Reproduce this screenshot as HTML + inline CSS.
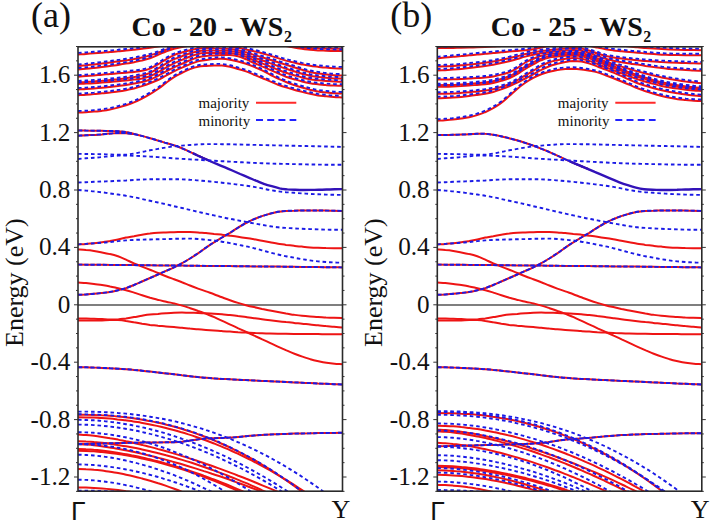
<!DOCTYPE html>
<html><head><meta charset="utf-8"><style>
html,body{margin:0;padding:0;background:#fff;}
svg{display:block;}
text{font-family:"Liberation Serif",serif;fill:#111;}
.tl{font-size:25.2px;text-anchor:end;}
.sym{font-size:26px;}
.gam{font-size:26.5px;font-family:"Liberation Sans",sans-serif;}
.yl{font-size:26px;}
.pl{font-size:36px;}
.tt{font-size:28px;font-weight:bold;}
.lg{font-size:15px;}
.r{fill:none;stroke:#ee1414;stroke-width:2.0;}
.b{fill:none;stroke:#1a1ae6;stroke-width:1.9;stroke-dasharray:3.6 2.9;}
.p{fill:none;stroke:#1a1ae6;stroke-width:1.9;stroke-dasharray:4.3 1.9;}
.v{fill:none;stroke:#3212b8;stroke-width:2.4;}
</style></head><body>
<svg width="712" height="526" viewBox="0 0 712 526">
<clipPath id="ca"><rect x="78.0" y="46.8" width="264.5" height="444.4"/></clipPath>
<g clip-path="url(#ca)">
<line x1="78.0" y1="305.00" x2="342.5" y2="305.00" stroke="#555" stroke-width="1.6"/>
<path d="M78.0,112.5 C79.3,112.5 83.3,112.4 86.0,112.2 C88.7,112.1 91.3,111.8 94.0,111.6 C96.7,111.4 99.3,111.1 102.0,110.8 C104.7,110.4 107.3,110.0 110.0,109.4 C112.7,108.9 115.3,108.3 118.0,107.6 C120.7,106.9 123.3,106.2 126.0,105.3 C128.7,104.4 131.3,103.5 134.0,102.4 C136.7,101.3 139.3,99.9 142.0,98.5 C144.7,97.2 147.3,95.7 150.0,94.1 C152.7,92.6 155.3,90.9 158.0,89.0 C160.7,87.2 163.3,84.9 166.0,82.9 C168.7,80.9 171.3,78.8 174.0,77.2 C176.7,75.5 179.3,74.3 182.0,72.9 C184.7,71.6 187.3,70.2 190.0,69.1 C192.7,68.1 195.3,67.2 198.0,66.7 C200.7,66.1 203.3,66.1 206.0,65.9 C208.7,65.7 211.3,65.6 214.0,65.5 C216.7,65.4 219.3,65.3 222.0,65.5 C224.7,65.7 227.3,66.2 230.0,66.8 C232.7,67.4 235.3,68.2 238.0,69.0 C240.7,69.7 243.3,70.5 246.0,71.4 C248.7,72.4 251.3,73.6 254.0,74.7 C256.7,75.8 259.3,76.9 262.0,78.0 C264.7,79.1 267.3,80.3 270.0,81.4 C272.7,82.5 275.3,83.7 278.0,84.7 C280.7,85.7 283.3,86.6 286.0,87.4 C288.7,88.3 291.3,89.1 294.0,89.8 C296.7,90.6 299.3,91.2 302.0,91.9 C304.7,92.6 307.3,93.2 310.0,93.8 C312.7,94.4 315.3,94.9 318.0,95.4 C320.7,95.8 323.3,96.0 326.0,96.3 C328.7,96.6 331.3,96.9 334.0,97.0 C336.7,97.2 340.7,97.3 342.0,97.4" class="r"/>
<path d="M78.0,95.2 C79.3,95.1 83.3,94.9 86.0,94.7 C88.7,94.5 91.3,94.3 94.0,94.1 C96.7,93.8 99.3,93.6 102.0,93.3 C104.7,93.0 107.3,92.8 110.0,92.5 C112.7,92.1 115.3,91.8 118.0,91.4 C120.7,91.1 123.3,90.7 126.0,90.2 C128.7,89.7 131.3,89.1 134.0,88.5 C136.7,87.8 139.3,87.0 142.0,86.1 C144.7,85.3 147.3,84.4 150.0,83.3 C152.7,82.3 155.3,81.2 158.0,80.0 C160.7,78.7 163.3,77.1 166.0,75.7 C168.7,74.3 171.3,72.7 174.0,71.4 C176.7,70.1 179.3,68.9 182.0,67.7 C184.7,66.5 187.3,65.2 190.0,64.1 C192.7,63.1 195.3,62.1 198.0,61.4 C200.7,60.7 203.3,60.4 206.0,60.0 C208.7,59.6 211.3,59.2 214.0,59.0 C216.7,58.8 219.3,58.6 222.0,58.8 C224.7,58.9 227.3,59.3 230.0,59.8 C232.7,60.2 235.3,60.9 238.0,61.5 C240.7,62.2 243.3,62.9 246.0,63.8 C248.7,64.7 251.3,65.8 254.0,66.9 C256.7,68.1 259.3,69.2 262.0,70.4 C264.7,71.7 267.3,73.1 270.0,74.5 C272.7,75.9 275.3,77.4 278.0,78.7 C280.7,79.9 283.3,81.0 286.0,82.0 C288.7,83.1 291.3,84.1 294.0,85.0 C296.7,85.9 299.3,86.7 302.0,87.5 C304.7,88.3 307.3,89.0 310.0,89.7 C312.7,90.3 315.3,91.0 318.0,91.4 C320.7,91.9 323.3,92.1 326.0,92.4 C328.7,92.7 331.3,93.0 334.0,93.2 C336.7,93.4 340.7,93.4 342.0,93.5" class="r"/>
<path d="M78.0,89.5 C79.3,89.4 83.3,89.3 86.0,89.1 C88.7,88.9 91.3,88.7 94.0,88.5 C96.7,88.3 99.3,88.1 102.0,87.8 C104.7,87.6 107.3,87.3 110.0,87.0 C112.7,86.7 115.3,86.4 118.0,86.1 C120.7,85.7 123.3,85.4 126.0,85.0 C128.7,84.6 131.3,84.1 134.0,83.6 C136.7,83.1 139.3,82.7 142.0,82.0 C144.7,81.3 147.3,80.6 150.0,79.5 C152.7,78.5 155.3,77.1 158.0,75.8 C160.7,74.4 163.3,72.8 166.0,71.4 C168.7,70.0 171.3,68.6 174.0,67.3 C176.7,66.0 179.3,65.0 182.0,63.8 C184.7,62.7 187.3,61.3 190.0,60.3 C192.7,59.2 195.3,58.0 198.0,57.3 C200.7,56.6 203.3,56.2 206.0,55.9 C208.7,55.6 211.3,55.6 214.0,55.4 C216.7,55.3 219.3,55.2 222.0,55.1 C224.7,55.0 227.3,54.8 230.0,55.0 C232.7,55.2 235.3,55.5 238.0,56.2 C240.7,56.9 243.3,58.1 246.0,59.2 C248.7,60.4 251.3,61.8 254.0,63.0 C256.7,64.2 259.3,65.2 262.0,66.4 C264.7,67.5 267.3,68.6 270.0,69.8 C272.7,71.0 275.3,72.3 278.0,73.4 C280.7,74.5 283.3,75.7 286.0,76.7 C288.7,77.6 291.3,78.4 294.0,79.2 C296.7,80.0 299.3,80.8 302.0,81.5 C304.7,82.2 307.3,82.8 310.0,83.3 C312.7,83.8 315.3,84.0 318.0,84.3 C320.7,84.6 323.3,84.8 326.0,85.1 C328.7,85.3 331.3,85.5 334.0,85.6 C336.7,85.7 340.7,85.8 342.0,85.8" class="r"/>
<path d="M78.0,84.0 C79.3,83.9 83.3,83.8 86.0,83.6 C88.7,83.5 91.3,83.4 94.0,83.2 C96.7,83.0 99.3,82.8 102.0,82.6 C104.7,82.4 107.3,82.2 110.0,82.0 C112.7,81.8 115.3,81.6 118.0,81.3 C120.7,81.1 123.3,80.9 126.0,80.6 C128.7,80.3 131.3,80.0 134.0,79.6 C136.7,79.2 139.3,78.9 142.0,78.4 C144.7,77.8 147.3,77.2 150.0,76.2 C152.7,75.2 155.3,73.7 158.0,72.2 C160.7,70.8 163.3,69.1 166.0,67.6 C168.7,66.1 171.3,64.5 174.0,63.3 C176.7,62.0 179.3,61.1 182.0,59.9 C184.7,58.8 187.3,57.6 190.0,56.5 C192.7,55.5 195.3,54.5 198.0,53.9 C200.7,53.3 203.3,53.2 206.0,53.0 C208.7,52.8 211.3,53.0 214.0,53.0 C216.7,53.0 219.3,53.0 222.0,53.0 C224.7,53.0 227.3,52.8 230.0,53.0 C232.7,53.2 235.3,53.5 238.0,54.1 C240.7,54.8 243.3,55.8 246.0,56.8 C248.7,57.9 251.3,59.2 254.0,60.2 C256.7,61.3 259.3,62.3 262.0,63.4 C264.7,64.4 267.3,65.4 270.0,66.5 C272.7,67.5 275.3,68.7 278.0,69.7 C280.7,70.8 283.3,71.8 286.0,72.7 C288.7,73.6 291.3,74.4 294.0,75.2 C296.7,76.0 299.3,76.8 302.0,77.5 C304.7,78.2 307.3,78.8 310.0,79.3 C312.7,79.8 315.3,80.0 318.0,80.3 C320.7,80.6 323.3,80.8 326.0,81.0 C328.7,81.2 331.3,81.4 334.0,81.5 C336.7,81.6 340.7,81.7 342.0,81.7" class="r"/>
<path d="M78.0,82.4 C79.3,82.3 83.3,82.2 86.0,82.0 C88.7,81.8 91.3,81.6 94.0,81.4 C96.7,81.2 99.3,81.0 102.0,80.8 C104.7,80.5 107.3,80.3 110.0,80.0 C112.7,79.7 115.3,79.5 118.0,79.2 C120.7,78.9 123.3,78.6 126.0,78.2 C128.7,77.8 131.3,77.4 134.0,77.0 C136.7,76.5 139.3,76.1 142.0,75.4 C144.7,74.8 147.3,74.1 150.0,72.9 C152.7,71.8 155.3,70.1 158.0,68.5 C160.7,67.0 163.3,65.1 166.0,63.6 C168.7,62.0 171.3,60.4 174.0,59.2 C176.7,58.0 179.3,57.2 182.0,56.2 C184.7,55.2 187.3,54.2 190.0,53.3 C192.7,52.5 195.3,51.7 198.0,51.2 C200.7,50.7 203.3,50.6 206.0,50.5 C208.7,50.4 211.3,50.5 214.0,50.6 C216.7,50.6 219.3,50.7 222.0,50.7 C224.7,50.8 227.3,50.8 230.0,51.0 C232.7,51.2 235.3,51.6 238.0,52.2 C240.7,52.8 243.3,53.7 246.0,54.6 C248.7,55.5 251.3,56.6 254.0,57.6 C256.7,58.5 259.3,59.4 262.0,60.3 C264.7,61.2 267.3,62.1 270.0,63.1 C272.7,64.0 275.3,65.0 278.0,66.0 C280.7,66.9 283.3,67.9 286.0,68.8 C288.7,69.6 291.3,70.4 294.0,71.2 C296.7,72.0 299.3,72.9 302.0,73.7 C304.7,74.4 307.3,75.1 310.0,75.7 C312.7,76.2 315.3,76.5 318.0,76.9 C320.7,77.2 323.3,77.5 326.0,77.7 C328.7,78.0 331.3,78.2 334.0,78.4 C336.7,78.5 340.7,78.6 342.0,78.6" class="r"/>
<path d="M78.0,76.8 C79.3,76.7 83.3,76.4 86.0,76.1 C88.7,75.9 91.3,75.7 94.0,75.5 C96.7,75.2 99.3,75.0 102.0,74.7 C104.7,74.5 107.3,74.2 110.0,74.0 C112.7,73.8 115.3,73.5 118.0,73.3 C120.7,73.1 123.3,72.9 126.0,72.7 C128.7,72.4 131.3,72.2 134.0,71.9 C136.7,71.6 139.3,71.4 142.0,70.8 C144.7,70.3 147.3,69.7 150.0,68.6 C152.7,67.6 155.3,65.9 158.0,64.3 C160.7,62.8 163.3,60.9 166.0,59.3 C168.7,57.8 171.3,56.2 174.0,55.1 C176.7,53.9 179.3,53.3 182.0,52.5 C184.7,51.7 187.3,50.9 190.0,50.2 C192.7,49.6 195.3,48.9 198.0,48.5 C200.7,48.2 203.3,48.1 206.0,48.0 C208.7,47.9 211.3,48.1 214.0,48.2 C216.7,48.2 219.3,48.4 222.0,48.5 C224.7,48.6 227.3,48.7 230.0,49.0 C232.7,49.3 235.3,49.6 238.0,50.2 C240.7,50.7 243.3,51.5 246.0,52.3 C248.7,53.1 251.3,54.0 254.0,54.9 C256.7,55.7 259.3,56.5 262.0,57.3 C264.7,58.1 267.3,58.9 270.0,59.7 C272.7,60.5 275.3,61.4 278.0,62.3 C280.7,63.1 283.3,64.0 286.0,64.8 C288.7,65.6 291.3,66.4 294.0,67.2 C296.7,68.1 299.3,69.0 302.0,69.8 C304.7,70.6 307.3,71.4 310.0,72.0 C312.7,72.6 315.3,73.0 318.0,73.4 C320.7,73.8 323.3,74.2 326.0,74.5 C328.7,74.8 331.3,75.1 334.0,75.3 C336.7,75.5 340.7,75.5 342.0,75.6" class="r"/>
<path d="M78.0,69.5 C79.3,69.4 83.3,69.1 86.0,68.8 C88.7,68.6 91.3,68.3 94.0,68.0 C96.7,67.7 99.3,67.4 102.0,67.0 C104.7,66.7 107.3,66.4 110.0,66.0 C112.7,65.6 115.3,65.3 118.0,64.9 C120.7,64.5 123.3,64.1 126.0,63.6 C128.7,63.2 131.3,62.7 134.0,62.2 C136.7,61.6 139.3,61.1 142.0,60.5 C144.7,59.8 147.3,59.1 150.0,58.2 C152.7,57.3 155.3,56.1 158.0,54.9 C160.7,53.8 163.3,52.6 166.0,51.5 C168.7,50.5 171.3,49.5 174.0,48.7 C176.7,48.0 179.3,47.5 182.0,47.0 C184.7,46.4 187.3,45.9 190.0,45.5 C192.7,45.0 195.3,44.6 198.0,44.4 C200.7,44.1 203.3,44.0 206.0,44.0 C208.7,44.0 211.3,44.2 214.0,44.5 C216.7,44.7 219.3,45.1 222.0,45.4 C224.7,45.7 227.3,46.1 230.0,46.5 C232.7,46.9 235.3,47.3 238.0,47.8 C240.7,48.3 243.3,48.8 246.0,49.4 C248.7,50.0 251.3,50.6 254.0,51.3 C256.7,51.9 259.3,52.5 262.0,53.3 C264.7,54.0 267.3,54.8 270.0,55.6 C272.7,56.4 275.3,57.3 278.0,58.1 C280.7,59.0 283.3,59.8 286.0,60.6 C288.7,61.3 291.3,61.9 294.0,62.5 C296.7,63.2 299.3,63.8 302.0,64.4 C304.7,64.9 307.3,65.4 310.0,65.8 C312.7,66.3 315.3,66.5 318.0,66.8 C320.7,67.1 323.3,67.4 326.0,67.6 C328.7,67.8 331.3,68.0 334.0,68.2 C336.7,68.3 340.7,68.4 342.0,68.4" class="r"/>
<path d="M78.0,66.0 C79.3,65.9 83.3,65.5 86.0,65.3 C88.7,65.0 91.3,64.7 94.0,64.4 C96.7,64.1 99.3,63.8 102.0,63.5 C104.7,63.2 107.3,62.8 110.0,62.5 C112.7,62.2 115.3,61.8 118.0,61.4 C120.7,61.1 123.3,60.7 126.0,60.3 C128.7,59.9 131.3,59.4 134.0,59.0 C136.7,58.5 139.3,58.0 142.0,57.4 C144.7,56.8 147.3,56.2 150.0,55.4 C152.7,54.7 155.3,53.7 158.0,52.8 C160.7,51.8 163.3,50.8 166.0,49.8 C168.7,48.9 171.3,47.9 174.0,47.0 C176.7,46.1 179.3,45.3 182.0,44.4 C184.7,43.5 187.3,42.5 190.0,41.6 C192.7,40.7 195.3,39.8 198.0,39.2 C200.7,38.6 203.3,38.2 206.0,37.9 C208.7,37.6 211.3,37.4 214.0,37.2 C216.7,37.0 219.3,36.8 222.0,36.6 C224.7,36.4 227.3,36.3 230.0,36.2 C232.7,36.1 235.3,36.0 238.0,36.0 C240.7,36.0 243.3,36.1 246.0,36.4 C248.7,36.8 251.3,37.4 254.0,38.0 C256.7,38.7 259.3,39.5 262.0,40.3 C264.7,41.0 267.3,41.9 270.0,42.6 C272.7,43.3 275.3,43.8 278.0,44.4 C280.7,45.0 283.3,45.5 286.0,46.1 C288.7,46.6 291.3,47.1 294.0,47.6 C296.7,48.0 299.3,48.4 302.0,48.8 C304.7,49.1 307.3,49.5 310.0,49.7 C312.7,50.0 315.3,50.2 318.0,50.4 C320.7,50.6 323.3,50.6 326.0,50.7 C328.7,50.8 331.3,50.9 334.0,50.9 C336.7,51.0 340.7,51.0 342.0,51.0" class="r"/>
<path d="M78.0,54.4 C79.3,54.3 83.3,54.1 86.0,53.9 C88.7,53.7 91.3,53.5 94.0,53.3 C96.7,53.1 99.3,52.9 102.0,52.7 C104.7,52.5 107.3,52.2 110.0,52.0 C112.7,51.8 115.3,51.5 118.0,51.3 C120.7,51.0 123.3,50.8 126.0,50.5 C128.7,50.3 131.3,50.0 134.0,49.7 C136.7,49.4 139.3,49.1 142.0,48.8 C144.7,48.4 147.3,48.1 150.0,47.7 C152.7,47.3 155.3,46.9 158.0,46.4 C160.7,46.0 163.3,45.5 166.0,45.0 C168.7,44.6 171.3,44.1 174.0,43.6 C176.7,43.0 179.3,42.5 182.0,41.9 C184.7,41.3 187.3,40.6 190.0,40.0 C192.7,39.3 195.3,38.6 198.0,38.0 C200.7,37.4 203.3,36.8 206.0,36.5 C208.7,36.1 211.3,35.9 214.0,35.7 C216.7,35.4 219.3,35.3 222.0,35.1 C224.7,34.9 227.3,34.7 230.0,34.6 C232.7,34.4 235.3,34.3 238.0,34.2 C240.7,34.1 243.3,34.0 246.0,34.0 C248.7,34.1 251.3,33.9 254.0,34.4 C256.7,34.9 259.3,35.9 262.0,36.9 C264.7,37.9 267.3,39.3 270.0,40.4 C272.7,41.5 275.3,42.7 278.0,43.5 C280.7,44.3 283.3,44.8 286.0,45.3 C288.7,45.9 291.3,46.5 294.0,46.9 C296.7,47.2 299.3,47.4 302.0,47.6 C304.7,47.8 307.3,47.9 310.0,48.0 C312.7,48.1 315.3,48.3 318.0,48.3 C320.7,48.4 323.3,48.5 326.0,48.6 C328.7,48.7 331.3,48.7 334.0,48.7 C336.7,48.8 340.7,48.8 342.0,48.8" class="r"/>
<path d="M78.0,130.5 C79.3,130.5 83.3,130.5 86.0,130.6 C88.7,130.6 91.3,130.7 94.0,130.7 C96.7,130.7 99.3,130.8 102.0,130.8 C104.7,130.9 107.3,130.9 110.0,131.0 C112.7,131.0 115.3,131.0 118.0,131.2 C120.7,131.4 123.3,131.6 126.0,132.1 C128.7,132.5 132.7,133.7 134.0,134.0" class="r"/>
<path d="M78.0,135.7 C79.3,135.6 83.3,135.5 86.0,135.3 C88.7,135.2 91.3,135.0 94.0,134.9 C96.7,134.7 99.3,134.6 102.0,134.4 C104.7,134.1 107.3,133.8 110.0,133.6 C112.7,133.4 115.3,133.1 118.0,133.0 C120.7,133.0 123.3,133.0 126.0,133.2 C128.7,133.4 132.7,133.9 134.0,134.0" class="r"/>
<path d="M134.0,134.0 C135.3,134.3 139.1,135.2 141.7,135.9 C144.2,136.6 146.8,137.2 149.3,138.0 C151.9,138.7 154.5,139.5 157.0,140.3 C159.6,141.0 162.1,141.8 164.7,142.6 C167.2,143.3 169.8,144.0 172.3,144.8 C174.9,145.6 177.5,146.5 180.0,147.5 C182.6,148.5 185.1,149.8 187.7,150.9 C190.2,152.0 192.8,153.2 195.4,154.4 C197.9,155.5 200.5,156.7 203.0,157.8 C205.6,159.0 209.4,160.8 210.7,161.4" class="r"/>
<path d="M78.0,294.7 C79.3,294.7 83.3,294.6 86.0,294.5 C88.7,294.3 91.3,294.1 94.0,293.8 C96.7,293.6 99.3,293.3 102.0,293.0 C104.7,292.7 107.3,292.4 110.0,291.9 C112.7,291.5 115.3,290.9 118.0,290.3 C120.7,289.6 123.3,289.0 126.0,288.1 C128.7,287.2 131.3,286.1 134.0,285.0 C136.7,283.9 139.3,282.7 142.0,281.5 C144.7,280.3 147.3,279.2 150.0,278.0 C152.7,276.9 155.3,275.6 158.0,274.5 C160.7,273.3 163.3,272.1 166.0,270.9 C168.7,269.7 171.3,268.6 174.0,267.3 C176.7,266.0 179.3,264.7 182.0,263.2 C184.7,261.8 187.3,260.1 190.0,258.5 C192.7,256.8 195.3,255.1 198.0,253.3 C200.7,251.5 203.3,249.4 206.0,247.6 C208.7,245.7 211.3,243.9 214.0,242.3 C216.7,240.6 219.3,239.1 222.0,237.5 C224.7,235.9 227.3,234.4 230.0,232.8 C232.7,231.1 235.3,229.3 238.0,227.7 C240.7,226.1 243.3,224.4 246.0,223.0 C248.7,221.6 251.3,220.4 254.0,219.2 C256.7,218.1 259.3,217.0 262.0,216.1 C264.7,215.2 267.3,214.5 270.0,213.7 C272.7,213.0 275.3,212.3 278.0,211.8 C280.7,211.3 283.3,211.1 286.0,210.9 C288.7,210.7 291.3,210.7 294.0,210.7 C296.7,210.6 299.3,210.6 302.0,210.5 C304.7,210.5 307.3,210.5 310.0,210.5 C312.7,210.5 315.3,210.5 318.0,210.5 C320.7,210.5 323.3,210.6 326.0,210.6 C328.7,210.6 331.3,210.7 334.0,210.7 C336.7,210.8 340.7,210.9 342.0,210.9" class="r"/>
<path d="M78.0,244.4 C79.3,244.3 83.3,244.1 86.0,243.9 C88.7,243.7 91.3,243.4 94.0,243.2 C96.7,242.9 99.3,242.6 102.0,242.2 C104.7,241.9 107.3,241.5 110.0,241.1 C112.7,240.6 115.3,240.0 118.0,239.4 C120.7,238.8 123.3,238.2 126.0,237.6 C128.7,237.1 131.3,236.6 134.0,236.2 C136.7,235.7 139.3,235.2 142.0,234.8 C144.7,234.4 147.3,233.9 150.0,233.6 C152.7,233.2 155.3,232.9 158.0,232.7 C160.7,232.5 163.3,232.5 166.0,232.4 C168.7,232.3 171.3,232.3 174.0,232.2 C176.7,232.1 179.3,232.1 182.0,232.0 C184.7,232.0 187.3,231.9 190.0,232.0 C192.7,232.1 195.3,232.2 198.0,232.4 C200.7,232.6 203.3,232.9 206.0,233.1 C208.7,233.4 211.3,233.6 214.0,233.9 C216.7,234.1 219.3,234.4 222.0,234.7 C224.7,235.1 227.3,235.4 230.0,235.7 C232.7,236.1 235.3,236.5 238.0,236.8 C240.7,237.2 243.3,237.6 246.0,238.0 C248.7,238.4 251.3,238.8 254.0,239.2 C256.7,239.7 259.3,240.3 262.0,240.8 C264.7,241.3 267.3,241.8 270.0,242.3 C272.7,242.8 275.3,243.4 278.0,243.8 C280.7,244.2 283.3,244.5 286.0,244.9 C288.7,245.2 291.3,245.5 294.0,245.8 C296.7,246.1 299.3,246.4 302.0,246.6 C304.7,246.9 307.3,247.2 310.0,247.4 C312.7,247.6 315.3,247.7 318.0,247.8 C320.7,248.0 323.3,248.0 326.0,248.1 C328.7,248.1 331.3,248.1 334.0,248.2 C336.7,248.2 340.7,248.2 342.0,248.2" class="r"/>
<path d="M78.0,249.5 C79.3,249.6 83.3,249.8 86.0,250.1 C88.7,250.3 91.3,250.6 94.0,251.0 C96.7,251.4 99.3,251.9 102.0,252.4 C104.7,252.9 107.3,253.4 110.0,254.1 C112.7,254.7 115.3,255.4 118.0,256.3 C120.7,257.3 123.3,258.5 126.0,259.7 C128.7,260.9 131.3,262.3 134.0,263.4 C136.7,264.5 139.3,265.5 142.0,266.6 C144.7,267.7 147.3,268.7 150.0,269.7 C152.7,270.8 155.3,272.0 158.0,273.0 C160.7,274.1 163.3,275.2 166.0,276.2 C168.7,277.3 171.3,278.2 174.0,279.2 C176.7,280.2 179.3,281.2 182.0,282.3 C184.7,283.3 187.3,284.5 190.0,285.5 C192.7,286.6 195.3,287.6 198.0,288.6 C200.7,289.6 203.3,290.5 206.0,291.4 C208.7,292.3 211.3,293.3 214.0,294.2 C216.7,295.2 219.3,296.3 222.0,297.3 C224.7,298.3 227.3,299.3 230.0,300.2 C232.7,301.2 235.3,302.1 238.0,302.9 C240.7,303.8 243.3,304.5 246.0,305.2 C248.7,305.9 251.3,306.5 254.0,307.1 C256.7,307.7 259.3,308.3 262.0,308.9 C264.7,309.4 267.3,310.0 270.0,310.5 C272.7,311.0 275.3,311.5 278.0,312.0 C280.7,312.5 283.3,313.0 286.0,313.5 C288.7,313.9 291.3,314.4 294.0,314.8 C296.7,315.2 299.3,315.6 302.0,315.8 C304.7,316.1 307.3,316.3 310.0,316.5 C312.7,316.7 315.3,316.8 318.0,317.0 C320.7,317.2 323.3,317.3 326.0,317.5 C328.7,317.6 331.3,317.7 334.0,317.8 C336.7,317.9 340.7,317.9 342.0,317.9" class="r"/>
<path d="M78.0,264.6 C79.3,264.6 83.3,264.6 86.0,264.7 C88.7,264.7 91.3,264.7 94.0,264.7 C96.7,264.8 99.3,264.8 102.0,264.8 C104.7,264.8 107.3,264.9 110.0,264.9 C112.7,264.9 115.3,264.9 118.0,265.0 C120.7,265.0 123.3,265.0 126.0,265.1 C128.7,265.1 131.3,265.1 134.0,265.1 C136.7,265.2 139.3,265.2 142.0,265.2 C144.7,265.2 147.3,265.3 150.0,265.3 C152.7,265.3 155.3,265.3 158.0,265.4 C160.7,265.4 163.3,265.4 166.0,265.4 C168.7,265.5 171.3,265.5 174.0,265.5 C176.7,265.6 179.3,265.6 182.0,265.6 C184.7,265.6 187.3,265.7 190.0,265.7 C192.7,265.7 195.3,265.7 198.0,265.8 C200.7,265.8 203.3,265.8 206.0,265.9 C208.7,265.9 211.3,265.9 214.0,265.9 C216.7,266.0 219.3,266.0 222.0,266.0 C224.7,266.1 227.3,266.1 230.0,266.1 C232.7,266.1 235.3,266.2 238.0,266.2 C240.7,266.2 243.3,266.3 246.0,266.3 C248.7,266.3 251.3,266.3 254.0,266.4 C256.7,266.4 259.3,266.4 262.0,266.5 C264.7,266.5 267.3,266.5 270.0,266.6 C272.7,266.6 275.3,266.6 278.0,266.6 C280.7,266.7 283.3,266.7 286.0,266.7 C288.7,266.8 291.3,266.8 294.0,266.8 C296.7,266.9 299.3,266.9 302.0,266.9 C304.7,267.0 307.3,267.0 310.0,267.0 C312.7,267.0 315.3,267.1 318.0,267.1 C320.7,267.1 323.3,267.2 326.0,267.2 C328.7,267.2 331.3,267.3 334.0,267.3 C336.7,267.3 340.7,267.4 342.0,267.4" class="r"/>
<path d="M78.0,282.5 C79.3,282.6 83.3,282.8 86.0,283.0 C88.7,283.3 91.4,283.6 94.0,283.9 C96.7,284.3 99.4,284.6 102.0,285.0 C104.7,285.4 107.4,285.8 110.1,286.4 C112.7,286.9 115.4,287.6 118.1,288.2 C120.7,288.9 123.4,289.6 126.1,290.3 C128.8,291.0 131.4,291.8 134.1,292.6 C136.8,293.5 139.4,294.4 142.1,295.2 C144.8,296.1 147.5,297.0 150.1,297.8 C152.8,298.5 155.5,299.3 158.2,299.9 C160.8,300.6 163.5,301.1 166.2,301.7 C168.8,302.3 171.5,302.8 174.2,303.4 C176.9,304.1 179.5,304.8 182.2,305.6 C184.9,306.4 187.5,307.3 190.2,308.2 C192.9,309.1 195.6,310.0 198.2,311.0 C200.9,311.9 203.6,312.9 206.2,313.9 C208.9,315.0 211.6,316.0 214.3,317.2 C216.9,318.4 219.6,319.6 222.3,320.9 C224.9,322.1 227.6,323.4 230.3,324.6 C233.0,325.8 235.6,327.0 238.3,328.3 C241.0,329.5 243.6,330.8 246.3,332.0 C249.0,333.2 251.7,334.4 254.3,335.7 C257.0,336.9 259.7,338.1 262.3,339.4 C265.0,340.6 267.7,341.8 270.4,343.1 C273.0,344.3 275.7,345.6 278.4,346.8 C281.1,348.0 283.7,349.2 286.4,350.4 C289.1,351.5 291.7,352.7 294.4,353.7 C297.1,354.7 299.8,355.7 302.4,356.6 C305.1,357.6 307.8,358.4 310.4,359.2 C313.1,360.0 315.8,360.6 318.5,361.2 C321.1,361.8 323.8,362.4 326.5,362.8 C329.1,363.2 331.8,363.5 334.5,363.7 C337.2,363.9 341.2,364.1 342.5,364.2" class="r"/>
<path d="M78.0,318.5 C79.3,318.5 83.3,318.6 86.0,318.6 C88.7,318.7 91.3,318.8 94.0,318.8 C96.7,318.9 99.3,319.0 102.0,319.1 C104.7,319.2 107.3,319.4 110.0,319.4 C112.7,319.5 115.3,319.5 118.0,319.4 C120.7,319.2 123.3,318.8 126.0,318.5 C128.7,318.1 131.3,317.6 134.0,317.1 C136.7,316.7 139.3,316.1 142.0,315.7 C144.7,315.3 147.3,314.9 150.0,314.6 C152.7,314.3 155.3,314.1 158.0,313.9 C160.7,313.6 163.3,313.4 166.0,313.2 C168.7,313.0 171.3,312.8 174.0,312.7 C176.7,312.6 179.3,312.6 182.0,312.6 C184.7,312.6 187.3,312.7 190.0,312.7 C192.7,312.8 195.3,312.9 198.0,313.0 C200.7,313.1 203.3,313.2 206.0,313.3 C208.7,313.4 211.3,313.5 214.0,313.7 C216.7,313.9 219.3,314.1 222.0,314.3 C224.7,314.6 227.3,314.8 230.0,315.1 C232.7,315.4 235.3,315.7 238.0,316.1 C240.7,316.4 243.3,316.8 246.0,317.1 C248.7,317.5 251.3,317.9 254.0,318.2 C256.7,318.6 259.3,319.0 262.0,319.3 C264.7,319.7 267.3,320.0 270.0,320.3 C272.7,320.6 275.3,320.9 278.0,321.2 C280.7,321.5 283.3,321.8 286.0,322.1 C288.7,322.3 291.3,322.6 294.0,322.9 C296.7,323.2 299.3,323.4 302.0,323.7 C304.7,324.0 307.3,324.2 310.0,324.5 C312.7,324.8 315.3,325.0 318.0,325.3 C320.7,325.6 323.3,325.8 326.0,326.1 C328.7,326.3 331.3,326.6 334.0,326.8 C336.7,327.1 340.7,327.5 342.0,327.6" class="r"/>
<path d="M78.0,320.5 C79.3,320.5 83.3,320.5 86.0,320.5 C88.7,320.5 91.3,320.5 94.0,320.5 C96.7,320.5 99.3,320.5 102.0,320.5 C104.7,320.4 107.3,320.1 110.0,320.1 C112.7,320.0 115.3,320.0 118.0,320.1 C120.7,320.3 123.3,320.6 126.0,321.0 C128.7,321.3 131.3,321.8 134.0,322.3 C136.7,322.7 139.3,323.2 142.0,323.7 C144.7,324.1 147.3,324.5 150.0,324.9 C152.7,325.2 155.3,325.4 158.0,325.7 C160.7,325.9 163.3,326.2 166.0,326.4 C168.7,326.7 171.3,326.9 174.0,327.1 C176.7,327.3 179.3,327.6 182.0,327.8 C184.7,328.1 187.3,328.3 190.0,328.6 C192.7,328.8 195.3,329.1 198.0,329.3 C200.7,329.6 203.3,329.8 206.0,330.0 C208.7,330.2 211.3,330.4 214.0,330.6 C216.7,330.8 219.3,330.9 222.0,331.1 C224.7,331.3 227.3,331.5 230.0,331.6 C232.7,331.8 235.3,332.0 238.0,332.2 C240.7,332.3 243.3,332.5 246.0,332.6 C248.7,332.8 251.3,332.9 254.0,333.0 C256.7,333.1 259.3,333.3 262.0,333.3 C264.7,333.4 267.3,333.5 270.0,333.6 C272.7,333.7 275.3,333.7 278.0,333.7 C280.7,333.8 283.3,333.8 286.0,333.8 C288.7,333.9 291.3,333.9 294.0,333.9 C296.7,333.9 299.3,334.0 302.0,334.0 C304.7,334.0 307.3,334.0 310.0,334.1 C312.7,334.1 315.3,334.1 318.0,334.1 C320.7,334.1 323.3,334.2 326.0,334.2 C328.7,334.2 331.3,334.2 334.0,334.2 C336.7,334.2 340.7,334.2 342.0,334.2" class="r"/>
<path d="M78.0,367.2 C79.3,367.2 83.3,367.3 86.0,367.3 C88.7,367.4 91.3,367.5 94.0,367.6 C96.7,367.6 99.3,367.8 102.0,367.9 C104.7,368.0 107.3,368.1 110.0,368.3 C112.7,368.4 115.3,368.6 118.0,368.7 C120.7,368.9 123.3,369.0 126.0,369.2 C128.7,369.4 131.3,369.6 134.0,369.9 C136.7,370.1 139.3,370.4 142.0,370.7 C144.7,371.0 147.3,371.3 150.0,371.6 C152.7,371.9 155.3,372.2 158.0,372.5 C160.7,372.8 163.3,373.1 166.0,373.4 C168.7,373.7 171.3,374.0 174.0,374.3 C176.7,374.6 179.3,374.9 182.0,375.3 C184.7,375.6 187.3,375.9 190.0,376.2 C192.7,376.5 195.3,376.8 198.0,377.1 C200.7,377.3 203.3,377.6 206.0,377.8 C208.7,378.0 211.3,378.2 214.0,378.4 C216.7,378.6 219.3,378.7 222.0,378.9 C224.7,379.0 227.3,379.2 230.0,379.3 C232.7,379.5 235.3,379.6 238.0,379.7 C240.7,379.9 243.3,380.0 246.0,380.1 C248.7,380.3 251.3,380.4 254.0,380.5 C256.7,380.6 259.3,380.7 262.0,380.9 C264.7,381.0 267.3,381.1 270.0,381.2 C272.7,381.3 275.3,381.5 278.0,381.6 C280.7,381.7 283.3,381.9 286.0,382.0 C288.7,382.1 291.3,382.2 294.0,382.4 C296.7,382.5 299.3,382.6 302.0,382.7 C304.7,382.9 307.3,383.0 310.0,383.1 C312.7,383.2 315.3,383.3 318.0,383.5 C320.7,383.6 323.3,383.7 326.0,383.8 C328.7,383.9 331.3,384.0 334.0,384.2 C336.7,384.3 340.7,384.4 342.0,384.5" class="r"/>
<path d="M78.0,444.1 C79.3,444.1 83.3,444.0 86.0,443.9 C88.7,443.8 91.3,443.7 94.0,443.7 C96.7,443.6 99.3,443.5 102.0,443.5 C104.7,443.4 107.3,443.4 110.0,443.3 C112.7,443.2 115.3,443.2 118.0,443.1 C120.7,443.1 123.3,443.0 126.0,442.9 C128.7,442.9 131.3,442.8 134.0,442.8 C136.7,442.7 139.3,442.7 142.0,442.6 C144.7,442.6 147.3,442.5 150.0,442.5 C152.7,442.5 155.3,442.4 158.0,442.4 C160.7,442.4 163.3,442.4 166.0,442.3 C168.7,442.3 171.3,442.3 174.0,442.2 C176.7,442.0 179.3,441.9 182.0,441.7 C184.7,441.4 187.3,441.0 190.0,440.6 C192.7,440.2 195.3,439.8 198.0,439.4 C200.7,439.1 203.3,438.7 206.0,438.5 C208.7,438.3 211.3,438.3 214.0,438.2 C216.7,438.1 219.3,438.1 222.0,438.0 C224.7,437.9 227.3,437.8 230.0,437.6 C232.7,437.5 235.3,437.2 238.0,437.0 C240.7,436.8 243.3,436.5 246.0,436.2 C248.7,436.0 251.3,435.7 254.0,435.5 C256.7,435.3 259.3,435.0 262.0,434.9 C264.7,434.7 267.3,434.6 270.0,434.5 C272.7,434.4 275.3,434.3 278.0,434.2 C280.7,434.1 283.3,434.0 286.0,433.9 C288.7,433.8 291.3,433.7 294.0,433.6 C296.7,433.6 299.3,433.5 302.0,433.5 C304.7,433.4 307.3,433.3 310.0,433.3 C312.7,433.2 315.3,433.2 318.0,433.1 C320.7,433.1 323.3,433.0 326.0,433.0 C328.7,432.9 331.3,432.9 334.0,432.9 C336.7,432.8 340.7,432.8 342.0,432.8" class="r"/>
<path d="M78.0,414.7 C79.3,414.7 83.3,414.7 85.9,414.8 C88.5,414.8 91.1,414.8 93.8,414.9 C96.4,415.0 99.0,415.1 101.7,415.3 C104.3,415.4 106.9,415.5 109.6,415.7 C112.2,415.9 114.8,416.1 117.4,416.4 C120.1,416.6 122.7,416.9 125.3,417.2 C128.0,417.5 130.6,417.9 133.2,418.2 C135.9,418.6 138.5,419.0 141.1,419.4 C143.7,419.9 146.4,420.4 149.0,420.9 C151.6,421.4 154.3,421.9 156.9,422.5 C159.5,423.0 162.2,423.6 164.8,424.3 C167.4,424.9 170.0,425.6 172.7,426.3 C175.3,427.0 177.9,427.7 180.6,428.5 C183.2,429.3 185.8,430.1 188.5,431.0 C191.1,431.8 193.7,432.7 196.3,433.6 C199.0,434.6 201.6,435.5 204.2,436.5 C206.9,437.5 209.5,438.6 212.1,439.6 C214.8,440.7 217.4,441.8 220.0,443.0 C222.6,444.1 225.3,445.3 227.9,446.5 C230.5,447.8 233.2,449.0 235.8,450.4 C238.4,451.7 241.1,453.0 243.7,454.4 C246.3,455.8 248.9,457.2 251.6,458.7 C254.2,460.1 256.8,461.6 259.5,463.2 C262.1,464.7 264.7,466.3 267.4,467.9 C270.0,469.6 272.6,471.2 275.2,472.9 C277.9,474.7 280.5,476.4 283.1,478.2 C285.8,480.0 288.4,481.8 291.0,483.7 C293.7,485.6 296.3,487.5 298.9,489.4 C301.5,491.4 304.2,493.4 306.8,495.4 C309.4,497.5 312.1,499.6 314.7,501.7 C317.3,503.8 320.0,506.0 322.6,508.2 C325.2,510.4 329.2,513.8 330.5,515.0" class="r"/>
<path d="M78.0,417.3 C79.3,417.3 83.3,417.3 85.9,417.4 C88.5,417.4 91.1,417.5 93.8,417.6 C96.4,417.7 99.0,417.9 101.7,418.0 C104.3,418.2 106.9,418.4 109.6,418.6 C112.2,418.8 114.8,419.1 117.4,419.4 C120.1,419.6 122.7,420.0 125.3,420.3 C128.0,420.7 130.6,421.0 133.2,421.4 C135.9,421.8 138.5,422.3 141.1,422.7 C143.7,423.2 146.4,423.7 149.0,424.2 C151.6,424.7 154.3,425.3 156.9,425.9 C159.5,426.5 162.2,427.1 164.8,427.7 C167.4,428.4 170.0,429.0 172.7,429.8 C175.3,430.5 177.9,431.2 180.6,432.0 C183.2,432.7 185.8,433.5 188.5,434.4 C191.1,435.2 193.7,436.1 196.3,437.0 C199.0,437.9 201.6,438.8 204.2,439.8 C206.9,440.7 209.5,441.7 212.1,442.7 C214.8,443.8 217.4,444.8 220.0,445.9 C222.6,447.0 225.3,448.1 227.9,449.2 C230.5,450.4 233.2,451.6 235.8,452.8 C238.4,454.0 241.1,455.2 243.7,456.5 C246.3,457.8 248.9,459.1 251.6,460.4 C254.2,461.8 256.8,463.2 259.5,464.6 C262.1,466.0 264.7,467.4 267.4,468.9 C270.0,470.3 272.6,471.8 275.2,473.4 C277.9,474.9 280.5,476.5 283.1,478.1 C285.8,479.7 288.4,481.3 291.0,482.9 C293.7,484.6 296.3,486.3 298.9,488.0 C301.5,489.8 304.2,491.5 306.8,493.3 C309.4,495.1 312.1,496.9 314.7,498.8 C317.3,500.6 320.0,502.5 322.6,504.4 C325.2,506.4 329.2,509.3 330.5,510.3" class="r"/>
<path d="M78.0,434.5 C79.3,434.6 83.3,434.8 86.0,435.0 C88.7,435.2 91.4,435.5 94.0,435.8 C96.7,436.1 99.4,436.5 102.0,436.9 C104.7,437.3 107.4,437.7 110.1,438.2 C112.7,438.6 115.4,439.1 118.1,439.6 C120.7,440.2 123.4,440.7 126.1,441.3 C128.8,441.8 131.4,442.4 134.1,443.0 C136.8,443.6 139.4,444.3 142.1,444.9 C144.8,445.6 147.5,446.2 150.1,446.9 C152.8,447.6 155.5,448.3 158.2,449.1 C160.8,449.8 163.5,450.5 166.2,451.3 C168.8,452.1 171.5,452.8 174.2,453.6 C176.9,454.4 179.5,455.2 182.2,456.1 C184.9,456.9 187.5,457.7 190.2,458.6 C192.9,459.5 195.6,460.3 198.2,461.2 C200.9,462.1 203.6,463.0 206.2,464.0 C208.9,464.9 211.6,465.8 214.3,466.8 C216.9,467.7 219.6,468.7 222.3,469.6 C224.9,470.6 227.6,471.6 230.3,472.6 C233.0,473.6 235.6,474.6 238.3,475.7 C241.0,476.7 243.6,477.7 246.3,478.8 C249.0,479.8 251.7,480.9 254.3,482.0 C257.0,483.1 259.7,484.2 262.3,485.3 C265.0,486.4 267.7,487.5 270.4,488.6 C273.0,489.7 275.7,490.9 278.4,492.0 C281.1,493.2 283.7,494.3 286.4,495.5 C289.1,496.7 291.7,497.9 294.4,499.1 C297.1,500.3 299.8,501.5 302.4,502.7 C305.1,503.9 307.8,505.1 310.4,506.4 C313.1,507.6 317.1,509.5 318.5,510.1" class="r"/>
<path d="M78.0,441.3 C79.3,441.3 83.3,441.4 86.0,441.6 C88.7,441.7 91.4,441.8 94.0,442.1 C96.7,442.3 99.4,442.5 102.0,442.8 C104.7,443.1 107.4,443.4 110.1,443.8 C112.7,444.2 115.4,444.5 118.1,445.0 C120.7,445.4 123.4,445.8 126.1,446.3 C128.8,446.8 131.4,447.3 134.1,447.8 C136.8,448.3 139.4,448.9 142.1,449.4 C144.8,450.0 147.5,450.6 150.1,451.2 C152.8,451.9 155.5,452.5 158.2,453.2 C160.8,453.9 163.5,454.5 166.2,455.3 C168.8,456.0 171.5,456.7 174.2,457.5 C176.9,458.3 179.5,459.1 182.2,459.9 C184.9,460.7 187.5,461.5 190.2,462.3 C192.9,463.2 195.6,464.1 198.2,465.0 C200.9,465.9 203.6,466.8 206.2,467.7 C208.9,468.6 211.6,469.6 214.3,470.6 C216.9,471.6 219.6,472.6 222.3,473.6 C224.9,474.6 227.6,475.6 230.3,476.7 C233.0,477.7 235.6,478.8 238.3,479.9 C241.0,481.0 243.6,482.1 246.3,483.2 C249.0,484.4 251.7,485.5 254.3,486.7 C257.0,487.9 259.7,489.0 262.3,490.3 C265.0,491.5 267.7,492.7 270.4,493.9 C273.0,495.2 275.7,496.4 278.4,497.7 C281.1,499.0 283.7,500.3 286.4,501.6 C289.1,502.9 293.1,504.9 294.4,505.6" class="r"/>
<path d="M78.0,444.0 C79.3,444.1 83.3,444.3 85.9,444.5 C88.5,444.7 91.1,444.9 93.8,445.2 C96.4,445.5 99.0,445.8 101.6,446.2 C104.3,446.6 106.9,447.0 109.5,447.4 C112.1,447.8 114.8,448.3 117.4,448.7 C120.0,449.2 122.6,449.7 125.3,450.2 C127.9,450.7 130.5,451.3 133.1,451.8 C135.8,452.4 138.4,453.0 141.0,453.6 C143.6,454.2 146.3,454.8 148.9,455.4 C151.5,456.1 154.1,456.7 156.8,457.4 C159.4,458.1 162.0,458.7 164.6,459.4 C167.3,460.1 169.9,460.9 172.5,461.6 C175.1,462.3 177.8,463.1 180.4,463.8 C183.0,464.6 185.7,465.4 188.3,466.2 C190.9,467.0 193.5,467.8 196.2,468.6 C198.8,469.4 201.4,470.2 204.0,471.1 C206.7,471.9 209.3,472.8 211.9,473.7 C214.5,474.5 217.2,475.4 219.8,476.3 C222.4,477.2 225.0,478.1 227.7,479.0 C230.3,480.0 232.9,480.9 235.5,481.9 C238.2,482.8 240.8,483.8 243.4,484.7 C246.0,485.7 248.7,486.7 251.3,487.7 C253.9,488.7 256.5,489.7 259.2,490.7 C261.8,491.7 264.4,492.7 267.0,493.8 C269.7,494.8 272.3,495.8 274.9,496.9 C277.5,498.0 280.2,499.0 282.8,500.1 C285.4,501.2 288.1,502.3 290.7,503.4 C293.3,504.5 295.9,505.6 298.6,506.7 C301.2,507.8 305.1,509.5 306.4,510.1" class="r"/>
<path d="M78.0,449.0 C79.3,449.0 83.2,449.1 85.9,449.3 C88.5,449.4 91.1,449.5 93.7,449.8 C96.3,450.0 99.0,450.3 101.6,450.6 C104.2,450.9 106.8,451.2 109.4,451.5 C112.1,451.9 114.7,452.3 117.3,452.7 C119.9,453.1 122.5,453.6 125.2,454.1 C127.8,454.5 130.4,455.0 133.0,455.6 C135.6,456.1 138.3,456.6 140.9,457.2 C143.5,457.8 146.1,458.4 148.7,459.1 C151.4,459.7 154.0,460.4 156.6,461.0 C159.2,461.7 161.9,462.4 164.5,463.1 C167.1,463.9 169.7,464.6 172.3,465.4 C175.0,466.2 177.6,467.0 180.2,467.8 C182.8,468.6 185.4,469.5 188.1,470.3 C190.7,471.2 193.3,472.1 195.9,473.0 C198.5,473.9 201.2,474.8 203.8,475.8 C206.4,476.7 209.0,477.7 211.6,478.7 C214.3,479.6 216.9,480.7 219.5,481.7 C222.1,482.7 224.7,483.8 227.4,484.8 C230.0,485.9 232.6,487.0 235.2,488.1 C237.8,489.2 240.5,490.3 243.1,491.5 C245.7,492.6 248.3,493.8 250.9,495.0 C253.6,496.2 256.2,497.4 258.8,498.6 C261.4,499.8 264.0,501.0 266.7,502.3 C269.3,503.6 271.9,504.8 274.5,506.1 C277.1,507.4 281.1,509.4 282.4,510.1" class="r"/>
<path d="M78.0,450.7 C79.3,450.7 83.3,450.8 86.0,450.9 C88.7,451.0 91.4,451.1 94.0,451.3 C96.7,451.5 99.4,451.8 102.0,452.0 C104.7,452.3 107.4,452.6 110.1,452.9 C112.7,453.3 115.4,453.6 118.1,454.0 C120.7,454.4 123.4,454.9 126.1,455.3 C128.8,455.8 131.4,456.3 134.1,456.8 C136.8,457.3 139.4,457.9 142.1,458.5 C144.8,459.1 147.5,459.7 150.1,460.3 C152.8,460.9 155.5,461.6 158.2,462.3 C160.8,463.0 163.5,463.7 166.2,464.5 C168.8,465.2 171.5,466.0 174.2,466.8 C176.9,467.6 179.5,468.5 182.2,469.3 C184.9,470.2 187.5,471.1 190.2,472.0 C192.9,472.9 195.6,473.8 198.2,474.8 C200.9,475.8 203.6,476.7 206.2,477.8 C208.9,478.8 211.6,479.8 214.3,480.9 C216.9,481.9 219.6,483.0 222.3,484.2 C224.9,485.3 227.6,486.4 230.3,487.6 C233.0,488.7 235.6,489.9 238.3,491.1 C241.0,492.3 243.6,493.6 246.3,494.8 C249.0,496.1 251.7,497.4 254.3,498.7 C257.0,500.0 259.7,501.3 262.3,502.7 C265.0,504.1 269.0,506.2 270.4,506.8" class="r"/>
<path d="M78.0,469.0 C79.3,469.0 83.3,469.1 86.0,469.3 C88.7,469.4 91.4,469.5 94.0,469.8 C96.7,470.0 99.4,470.3 102.0,470.6 C104.7,471.0 107.4,471.3 110.1,471.7 C112.7,472.2 115.4,472.6 118.1,473.1 C120.7,473.6 123.4,474.1 126.1,474.7 C128.8,475.3 131.4,475.9 134.1,476.5 C136.8,477.1 139.4,477.8 142.1,478.5 C144.8,479.3 147.5,480.0 150.1,480.8 C152.8,481.6 155.5,482.4 158.2,483.3 C160.8,484.1 163.5,485.0 166.2,485.9 C168.8,486.8 171.5,487.8 174.2,488.8 C176.9,489.8 179.5,490.8 182.2,491.9 C184.9,492.9 187.5,494.0 190.2,495.1 C192.9,496.2 195.6,497.4 198.2,498.6 C200.9,499.8 203.6,501.0 206.2,502.2 C208.9,503.5 211.6,504.7 214.3,506.0 C216.9,507.4 220.9,509.4 222.3,510.1" class="r"/>
<path d="M78.0,487.4 C79.3,487.4 83.3,487.5 86.0,487.6 C88.7,487.7 91.4,487.8 94.0,487.9 C96.7,488.1 99.4,488.3 102.0,488.5 C104.7,488.7 107.4,488.9 110.1,489.2 C112.7,489.5 115.4,489.8 118.1,490.1 C120.7,490.4 123.4,490.8 126.1,491.2 C128.8,491.5 131.4,491.9 134.1,492.4 C136.8,492.8 139.4,493.2 142.1,493.7 C144.8,494.2 147.5,494.7 150.1,495.2 C152.8,495.7 155.5,496.2 158.2,496.8 C160.8,497.4 163.5,498.0 166.2,498.6 C168.8,499.2 171.5,499.8 174.2,500.5 C176.9,501.1 179.5,501.8 182.2,502.5 C184.9,503.2 187.5,503.9 190.2,504.6 C192.9,505.4 196.9,506.5 198.2,506.9" class="r"/>
<path d="M78.0,111.0 C79.3,111.0 83.3,110.9 86.0,110.7 C88.7,110.6 91.3,110.3 94.0,110.1 C96.7,109.9 99.3,109.6 102.0,109.3 C104.7,108.9 107.3,108.5 110.0,107.9 C112.7,107.4 115.3,106.8 118.0,106.1 C120.7,105.4 123.3,104.7 126.0,103.8 C128.7,102.9 131.3,102.0 134.0,100.9 C136.7,99.8 139.3,98.4 142.0,97.0 C144.7,95.7 147.3,94.2 150.0,92.6 C152.7,91.1 155.3,89.4 158.0,87.5 C160.7,85.7 163.3,83.4 166.0,81.4 C168.7,79.4 171.3,77.3 174.0,75.7 C176.7,74.0 179.3,72.8 182.0,71.4 C184.7,70.1 187.3,68.7 190.0,67.6 C192.7,66.6 195.3,65.7 198.0,65.2 C200.7,64.6 203.3,64.6 206.0,64.4 C208.7,64.2 211.3,64.1 214.0,64.0 C216.7,63.9 219.3,63.8 222.0,64.0 C224.7,64.2 227.3,64.7 230.0,65.3 C232.7,65.9 235.3,66.7 238.0,67.5 C240.7,68.2 243.3,69.0 246.0,69.9 C248.7,70.9 251.3,72.1 254.0,73.2 C256.7,74.3 259.3,75.4 262.0,76.5 C264.7,77.6 267.3,78.8 270.0,79.9 C272.7,81.0 275.3,82.2 278.0,83.2 C280.7,84.2 283.3,85.1 286.0,85.9 C288.7,86.8 291.3,87.6 294.0,88.3 C296.7,89.1 299.3,89.7 302.0,90.4 C304.7,91.1 307.3,91.7 310.0,92.3 C312.7,92.9 315.3,93.4 318.0,93.9 C320.7,94.3 323.3,94.5 326.0,94.8 C328.7,95.1 331.3,95.4 334.0,95.5 C336.7,95.7 340.7,95.8 342.0,95.9" class="b"/>
<path d="M78.0,93.7 C79.3,93.6 83.3,93.4 86.0,93.2 C88.7,93.0 91.3,92.8 94.0,92.6 C96.7,92.3 99.3,92.1 102.0,91.8 C104.7,91.5 107.3,91.3 110.0,91.0 C112.7,90.6 115.3,90.3 118.0,89.9 C120.7,89.6 123.3,89.2 126.0,88.7 C128.7,88.2 131.3,87.6 134.0,87.0 C136.7,86.3 139.3,85.5 142.0,84.6 C144.7,83.8 147.3,82.9 150.0,81.8 C152.7,80.8 155.3,79.7 158.0,78.5 C160.7,77.2 163.3,75.6 166.0,74.2 C168.7,72.8 171.3,71.2 174.0,69.9 C176.7,68.6 179.3,67.4 182.0,66.2 C184.7,65.0 187.3,63.7 190.0,62.6 C192.7,61.6 195.3,60.6 198.0,59.9 C200.7,59.2 203.3,58.9 206.0,58.5 C208.7,58.1 211.3,57.7 214.0,57.5 C216.7,57.3 219.3,57.1 222.0,57.3 C224.7,57.4 227.3,57.8 230.0,58.3 C232.7,58.7 235.3,59.4 238.0,60.0 C240.7,60.7 243.3,61.4 246.0,62.3 C248.7,63.2 251.3,64.3 254.0,65.4 C256.7,66.6 259.3,67.7 262.0,68.9 C264.7,70.2 267.3,71.6 270.0,73.0 C272.7,74.4 275.3,75.9 278.0,77.2 C280.7,78.4 283.3,79.5 286.0,80.5 C288.7,81.6 291.3,82.6 294.0,83.5 C296.7,84.4 299.3,85.2 302.0,86.0 C304.7,86.8 307.3,87.5 310.0,88.2 C312.7,88.8 315.3,89.5 318.0,89.9 C320.7,90.4 323.3,90.6 326.0,90.9 C328.7,91.2 331.3,91.5 334.0,91.7 C336.7,91.9 340.7,91.9 342.0,92.0" class="b"/>
<path d="M78.0,88.0 C79.3,87.9 83.3,87.8 86.0,87.6 C88.7,87.4 91.3,87.2 94.0,87.0 C96.7,86.8 99.3,86.6 102.0,86.3 C104.7,86.1 107.3,85.8 110.0,85.5 C112.7,85.2 115.3,84.9 118.0,84.6 C120.7,84.2 123.3,83.9 126.0,83.5 C128.7,83.1 131.3,82.6 134.0,82.1 C136.7,81.6 139.3,81.2 142.0,80.5 C144.7,79.8 147.3,79.1 150.0,78.0 C152.7,77.0 155.3,75.6 158.0,74.3 C160.7,72.9 163.3,71.3 166.0,69.9 C168.7,68.5 171.3,67.1 174.0,65.8 C176.7,64.5 179.3,63.5 182.0,62.3 C184.7,61.2 187.3,59.8 190.0,58.8 C192.7,57.7 195.3,56.5 198.0,55.8 C200.7,55.1 203.3,54.7 206.0,54.4 C208.7,54.1 211.3,54.1 214.0,53.9 C216.7,53.8 219.3,53.7 222.0,53.6 C224.7,53.5 227.3,53.3 230.0,53.5 C232.7,53.7 235.3,54.0 238.0,54.7 C240.7,55.4 243.3,56.6 246.0,57.7 C248.7,58.9 251.3,60.3 254.0,61.5 C256.7,62.7 259.3,63.7 262.0,64.9 C264.7,66.0 267.3,67.1 270.0,68.3 C272.7,69.5 275.3,70.8 278.0,71.9 C280.7,73.0 283.3,74.2 286.0,75.2 C288.7,76.1 291.3,76.9 294.0,77.7 C296.7,78.5 299.3,79.3 302.0,80.0 C304.7,80.7 307.3,81.3 310.0,81.8 C312.7,82.3 315.3,82.5 318.0,82.8 C320.7,83.1 323.3,83.3 326.0,83.6 C328.7,83.8 331.3,84.0 334.0,84.1 C336.7,84.2 340.7,84.3 342.0,84.3" class="b"/>
<path d="M78.0,82.5 C79.3,82.4 83.3,82.3 86.0,82.1 C88.7,82.0 91.3,81.9 94.0,81.7 C96.7,81.5 99.3,81.3 102.0,81.1 C104.7,80.9 107.3,80.7 110.0,80.5 C112.7,80.3 115.3,80.1 118.0,79.8 C120.7,79.6 123.3,79.4 126.0,79.1 C128.7,78.8 131.3,78.5 134.0,78.1 C136.7,77.7 139.3,77.4 142.0,76.9 C144.7,76.3 147.3,75.7 150.0,74.7 C152.7,73.7 155.3,72.2 158.0,70.7 C160.7,69.3 163.3,67.6 166.0,66.1 C168.7,64.6 171.3,63.0 174.0,61.8 C176.7,60.5 179.3,59.6 182.0,58.4 C184.7,57.3 187.3,56.1 190.0,55.0 C192.7,54.0 195.3,53.0 198.0,52.4 C200.7,51.8 203.3,51.7 206.0,51.5 C208.7,51.3 211.3,51.5 214.0,51.5 C216.7,51.5 219.3,51.5 222.0,51.5 C224.7,51.5 227.3,51.3 230.0,51.5 C232.7,51.7 235.3,52.0 238.0,52.6 C240.7,53.3 243.3,54.3 246.0,55.3 C248.7,56.4 251.3,57.7 254.0,58.7 C256.7,59.8 259.3,60.8 262.0,61.9 C264.7,62.9 267.3,63.9 270.0,65.0 C272.7,66.0 275.3,67.2 278.0,68.2 C280.7,69.3 283.3,70.3 286.0,71.2 C288.7,72.1 291.3,72.9 294.0,73.7 C296.7,74.5 299.3,75.3 302.0,76.0 C304.7,76.7 307.3,77.3 310.0,77.8 C312.7,78.3 315.3,78.5 318.0,78.8 C320.7,79.1 323.3,79.3 326.0,79.5 C328.7,79.7 331.3,79.9 334.0,80.0 C336.7,80.1 340.7,80.2 342.0,80.2" class="b"/>
<path d="M78.0,80.9 C79.3,80.8 83.3,80.7 86.0,80.5 C88.7,80.3 91.3,80.1 94.0,79.9 C96.7,79.7 99.3,79.5 102.0,79.3 C104.7,79.0 107.3,78.8 110.0,78.5 C112.7,78.2 115.3,78.0 118.0,77.7 C120.7,77.4 123.3,77.1 126.0,76.7 C128.7,76.3 131.3,75.9 134.0,75.5 C136.7,75.0 139.3,74.6 142.0,73.9 C144.7,73.3 147.3,72.6 150.0,71.4 C152.7,70.3 155.3,68.6 158.0,67.0 C160.7,65.5 163.3,63.6 166.0,62.1 C168.7,60.5 171.3,58.9 174.0,57.7 C176.7,56.5 179.3,55.7 182.0,54.7 C184.7,53.7 187.3,52.7 190.0,51.8 C192.7,51.0 195.3,50.2 198.0,49.7 C200.7,49.2 203.3,49.1 206.0,49.0 C208.7,48.9 211.3,49.0 214.0,49.1 C216.7,49.1 219.3,49.2 222.0,49.2 C224.7,49.3 227.3,49.3 230.0,49.5 C232.7,49.7 235.3,50.1 238.0,50.7 C240.7,51.3 243.3,52.2 246.0,53.1 C248.7,54.0 251.3,55.1 254.0,56.1 C256.7,57.0 259.3,57.9 262.0,58.8 C264.7,59.7 267.3,60.6 270.0,61.6 C272.7,62.5 275.3,63.5 278.0,64.5 C280.7,65.4 283.3,66.4 286.0,67.3 C288.7,68.1 291.3,68.9 294.0,69.7 C296.7,70.5 299.3,71.4 302.0,72.2 C304.7,72.9 307.3,73.6 310.0,74.2 C312.7,74.7 315.3,75.0 318.0,75.4 C320.7,75.7 323.3,76.0 326.0,76.2 C328.7,76.5 331.3,76.7 334.0,76.9 C336.7,77.0 340.7,77.1 342.0,77.1" class="b"/>
<path d="M78.0,75.3 C79.3,75.2 83.3,74.9 86.0,74.6 C88.7,74.4 91.3,74.2 94.0,74.0 C96.7,73.7 99.3,73.5 102.0,73.2 C104.7,73.0 107.3,72.7 110.0,72.5 C112.7,72.3 115.3,72.0 118.0,71.8 C120.7,71.6 123.3,71.4 126.0,71.2 C128.7,70.9 131.3,70.7 134.0,70.4 C136.7,70.1 139.3,69.9 142.0,69.3 C144.7,68.8 147.3,68.2 150.0,67.1 C152.7,66.1 155.3,64.4 158.0,62.8 C160.7,61.3 163.3,59.4 166.0,57.8 C168.7,56.3 171.3,54.7 174.0,53.6 C176.7,52.4 179.3,51.8 182.0,51.0 C184.7,50.2 187.3,49.4 190.0,48.7 C192.7,48.1 195.3,47.4 198.0,47.0 C200.7,46.7 203.3,46.6 206.0,46.5 C208.7,46.4 211.3,46.6 214.0,46.7 C216.7,46.7 219.3,46.9 222.0,47.0 C224.7,47.1 227.3,47.2 230.0,47.5 C232.7,47.8 235.3,48.1 238.0,48.7 C240.7,49.2 243.3,50.0 246.0,50.8 C248.7,51.6 251.3,52.5 254.0,53.4 C256.7,54.2 259.3,55.0 262.0,55.8 C264.7,56.6 267.3,57.4 270.0,58.2 C272.7,59.0 275.3,59.9 278.0,60.8 C280.7,61.6 283.3,62.5 286.0,63.3 C288.7,64.1 291.3,64.9 294.0,65.7 C296.7,66.6 299.3,67.5 302.0,68.3 C304.7,69.1 307.3,69.9 310.0,70.5 C312.7,71.1 315.3,71.5 318.0,71.9 C320.7,72.3 323.3,72.7 326.0,73.0 C328.7,73.3 331.3,73.6 334.0,73.8 C336.7,74.0 340.7,74.0 342.0,74.1" class="b"/>
<path d="M78.0,68.0 C79.3,67.9 83.3,67.6 86.0,67.3 C88.7,67.1 91.3,66.8 94.0,66.5 C96.7,66.2 99.3,65.9 102.0,65.5 C104.7,65.2 107.3,64.9 110.0,64.5 C112.7,64.1 115.3,63.8 118.0,63.4 C120.7,63.0 123.3,62.6 126.0,62.1 C128.7,61.7 131.3,61.2 134.0,60.7 C136.7,60.1 139.3,59.6 142.0,59.0 C144.7,58.3 147.3,57.6 150.0,56.7 C152.7,55.8 155.3,54.6 158.0,53.4 C160.7,52.3 163.3,51.1 166.0,50.0 C168.7,49.0 171.3,48.0 174.0,47.2 C176.7,46.5 179.3,46.0 182.0,45.5 C184.7,44.9 187.3,44.4 190.0,44.0 C192.7,43.5 195.3,43.1 198.0,42.9 C200.7,42.6 203.3,42.5 206.0,42.5 C208.7,42.5 211.3,42.7 214.0,43.0 C216.7,43.2 219.3,43.6 222.0,43.9 C224.7,44.2 227.3,44.6 230.0,45.0 C232.7,45.4 235.3,45.8 238.0,46.3 C240.7,46.8 243.3,47.3 246.0,47.9 C248.7,48.5 251.3,49.1 254.0,49.8 C256.7,50.4 259.3,51.0 262.0,51.8 C264.7,52.5 267.3,53.3 270.0,54.1 C272.7,54.9 275.3,55.8 278.0,56.6 C280.7,57.5 283.3,58.3 286.0,59.1 C288.7,59.8 291.3,60.4 294.0,61.0 C296.7,61.7 299.3,62.3 302.0,62.9 C304.7,63.4 307.3,63.9 310.0,64.3 C312.7,64.8 315.3,65.0 318.0,65.3 C320.7,65.6 323.3,65.9 326.0,66.1 C328.7,66.3 331.3,66.5 334.0,66.7 C336.7,66.8 340.7,66.9 342.0,66.9" class="b"/>
<path d="M78.0,64.5 C79.3,64.4 83.3,64.0 86.0,63.8 C88.7,63.5 91.3,63.2 94.0,62.9 C96.7,62.6 99.3,62.3 102.0,62.0 C104.7,61.7 107.3,61.3 110.0,61.0 C112.7,60.7 115.3,60.3 118.0,59.9 C120.7,59.6 123.3,59.2 126.0,58.8 C128.7,58.4 131.3,57.9 134.0,57.5 C136.7,57.0 139.3,56.5 142.0,55.9 C144.7,55.3 147.3,54.7 150.0,53.9 C152.7,53.2 155.3,52.2 158.0,51.3 C160.7,50.3 163.3,49.3 166.0,48.3 C168.7,47.4 171.3,46.4 174.0,45.5 C176.7,44.6 179.3,43.8 182.0,42.9 C184.7,42.0 187.3,41.0 190.0,40.1 C192.7,39.2 195.3,38.3 198.0,37.7 C200.7,37.1 203.3,36.7 206.0,36.4 C208.7,36.1 211.3,35.9 214.0,35.7 C216.7,35.5 219.3,35.3 222.0,35.1 C224.7,34.9 227.3,34.8 230.0,34.7 C232.7,34.6 235.3,34.5 238.0,34.5 C240.7,34.5 243.3,34.6 246.0,34.9 C248.7,35.3 251.3,35.9 254.0,36.5 C256.7,37.2 259.3,38.0 262.0,38.8 C264.7,39.5 267.3,40.4 270.0,41.1 C272.7,41.8 275.3,42.3 278.0,42.9 C280.7,43.5 283.3,44.0 286.0,44.6 C288.7,45.1 291.3,45.6 294.0,46.1 C296.7,46.5 299.3,46.9 302.0,47.3 C304.7,47.6 307.3,48.0 310.0,48.2 C312.7,48.5 315.3,48.7 318.0,48.9 C320.7,49.1 323.3,49.1 326.0,49.2 C328.7,49.3 331.3,49.4 334.0,49.4 C336.7,49.5 340.7,49.5 342.0,49.5" class="b"/>
<path d="M78.0,52.9 C79.3,52.8 83.3,52.6 86.0,52.4 C88.7,52.2 91.3,52.0 94.0,51.8 C96.7,51.6 99.3,51.4 102.0,51.2 C104.7,51.0 107.3,50.7 110.0,50.5 C112.7,50.3 115.3,50.0 118.0,49.8 C120.7,49.5 123.3,49.3 126.0,49.0 C128.7,48.8 131.3,48.5 134.0,48.2 C136.7,47.9 139.3,47.6 142.0,47.3 C144.7,46.9 147.3,46.6 150.0,46.2 C152.7,45.8 155.3,45.4 158.0,44.9 C160.7,44.5 163.3,44.0 166.0,43.5 C168.7,43.1 171.3,42.6 174.0,42.1 C176.7,41.5 179.3,41.0 182.0,40.4 C184.7,39.8 187.3,39.1 190.0,38.5 C192.7,37.8 195.3,37.1 198.0,36.5 C200.7,35.9 203.3,35.3 206.0,35.0 C208.7,34.6 211.3,34.4 214.0,34.2 C216.7,33.9 219.3,33.8 222.0,33.6 C224.7,33.4 227.3,33.2 230.0,33.1 C232.7,32.9 235.3,32.8 238.0,32.7 C240.7,32.6 243.3,32.5 246.0,32.5 C248.7,32.6 251.3,32.4 254.0,32.9 C256.7,33.4 259.3,34.4 262.0,35.4 C264.7,36.4 267.3,37.8 270.0,38.9 C272.7,40.0 275.3,41.2 278.0,42.0 C280.7,42.8 283.3,43.3 286.0,43.8 C288.7,44.4 291.3,45.0 294.0,45.4 C296.7,45.7 299.3,45.9 302.0,46.1 C304.7,46.3 307.3,46.4 310.0,46.5 C312.7,46.6 315.3,46.8 318.0,46.8 C320.7,46.9 323.3,47.0 326.0,47.1 C328.7,47.2 331.3,47.2 334.0,47.2 C336.7,47.3 340.7,47.3 342.0,47.3" class="b"/>
<path d="M78.0,130.5 C79.3,130.5 83.3,130.5 86.0,130.6 C88.7,130.6 91.3,130.7 94.0,130.7 C96.7,130.7 99.3,130.8 102.0,130.8 C104.7,130.9 107.3,130.9 110.0,131.0 C112.7,131.0 115.3,131.0 118.0,131.2 C120.7,131.4 123.3,131.6 126.0,132.1 C128.7,132.5 132.7,133.7 134.0,134.0" class="p"/>
<path d="M78.0,135.7 C79.3,135.6 83.3,135.5 86.0,135.3 C88.7,135.2 91.3,135.0 94.0,134.9 C96.7,134.7 99.3,134.6 102.0,134.4 C104.7,134.1 107.3,133.8 110.0,133.6 C112.7,133.4 115.3,133.1 118.0,133.0 C120.7,133.0 123.3,133.0 126.0,133.2 C128.7,133.4 132.7,133.9 134.0,134.0" class="p"/>
<path d="M134.0,134.0 C135.3,134.3 139.1,135.2 141.7,135.9 C144.2,136.6 146.8,137.2 149.3,138.0 C151.9,138.7 154.5,139.5 157.0,140.3 C159.6,141.0 162.1,141.8 164.7,142.6 C167.2,143.3 169.8,144.0 172.3,144.8 C174.9,145.6 177.5,146.5 180.0,147.5 C182.6,148.5 185.1,149.8 187.7,150.9 C190.2,152.0 192.8,153.2 195.4,154.4 C197.9,155.5 200.5,156.7 203.0,157.8 C205.6,159.0 209.4,160.8 210.7,161.4" class="p"/>
<path d="M193.0,153.3 C194.3,153.9 198.2,155.8 200.9,157.0 C203.5,158.2 206.1,159.4 208.7,160.5 C211.4,161.7 214.0,162.8 216.6,163.9 C219.2,165.0 221.9,166.1 224.5,167.2 C227.1,168.3 229.7,169.4 232.3,170.5 C235.0,171.6 237.6,172.8 240.2,174.0 C242.8,175.1 245.5,176.2 248.1,177.3 C250.7,178.4 253.3,179.6 255.9,180.7 C258.6,181.7 261.2,182.9 263.8,183.8 C266.4,184.7 269.1,185.5 271.7,186.2 C274.3,187.0 276.9,187.8 279.6,188.4 C282.2,188.9 284.8,189.1 287.4,189.4 C290.0,189.6 292.7,189.7 295.3,189.8 C297.9,189.9 300.5,190.0 303.2,190.0 C305.8,190.0 308.4,190.0 311.0,189.9 C313.6,189.9 316.3,189.8 318.9,189.7 C321.5,189.7 324.1,189.6 326.8,189.5 C329.4,189.5 332.0,189.4 334.6,189.3 C337.3,189.2 341.2,189.1 342.5,189.1" class="v"/>
<path d="M78.0,153.9 C79.3,153.9 83.3,153.9 86.0,154.0 C88.7,154.0 91.3,154.1 94.0,154.1 C96.7,154.1 99.3,154.2 102.0,154.2 C104.7,154.3 107.3,154.4 110.0,154.5 C112.7,154.6 115.3,154.7 118.0,154.7 C120.7,154.8 123.3,154.9 126.0,154.7 C128.7,154.5 131.3,154.1 134.0,153.6 C136.7,153.2 139.3,152.5 142.0,151.9 C144.7,151.4 147.3,150.8 150.0,150.3 C152.7,149.8 155.3,149.4 158.0,148.9 C160.7,148.4 163.3,147.9 166.0,147.5 C168.7,147.1 171.3,146.7 174.0,146.4 C176.7,146.1 179.3,145.9 182.0,145.6 C184.7,145.4 187.3,145.2 190.0,145.0 C192.7,144.8 195.3,144.6 198.0,144.4 C200.7,144.3 203.3,144.2 206.0,144.1 C208.7,144.1 211.3,144.1 214.0,144.1 C216.7,144.1 219.3,144.1 222.0,144.2 C224.7,144.2 227.3,144.2 230.0,144.3 C232.7,144.3 235.3,144.4 238.0,144.5 C240.7,144.5 243.3,144.6 246.0,144.7 C248.7,144.7 251.3,144.8 254.0,144.9 C256.7,144.9 259.3,145.0 262.0,145.1 C264.7,145.1 267.3,145.2 270.0,145.3 C272.7,145.3 275.3,145.4 278.0,145.4 C280.7,145.5 283.3,145.6 286.0,145.6 C288.7,145.7 291.3,145.7 294.0,145.8 C296.7,145.8 299.3,145.9 302.0,146.0 C304.7,146.0 307.3,146.1 310.0,146.1 C312.7,146.2 315.3,146.3 318.0,146.3 C320.7,146.4 323.3,146.5 326.0,146.5 C328.7,146.6 331.3,146.6 334.0,146.7 C336.7,146.8 340.7,146.9 342.0,146.9" class="b"/>
<path d="M78.0,159.0 C79.3,158.9 83.3,158.5 86.0,158.3 C88.7,158.1 91.3,157.9 94.0,157.7 C96.7,157.5 99.3,157.3 102.0,157.0 C104.7,156.8 107.3,156.5 110.0,156.3 C112.7,156.0 115.3,155.8 118.0,155.6 C120.7,155.5 123.3,155.5 126.0,155.5 C128.7,155.5 131.3,155.7 134.0,155.8 C136.7,155.9 139.3,156.0 142.0,156.2 C144.7,156.3 147.3,156.5 150.0,156.6 C152.7,156.8 155.3,157.0 158.0,157.1 C160.7,157.3 163.3,157.5 166.0,157.7 C168.7,157.9 171.3,158.2 174.0,158.4 C176.7,158.5 179.3,158.7 182.0,158.9 C184.7,159.0 187.3,159.2 190.0,159.4 C192.7,159.5 195.3,159.7 198.0,159.8 C200.7,160.0 203.3,160.1 206.0,160.3 C208.7,160.4 211.3,160.6 214.0,160.7 C216.7,160.9 219.3,161.0 222.0,161.2 C224.7,161.3 227.3,161.5 230.0,161.6 C232.7,161.8 235.3,161.9 238.0,162.1 C240.7,162.2 243.3,162.4 246.0,162.5 C248.7,162.6 251.3,162.8 254.0,162.9 C256.7,163.0 259.3,163.1 262.0,163.2 C264.7,163.3 267.3,163.4 270.0,163.5 C272.7,163.6 275.3,163.7 278.0,163.7 C280.7,163.8 283.3,163.9 286.0,163.9 C288.7,164.0 291.3,164.1 294.0,164.1 C296.7,164.2 299.3,164.3 302.0,164.3 C304.7,164.4 307.3,164.4 310.0,164.5 C312.7,164.5 315.3,164.6 318.0,164.6 C320.7,164.6 323.3,164.7 326.0,164.7 C328.7,164.7 331.3,164.8 334.0,164.8 C336.7,164.8 340.7,164.8 342.0,164.8" class="b"/>
<path d="M78.0,182.5 C79.3,182.4 83.3,182.3 86.0,182.2 C88.7,182.1 91.3,182.0 94.0,181.8 C96.7,181.7 99.3,181.6 102.0,181.5 C104.7,181.4 107.3,181.3 110.0,181.2 C112.7,181.1 115.3,180.9 118.0,180.8 C120.7,180.7 123.3,180.6 126.0,180.5 C128.7,180.3 131.3,180.1 134.0,180.0 C136.7,179.8 139.3,179.6 142.0,179.5 C144.7,179.4 147.3,179.3 150.0,179.3 C152.7,179.3 155.3,179.3 158.0,179.3 C160.7,179.3 163.3,179.3 166.0,179.3 C168.7,179.3 171.3,179.3 174.0,179.3 C176.7,179.3 179.3,179.3 182.0,179.4 C184.7,179.4 187.3,179.6 190.0,179.8 C192.7,179.9 195.3,180.2 198.0,180.4 C200.7,180.6 203.3,180.9 206.0,181.1 C208.7,181.4 211.3,181.6 214.0,181.9 C216.7,182.1 219.3,182.4 222.0,182.7 C224.7,183.0 227.3,183.3 230.0,183.6 C232.7,183.9 235.3,184.3 238.0,184.6 C240.7,185.0 243.3,185.3 246.0,185.7 C248.7,186.1 251.3,186.5 254.0,186.9 C256.7,187.4 259.3,187.9 262.0,188.4 C264.7,188.9 267.3,189.5 270.0,190.0 C272.7,190.5 275.3,190.9 278.0,191.3 C280.7,191.7 283.3,191.9 286.0,192.2 C288.7,192.4 291.3,192.6 294.0,192.8 C296.7,193.0 299.3,193.2 302.0,193.4 C304.7,193.5 307.3,193.7 310.0,193.9 C312.7,194.0 315.3,194.2 318.0,194.3 C320.7,194.4 323.3,194.5 326.0,194.6 C328.7,194.7 331.3,194.8 334.0,194.8 C336.7,194.9 340.7,194.9 342.0,194.9" class="b"/>
<path d="M78.0,190.0 C79.3,190.1 83.3,190.4 86.0,190.6 C88.7,190.9 91.3,191.1 94.0,191.4 C96.7,191.7 99.3,192.0 102.0,192.3 C104.7,192.7 107.3,193.0 110.0,193.4 C112.7,193.8 115.3,194.2 118.0,194.5 C120.7,194.9 123.3,195.3 126.0,195.8 C128.7,196.2 131.3,196.8 134.0,197.3 C136.7,197.8 139.3,198.4 142.0,199.0 C144.7,199.6 147.3,200.2 150.0,200.8 C152.7,201.4 155.3,201.9 158.0,202.5 C160.7,203.1 163.3,203.7 166.0,204.3 C168.7,204.9 171.3,205.6 174.0,206.2 C176.7,206.8 179.3,207.4 182.0,208.0 C184.7,208.6 187.3,209.3 190.0,209.9 C192.7,210.5 195.3,211.2 198.0,211.8 C200.7,212.4 203.3,213.0 206.0,213.6 C208.7,214.2 211.3,214.8 214.0,215.4 C216.7,216.0 219.3,216.5 222.0,217.1 C224.7,217.7 227.3,218.3 230.0,218.8 C232.7,219.4 235.3,219.9 238.0,220.4 C240.7,220.9 243.3,221.4 246.0,221.9 C248.7,222.4 251.3,222.9 254.0,223.4 C256.7,223.8 259.3,224.4 262.0,224.8 C264.7,225.3 267.3,225.8 270.0,226.2 C272.7,226.6 275.3,227.0 278.0,227.3 C280.7,227.6 283.3,227.8 286.0,227.9 C288.7,228.1 291.3,228.2 294.0,228.4 C296.7,228.5 299.3,228.7 302.0,228.8 C304.7,228.9 307.3,229.0 310.0,229.1 C312.7,229.2 315.3,229.3 318.0,229.4 C320.7,229.5 323.3,229.6 326.0,229.6 C328.7,229.7 331.3,229.7 334.0,229.8 C336.7,229.8 340.7,229.8 342.0,229.8" class="b"/>
<path d="M78.0,294.7 C79.3,294.7 83.3,294.6 86.0,294.5 C88.7,294.3 91.3,294.1 94.0,293.8 C96.7,293.6 99.3,293.3 102.0,293.0 C104.7,292.7 107.3,292.4 110.0,291.9 C112.7,291.5 115.3,290.9 118.0,290.3 C120.7,289.6 123.3,289.0 126.0,288.1 C128.7,287.2 131.3,286.1 134.0,285.0 C136.7,283.9 139.3,282.7 142.0,281.5 C144.7,280.3 147.3,279.2 150.0,278.0 C152.7,276.9 155.3,275.6 158.0,274.5 C160.7,273.3 163.3,272.1 166.0,270.9 C168.7,269.7 171.3,268.6 174.0,267.3 C176.7,266.0 179.3,264.7 182.0,263.2 C184.7,261.8 187.3,260.1 190.0,258.5 C192.7,256.8 195.3,255.1 198.0,253.3 C200.7,251.5 203.3,249.4 206.0,247.6 C208.7,245.7 211.3,243.9 214.0,242.3 C216.7,240.6 219.3,239.1 222.0,237.5 C224.7,235.9 227.3,234.4 230.0,232.8 C232.7,231.1 235.3,229.3 238.0,227.7 C240.7,226.1 243.3,224.4 246.0,223.0 C248.7,221.6 251.3,220.4 254.0,219.2 C256.7,218.1 259.3,217.0 262.0,216.1 C264.7,215.2 267.3,214.5 270.0,213.7 C272.7,213.0 275.3,212.3 278.0,211.8 C280.7,211.3 283.3,211.1 286.0,210.9 C288.7,210.7 291.3,210.7 294.0,210.7 C296.7,210.6 299.3,210.6 302.0,210.5 C304.7,210.5 307.3,210.5 310.0,210.5 C312.7,210.5 315.3,210.5 318.0,210.5 C320.7,210.5 323.3,210.6 326.0,210.6 C328.7,210.6 331.3,210.7 334.0,210.7 C336.7,210.8 340.7,210.9 342.0,210.9" class="p"/>
<path d="M78.0,244.4 C79.3,244.3 83.3,244.0 86.0,243.9 C88.7,243.7 91.3,243.5 94.0,243.3 C96.7,243.1 99.3,242.9 102.0,242.7 C104.7,242.4 107.3,242.2 110.0,242.0 C112.7,241.7 115.3,241.4 118.0,241.1 C120.7,240.9 123.3,240.6 126.0,240.4 C128.7,240.2 131.3,240.1 134.0,239.9 C136.7,239.8 139.3,239.7 142.0,239.7 C144.7,239.6 147.3,239.5 150.0,239.5 C152.7,239.4 155.3,239.3 158.0,239.3 C160.7,239.2 163.3,239.1 166.0,239.1 C168.7,239.0 171.3,238.9 174.0,238.8 C176.7,238.8 179.3,238.7 182.0,238.7 C184.7,238.6 187.3,238.6 190.0,238.6 C192.7,238.7 195.3,238.8 198.0,239.0 C200.7,239.2 203.3,239.4 206.0,239.7 C208.7,240.0 211.3,240.2 214.0,240.5 C216.7,240.9 219.3,241.3 222.0,241.7 C224.7,242.1 227.3,242.6 230.0,243.1 C232.7,243.6 235.3,244.2 238.0,244.7 C240.7,245.3 243.3,245.8 246.0,246.4 C248.7,246.9 251.3,247.5 254.0,248.2 C256.7,248.8 259.3,249.5 262.0,250.3 C264.7,251.0 267.3,251.7 270.0,252.5 C272.7,253.2 275.3,253.9 278.0,254.5 C280.7,255.1 283.3,255.7 286.0,256.2 C288.7,256.8 291.3,257.2 294.0,257.7 C296.7,258.2 299.3,258.7 302.0,259.2 C304.7,259.6 307.3,260.0 310.0,260.4 C312.7,260.8 315.3,261.1 318.0,261.4 C320.7,261.6 323.3,261.8 326.0,262.0 C328.7,262.2 331.3,262.3 334.0,262.5 C336.7,262.6 340.7,262.7 342.0,262.7" class="b"/>
<path d="M78.0,264.6 C79.3,264.6 83.3,264.6 86.0,264.7 C88.7,264.7 91.3,264.7 94.0,264.7 C96.7,264.8 99.3,264.8 102.0,264.8 C104.7,264.8 107.3,264.9 110.0,264.9 C112.7,264.9 115.3,264.9 118.0,265.0 C120.7,265.0 123.3,265.0 126.0,265.1 C128.7,265.1 131.3,265.1 134.0,265.1 C136.7,265.2 139.3,265.2 142.0,265.2 C144.7,265.2 147.3,265.3 150.0,265.3 C152.7,265.3 155.3,265.3 158.0,265.4 C160.7,265.4 163.3,265.4 166.0,265.4 C168.7,265.5 171.3,265.5 174.0,265.5 C176.7,265.6 179.3,265.6 182.0,265.6 C184.7,265.6 187.3,265.7 190.0,265.7 C192.7,265.7 195.3,265.7 198.0,265.8 C200.7,265.8 203.3,265.8 206.0,265.9 C208.7,265.9 211.3,265.9 214.0,265.9 C216.7,266.0 219.3,266.0 222.0,266.0 C224.7,266.1 227.3,266.1 230.0,266.1 C232.7,266.1 235.3,266.2 238.0,266.2 C240.7,266.2 243.3,266.3 246.0,266.3 C248.7,266.3 251.3,266.3 254.0,266.4 C256.7,266.4 259.3,266.4 262.0,266.5 C264.7,266.5 267.3,266.5 270.0,266.6 C272.7,266.6 275.3,266.6 278.0,266.6 C280.7,266.7 283.3,266.7 286.0,266.7 C288.7,266.8 291.3,266.8 294.0,266.8 C296.7,266.9 299.3,266.9 302.0,266.9 C304.7,267.0 307.3,267.0 310.0,267.0 C312.7,267.0 315.3,267.1 318.0,267.1 C320.7,267.1 323.3,267.2 326.0,267.2 C328.7,267.2 331.3,267.3 334.0,267.3 C336.7,267.3 340.7,267.4 342.0,267.4" class="p"/>
<path d="M78.0,367.2 C79.3,367.2 83.3,367.3 86.0,367.3 C88.7,367.4 91.3,367.5 94.0,367.6 C96.7,367.6 99.3,367.8 102.0,367.9 C104.7,368.0 107.3,368.1 110.0,368.3 C112.7,368.4 115.3,368.6 118.0,368.7 C120.7,368.9 123.3,369.0 126.0,369.2 C128.7,369.4 131.3,369.6 134.0,369.9 C136.7,370.1 139.3,370.4 142.0,370.7 C144.7,371.0 147.3,371.3 150.0,371.6 C152.7,371.9 155.3,372.2 158.0,372.5 C160.7,372.8 163.3,373.1 166.0,373.4 C168.7,373.7 171.3,374.0 174.0,374.3 C176.7,374.6 179.3,374.9 182.0,375.3 C184.7,375.6 187.3,375.9 190.0,376.2 C192.7,376.5 195.3,376.8 198.0,377.1 C200.7,377.3 203.3,377.6 206.0,377.8 C208.7,378.0 211.3,378.2 214.0,378.4 C216.7,378.6 219.3,378.7 222.0,378.9 C224.7,379.0 227.3,379.2 230.0,379.3 C232.7,379.5 235.3,379.6 238.0,379.7 C240.7,379.9 243.3,380.0 246.0,380.1 C248.7,380.3 251.3,380.4 254.0,380.5 C256.7,380.6 259.3,380.7 262.0,380.9 C264.7,381.0 267.3,381.1 270.0,381.2 C272.7,381.3 275.3,381.5 278.0,381.6 C280.7,381.7 283.3,381.9 286.0,382.0 C288.7,382.1 291.3,382.2 294.0,382.4 C296.7,382.5 299.3,382.6 302.0,382.7 C304.7,382.9 307.3,383.0 310.0,383.1 C312.7,383.2 315.3,383.3 318.0,383.5 C320.7,383.6 323.3,383.7 326.0,383.8 C328.7,383.9 331.3,384.0 334.0,384.2 C336.7,384.3 340.7,384.4 342.0,384.5" class="p"/>
<path d="M78.0,444.1 C79.3,444.1 83.3,444.0 86.0,443.9 C88.7,443.8 91.3,443.7 94.0,443.7 C96.7,443.6 99.3,443.5 102.0,443.5 C104.7,443.4 107.3,443.4 110.0,443.3 C112.7,443.2 115.3,443.2 118.0,443.1 C120.7,443.1 123.3,443.0 126.0,442.9 C128.7,442.9 131.3,442.8 134.0,442.8 C136.7,442.7 139.3,442.7 142.0,442.6 C144.7,442.6 147.3,442.5 150.0,442.5 C152.7,442.5 155.3,442.4 158.0,442.4 C160.7,442.4 163.3,442.4 166.0,442.3 C168.7,442.3 171.3,442.3 174.0,442.2 C176.7,442.0 179.3,441.9 182.0,441.7 C184.7,441.4 187.3,441.0 190.0,440.6 C192.7,440.2 195.3,439.8 198.0,439.4 C200.7,439.1 203.3,438.7 206.0,438.5 C208.7,438.3 211.3,438.3 214.0,438.2 C216.7,438.1 219.3,438.1 222.0,438.0 C224.7,437.9 227.3,437.8 230.0,437.6 C232.7,437.5 235.3,437.2 238.0,437.0 C240.7,436.8 243.3,436.5 246.0,436.2 C248.7,436.0 251.3,435.7 254.0,435.5 C256.7,435.3 259.3,435.0 262.0,434.9 C264.7,434.7 267.3,434.6 270.0,434.5 C272.7,434.4 275.3,434.3 278.0,434.2 C280.7,434.1 283.3,434.0 286.0,433.9 C288.7,433.8 291.3,433.7 294.0,433.6 C296.7,433.6 299.3,433.5 302.0,433.5 C304.7,433.4 307.3,433.3 310.0,433.3 C312.7,433.2 315.3,433.2 318.0,433.1 C320.7,433.1 323.3,433.0 326.0,433.0 C328.7,432.9 331.3,432.9 334.0,432.9 C336.7,432.8 340.7,432.8 342.0,432.8" class="p"/>
<path d="M78.0,411.6 C79.3,411.6 83.3,411.6 86.0,411.6 C88.7,411.7 91.4,411.7 94.0,411.8 C96.7,411.8 99.4,411.9 102.0,412.0 C104.7,412.1 107.4,412.3 110.1,412.4 C112.7,412.6 115.4,412.7 118.1,413.0 C120.7,413.2 123.4,413.4 126.1,413.6 C128.8,413.9 131.4,414.2 134.1,414.5 C136.8,414.8 139.4,415.1 142.1,415.5 C144.8,415.9 147.5,416.3 150.1,416.7 C152.8,417.1 155.5,417.6 158.2,418.1 C160.8,418.5 163.5,419.0 166.2,419.6 C168.8,420.1 171.5,420.7 174.2,421.3 C176.9,421.9 179.5,422.6 182.2,423.2 C184.9,423.9 187.5,424.6 190.2,425.4 C192.9,426.1 195.6,426.9 198.2,427.7 C200.9,428.5 203.6,429.3 206.2,430.2 C208.9,431.0 211.6,431.9 214.3,432.9 C216.9,433.8 219.6,434.8 222.3,435.8 C224.9,436.8 227.6,437.9 230.3,438.9 C233.0,440.0 235.6,441.1 238.3,442.3 C241.0,443.4 243.6,444.6 246.3,445.8 C249.0,447.1 251.7,448.3 254.3,449.6 C257.0,450.9 259.7,452.3 262.3,453.6 C265.0,455.0 267.7,456.4 270.4,457.8 C273.0,459.3 275.7,460.8 278.4,462.3 C281.1,463.8 283.7,465.4 286.4,467.0 C289.1,468.6 291.7,470.2 294.4,471.9 C297.1,473.6 299.8,475.3 302.4,477.0 C305.1,478.8 307.8,480.6 310.4,482.4 C313.1,484.2 315.8,486.1 318.5,488.0 C321.1,489.9 323.8,491.9 326.5,493.9 C329.1,495.8 331.8,497.9 334.5,499.9 C337.2,502.0 341.2,505.2 342.5,506.3" class="b"/>
<path d="M78.0,414.3 C79.3,414.3 83.3,414.3 85.9,414.4 C88.5,414.4 91.1,414.4 93.8,414.5 C96.4,414.6 99.0,414.7 101.7,414.9 C104.3,415.0 106.9,415.1 109.6,415.3 C112.2,415.5 114.8,415.7 117.4,416.0 C120.1,416.2 122.7,416.5 125.3,416.8 C128.0,417.1 130.6,417.5 133.2,417.8 C135.9,418.2 138.5,418.6 141.1,419.0 C143.7,419.5 146.4,420.0 149.0,420.5 C151.6,421.0 154.3,421.5 156.9,422.1 C159.5,422.6 162.2,423.2 164.8,423.9 C167.4,424.5 170.0,425.2 172.7,425.9 C175.3,426.6 177.9,427.3 180.6,428.1 C183.2,428.9 185.8,429.7 188.5,430.6 C191.1,431.4 193.7,432.3 196.3,433.2 C199.0,434.2 201.6,435.1 204.2,436.1 C206.9,437.1 209.5,438.2 212.1,439.2 C214.8,440.3 217.4,441.4 220.0,442.6 C222.6,443.7 225.3,444.9 227.9,446.2 C230.5,447.4 233.2,448.7 235.8,450.0 C238.4,451.3 241.1,452.6 243.7,454.0 C246.3,455.4 248.9,456.8 251.6,458.3 C254.2,459.7 256.8,461.3 259.5,462.8 C262.1,464.3 264.7,465.9 267.4,467.6 C270.0,469.2 272.6,470.9 275.2,472.6 C277.9,474.3 280.5,476.0 283.1,477.8 C285.8,479.6 288.4,481.4 291.0,483.3 C293.7,485.2 296.3,487.1 298.9,489.1 C301.5,491.0 304.2,493.0 306.8,495.1 C309.4,497.1 312.1,499.2 314.7,501.3 C317.3,503.4 320.0,505.6 322.6,507.8 C325.2,510.0 329.2,513.5 330.5,514.6" class="b"/>
<path d="M78.0,419.8 C79.3,419.8 83.3,419.9 86.0,420.0 C88.7,420.1 91.4,420.2 94.0,420.3 C96.7,420.5 99.4,420.7 102.0,421.0 C104.7,421.2 107.4,421.5 110.1,421.8 C112.7,422.1 115.4,422.5 118.1,422.9 C120.7,423.3 123.4,423.7 126.1,424.2 C128.8,424.6 131.4,425.1 134.1,425.7 C136.8,426.2 139.4,426.7 142.1,427.3 C144.8,427.9 147.5,428.6 150.1,429.2 C152.8,429.9 155.5,430.6 158.2,431.3 C160.8,432.1 163.5,432.8 166.2,433.6 C168.8,434.4 171.5,435.2 174.2,436.1 C176.9,437.0 179.5,437.8 182.2,438.8 C184.9,439.7 187.5,440.7 190.2,441.6 C192.9,442.6 195.6,443.6 198.2,444.7 C200.9,445.8 203.6,446.8 206.2,447.9 C208.9,449.1 211.6,450.2 214.3,451.4 C216.9,452.6 219.6,453.8 222.3,455.0 C224.9,456.2 227.6,457.5 230.3,458.8 C233.0,460.1 235.6,461.4 238.3,462.8 C241.0,464.2 243.6,465.6 246.3,467.0 C249.0,468.4 251.7,469.9 254.3,471.4 C257.0,472.8 259.7,474.3 262.3,475.9 C265.0,477.4 267.7,479.0 270.4,480.6 C273.0,482.2 275.7,483.9 278.4,485.5 C281.1,487.2 283.7,488.9 286.4,490.6 C289.1,492.3 291.7,494.1 294.4,495.9 C297.1,497.7 299.8,499.5 302.4,501.3 C305.1,503.2 307.8,505.0 310.4,506.9 C313.1,508.8 317.1,511.8 318.5,512.7" class="b"/>
<path d="M78.0,424.6 C79.3,424.6 83.3,424.7 85.9,424.8 C88.5,424.8 91.1,424.9 93.8,425.1 C96.4,425.3 99.0,425.5 101.6,425.7 C104.3,426.0 106.9,426.2 109.5,426.5 C112.1,426.8 114.8,427.2 117.4,427.5 C120.0,427.9 122.6,428.3 125.3,428.8 C127.9,429.2 130.5,429.7 133.1,430.2 C135.8,430.7 138.4,431.2 141.0,431.8 C143.6,432.4 146.3,433.0 148.9,433.6 C151.5,434.2 154.1,434.9 156.8,435.6 C159.4,436.3 162.0,437.0 164.6,437.8 C167.3,438.5 169.9,439.3 172.5,440.1 C175.1,441.0 177.8,441.8 180.4,442.7 C183.0,443.6 185.7,444.5 188.3,445.4 C190.9,446.4 193.5,447.3 196.2,448.3 C198.8,449.3 201.4,450.4 204.0,451.4 C206.7,452.5 209.3,453.6 211.9,454.7 C214.5,455.8 217.2,457.0 219.8,458.2 C222.4,459.4 225.0,460.6 227.7,461.8 C230.3,463.0 232.9,464.3 235.5,465.6 C238.2,466.9 240.8,468.2 243.4,469.6 C246.0,471.0 248.7,472.3 251.3,473.8 C253.9,475.2 256.5,476.6 259.2,478.1 C261.8,479.6 264.4,481.1 267.0,482.6 C269.7,484.1 272.3,485.7 274.9,487.3 C277.5,488.9 280.2,490.5 282.8,492.1 C285.4,493.8 288.1,495.4 290.7,497.1 C293.3,498.8 295.9,500.6 298.6,502.3 C301.2,504.1 305.1,506.8 306.4,507.7" class="b"/>
<path d="M78.0,432.2 C79.3,432.2 83.2,432.3 85.9,432.4 C88.5,432.5 91.1,432.6 93.7,432.8 C96.3,433.0 99.0,433.3 101.6,433.6 C104.2,433.8 106.8,434.2 109.4,434.5 C112.1,434.9 114.7,435.3 117.3,435.8 C119.9,436.2 122.5,436.7 125.2,437.2 C127.8,437.8 130.4,438.3 133.0,438.9 C135.6,439.6 138.3,440.2 140.9,440.9 C143.5,441.6 146.1,442.3 148.7,443.1 C151.4,443.8 154.0,444.6 156.6,445.5 C159.2,446.3 161.9,447.2 164.5,448.1 C167.1,449.0 169.7,450.0 172.3,451.0 C175.0,452.0 177.6,453.0 180.2,454.1 C182.8,455.1 185.4,456.2 188.1,457.4 C190.7,458.5 193.3,459.7 195.9,460.9 C198.5,462.1 201.2,463.4 203.8,464.6 C206.4,465.9 209.0,467.2 211.6,468.6 C214.3,470.0 216.9,471.4 219.5,472.8 C222.1,474.2 224.7,475.7 227.4,477.2 C230.0,478.7 232.6,480.2 235.2,481.8 C237.8,483.3 240.5,484.9 243.1,486.6 C245.7,488.2 248.3,489.9 250.9,491.6 C253.6,493.3 256.2,495.1 258.8,496.8 C261.4,498.6 264.0,500.4 266.7,502.3 C269.3,504.1 271.9,506.0 274.5,507.9 C277.1,509.9 281.1,512.8 282.4,513.8" class="b"/>
<path d="M78.0,444.2 C79.3,444.2 83.3,444.3 86.0,444.4 C88.7,444.5 91.4,444.6 94.0,444.7 C96.7,444.9 99.4,445.2 102.0,445.5 C104.7,445.8 107.4,446.1 110.1,446.5 C112.7,446.8 115.4,447.3 118.1,447.7 C120.7,448.2 123.4,448.7 126.1,449.3 C128.8,449.8 131.4,450.5 134.1,451.1 C136.8,451.8 139.4,452.5 142.1,453.2 C144.8,454.0 147.5,454.8 150.1,455.6 C152.8,456.5 155.5,457.4 158.2,458.3 C160.8,459.2 163.5,460.2 166.2,461.3 C168.8,462.3 171.5,463.4 174.2,464.5 C176.9,465.6 179.5,466.8 182.2,468.0 C184.9,469.3 187.5,470.5 190.2,471.8 C192.9,473.2 195.6,474.5 198.2,475.9 C200.9,477.3 203.6,478.8 206.2,480.3 C208.9,481.8 211.6,483.4 214.3,485.0 C216.9,486.6 219.6,488.2 222.3,489.9 C224.9,491.6 227.6,493.3 230.3,495.1 C233.0,496.9 235.6,498.7 238.3,500.6 C241.0,502.5 245.0,505.4 246.3,506.4" class="b"/>
<path d="M78.0,454.7 C79.3,454.7 83.3,454.8 86.0,455.0 C88.7,455.1 91.4,455.3 94.0,455.5 C96.7,455.7 99.4,456.1 102.0,456.4 C104.7,456.7 107.4,457.1 110.1,457.5 C112.7,458.0 115.4,458.4 118.1,458.9 C120.7,459.5 123.4,460.0 126.1,460.6 C128.8,461.2 131.4,461.8 134.1,462.5 C136.8,463.1 139.4,463.9 142.1,464.6 C144.8,465.3 147.5,466.1 150.1,466.9 C152.8,467.7 155.5,468.6 158.2,469.5 C160.8,470.4 163.5,471.3 166.2,472.3 C168.8,473.2 171.5,474.2 174.2,475.2 C176.9,476.3 179.5,477.3 182.2,478.4 C184.9,479.5 187.5,480.6 190.2,481.8 C192.9,483.0 195.6,484.2 198.2,485.4 C200.9,486.6 203.6,487.9 206.2,489.2 C208.9,490.5 211.6,491.8 214.3,493.1 C216.9,494.5 219.6,495.9 222.3,497.3 C224.9,498.7 227.6,500.2 230.3,501.7 C233.0,503.1 235.6,504.6 238.3,506.2 C241.0,507.7 245.0,510.1 246.3,510.9" class="b"/>
<path d="M78.0,464.4 C79.3,464.4 83.2,464.5 85.8,464.6 C88.4,464.7 91.0,464.9 93.6,465.0 C96.2,465.2 98.8,465.5 101.4,465.8 C104.0,466.1 106.7,466.4 109.3,466.7 C111.9,467.1 114.5,467.5 117.1,467.9 C119.7,468.3 122.3,468.7 124.9,469.2 C127.5,469.7 130.1,470.2 132.7,470.8 C135.3,471.3 137.9,471.9 140.5,472.5 C143.1,473.1 145.7,473.8 148.3,474.4 C150.9,475.1 153.5,475.8 156.1,476.5 C158.8,477.2 161.4,478.0 164.0,478.8 C166.6,479.6 169.2,480.4 171.8,481.2 C174.4,482.1 177.0,482.9 179.6,483.8 C182.2,484.7 184.8,485.6 187.4,486.6 C190.0,487.5 192.6,488.5 195.2,489.5 C197.8,490.5 200.4,491.6 203.0,492.6 C205.6,493.7 208.2,494.8 210.9,495.9 C213.5,497.0 216.1,498.1 218.7,499.3 C221.3,500.4 223.9,501.6 226.5,502.8 C229.1,504.1 233.0,505.9 234.3,506.6" class="b"/>
<path d="M78.0,479.7 C79.3,479.7 83.3,479.8 86.0,479.9 C88.7,480.1 91.4,480.2 94.0,480.4 C96.7,480.7 99.4,481.0 102.0,481.3 C104.7,481.6 107.4,481.9 110.1,482.3 C112.7,482.7 115.4,483.2 118.1,483.6 C120.7,484.1 123.4,484.6 126.1,485.2 C128.8,485.7 131.4,486.3 134.1,486.9 C136.8,487.5 139.4,488.2 142.1,488.9 C144.8,489.6 147.5,490.3 150.1,491.0 C152.8,491.8 155.5,492.6 158.2,493.4 C160.8,494.2 163.5,495.1 166.2,496.0 C168.8,496.9 171.5,497.8 174.2,498.7 C176.9,499.7 179.5,500.7 182.2,501.7 C184.9,502.7 187.5,503.7 190.2,504.8 C192.9,505.9 196.9,507.6 198.2,508.1" class="b"/>
<path d="M78.0,490.6 C79.3,490.6 83.3,490.6 86.0,490.7 C88.7,490.7 91.4,490.8 94.0,490.8 C96.7,490.9 99.4,491.0 102.0,491.1 C104.7,491.2 107.4,491.3 110.1,491.4 C112.7,491.5 115.4,491.6 118.1,491.8 C120.7,491.9 123.4,492.1 126.1,492.2 C128.8,492.4 131.4,492.6 134.1,492.8 C136.8,492.9 139.4,493.1 142.1,493.3 C144.8,493.5 147.5,493.8 150.1,494.0 C152.8,494.2 155.5,494.5 158.2,494.7 C160.8,494.9 163.5,495.2 166.2,495.5 C168.8,495.7 171.5,496.0 174.2,496.3 C176.9,496.6 179.5,496.9 182.2,497.2 C184.9,497.5 187.5,497.8 190.2,498.1 C192.9,498.4 195.6,498.8 198.2,499.1 C200.9,499.4 203.6,499.8 206.2,500.2 C208.9,500.5 211.6,500.9 214.3,501.3 C216.9,501.6 219.6,502.0 222.3,502.4 C224.9,502.8 227.6,503.2 230.3,503.6 C233.0,504.0 235.6,504.4 238.3,504.9 C241.0,505.3 245.0,506.0 246.3,506.2" class="b"/>
</g>
<rect x="78.0" y="46.8" width="264.5" height="444.4" fill="none" stroke="#2a2a2a" stroke-width="1.6"/>
<line x1="76.0" y1="491.35" x2="78.0" y2="491.35" stroke="#333" stroke-width="1"/>
<line x1="342.5" y1="491.35" x2="344.5" y2="491.35" stroke="#333" stroke-width="1"/>
<line x1="74.0" y1="477.00" x2="78.0" y2="477.00" stroke="#333" stroke-width="1"/>
<line x1="342.5" y1="477.00" x2="346.5" y2="477.00" stroke="#333" stroke-width="1"/>
<text transform="translate(70.4,484.90) scale(1,1.035)" class="tl">-1.2</text>
<line x1="76.0" y1="462.65" x2="78.0" y2="462.65" stroke="#333" stroke-width="1"/>
<line x1="342.5" y1="462.65" x2="344.5" y2="462.65" stroke="#333" stroke-width="1"/>
<line x1="76.0" y1="448.30" x2="78.0" y2="448.30" stroke="#333" stroke-width="1"/>
<line x1="342.5" y1="448.30" x2="344.5" y2="448.30" stroke="#333" stroke-width="1"/>
<line x1="76.0" y1="433.95" x2="78.0" y2="433.95" stroke="#333" stroke-width="1"/>
<line x1="342.5" y1="433.95" x2="344.5" y2="433.95" stroke="#333" stroke-width="1"/>
<line x1="74.0" y1="419.60" x2="78.0" y2="419.60" stroke="#333" stroke-width="1"/>
<line x1="342.5" y1="419.60" x2="346.5" y2="419.60" stroke="#333" stroke-width="1"/>
<text transform="translate(70.4,427.50) scale(1,1.035)" class="tl">-0.8</text>
<line x1="76.0" y1="405.25" x2="78.0" y2="405.25" stroke="#333" stroke-width="1"/>
<line x1="342.5" y1="405.25" x2="344.5" y2="405.25" stroke="#333" stroke-width="1"/>
<line x1="76.0" y1="390.90" x2="78.0" y2="390.90" stroke="#333" stroke-width="1"/>
<line x1="342.5" y1="390.90" x2="344.5" y2="390.90" stroke="#333" stroke-width="1"/>
<line x1="76.0" y1="376.55" x2="78.0" y2="376.55" stroke="#333" stroke-width="1"/>
<line x1="342.5" y1="376.55" x2="344.5" y2="376.55" stroke="#333" stroke-width="1"/>
<line x1="74.0" y1="362.20" x2="78.0" y2="362.20" stroke="#333" stroke-width="1"/>
<line x1="342.5" y1="362.20" x2="346.5" y2="362.20" stroke="#333" stroke-width="1"/>
<text transform="translate(70.4,370.10) scale(1,1.035)" class="tl">-0.4</text>
<line x1="76.0" y1="347.85" x2="78.0" y2="347.85" stroke="#333" stroke-width="1"/>
<line x1="342.5" y1="347.85" x2="344.5" y2="347.85" stroke="#333" stroke-width="1"/>
<line x1="76.0" y1="333.50" x2="78.0" y2="333.50" stroke="#333" stroke-width="1"/>
<line x1="342.5" y1="333.50" x2="344.5" y2="333.50" stroke="#333" stroke-width="1"/>
<line x1="76.0" y1="319.15" x2="78.0" y2="319.15" stroke="#333" stroke-width="1"/>
<line x1="342.5" y1="319.15" x2="344.5" y2="319.15" stroke="#333" stroke-width="1"/>
<line x1="74.0" y1="304.80" x2="78.0" y2="304.80" stroke="#333" stroke-width="1"/>
<line x1="342.5" y1="304.80" x2="346.5" y2="304.80" stroke="#333" stroke-width="1"/>
<text transform="translate(70.4,312.70) scale(1,1.035)" class="tl">0</text>
<line x1="76.0" y1="290.45" x2="78.0" y2="290.45" stroke="#333" stroke-width="1"/>
<line x1="342.5" y1="290.45" x2="344.5" y2="290.45" stroke="#333" stroke-width="1"/>
<line x1="76.0" y1="276.10" x2="78.0" y2="276.10" stroke="#333" stroke-width="1"/>
<line x1="342.5" y1="276.10" x2="344.5" y2="276.10" stroke="#333" stroke-width="1"/>
<line x1="76.0" y1="261.75" x2="78.0" y2="261.75" stroke="#333" stroke-width="1"/>
<line x1="342.5" y1="261.75" x2="344.5" y2="261.75" stroke="#333" stroke-width="1"/>
<line x1="74.0" y1="247.40" x2="78.0" y2="247.40" stroke="#333" stroke-width="1"/>
<line x1="342.5" y1="247.40" x2="346.5" y2="247.40" stroke="#333" stroke-width="1"/>
<text transform="translate(70.4,255.30) scale(1,1.035)" class="tl">0.4</text>
<line x1="76.0" y1="233.05" x2="78.0" y2="233.05" stroke="#333" stroke-width="1"/>
<line x1="342.5" y1="233.05" x2="344.5" y2="233.05" stroke="#333" stroke-width="1"/>
<line x1="76.0" y1="218.70" x2="78.0" y2="218.70" stroke="#333" stroke-width="1"/>
<line x1="342.5" y1="218.70" x2="344.5" y2="218.70" stroke="#333" stroke-width="1"/>
<line x1="76.0" y1="204.35" x2="78.0" y2="204.35" stroke="#333" stroke-width="1"/>
<line x1="342.5" y1="204.35" x2="344.5" y2="204.35" stroke="#333" stroke-width="1"/>
<line x1="74.0" y1="190.00" x2="78.0" y2="190.00" stroke="#333" stroke-width="1"/>
<line x1="342.5" y1="190.00" x2="346.5" y2="190.00" stroke="#333" stroke-width="1"/>
<text transform="translate(70.4,197.90) scale(1,1.035)" class="tl">0.8</text>
<line x1="76.0" y1="175.65" x2="78.0" y2="175.65" stroke="#333" stroke-width="1"/>
<line x1="342.5" y1="175.65" x2="344.5" y2="175.65" stroke="#333" stroke-width="1"/>
<line x1="76.0" y1="161.30" x2="78.0" y2="161.30" stroke="#333" stroke-width="1"/>
<line x1="342.5" y1="161.30" x2="344.5" y2="161.30" stroke="#333" stroke-width="1"/>
<line x1="76.0" y1="146.95" x2="78.0" y2="146.95" stroke="#333" stroke-width="1"/>
<line x1="342.5" y1="146.95" x2="344.5" y2="146.95" stroke="#333" stroke-width="1"/>
<line x1="74.0" y1="132.60" x2="78.0" y2="132.60" stroke="#333" stroke-width="1"/>
<line x1="342.5" y1="132.60" x2="346.5" y2="132.60" stroke="#333" stroke-width="1"/>
<text transform="translate(70.4,140.50) scale(1,1.035)" class="tl">1.2</text>
<line x1="76.0" y1="118.25" x2="78.0" y2="118.25" stroke="#333" stroke-width="1"/>
<line x1="342.5" y1="118.25" x2="344.5" y2="118.25" stroke="#333" stroke-width="1"/>
<line x1="76.0" y1="103.90" x2="78.0" y2="103.90" stroke="#333" stroke-width="1"/>
<line x1="342.5" y1="103.90" x2="344.5" y2="103.90" stroke="#333" stroke-width="1"/>
<line x1="76.0" y1="89.55" x2="78.0" y2="89.55" stroke="#333" stroke-width="1"/>
<line x1="342.5" y1="89.55" x2="344.5" y2="89.55" stroke="#333" stroke-width="1"/>
<line x1="74.0" y1="75.20" x2="78.0" y2="75.20" stroke="#333" stroke-width="1"/>
<line x1="342.5" y1="75.20" x2="346.5" y2="75.20" stroke="#333" stroke-width="1"/>
<text transform="translate(70.4,83.10) scale(1,1.035)" class="tl">1.6</text>
<line x1="76.0" y1="60.85" x2="78.0" y2="60.85" stroke="#333" stroke-width="1"/>
<line x1="342.5" y1="60.85" x2="344.5" y2="60.85" stroke="#333" stroke-width="1"/>
<line x1="76.0" y1="46.50" x2="78.0" y2="46.50" stroke="#333" stroke-width="1"/>
<line x1="342.5" y1="46.50" x2="344.5" y2="46.50" stroke="#333" stroke-width="1"/>
<text x="71.0" y="520" class="gam">&#915;</text>
<text x="331.5" y="518.3" class="sym">Y</text>
<text transform="translate(23.0,347) rotate(-90)" class="yl">Energy (eV)</text>
<text x="31.0" y="27" class="pl">(a)</text>
<text x="131.5" y="36" class="tt">Co - 20 - WS<tspan dx="0.5" dy="6" font-size="16">2</tspan></text>
<text x="198.5" y="108" class="lg">majority</text>
<text x="198.5" y="126" class="lg">minority</text>
<line x1="256.0" y1="102.7" x2="296.3" y2="102.7" stroke="#ff2a2a" stroke-width="2"/>
<line x1="256.0" y1="120.1" x2="296.3" y2="120.1" stroke="#2222ff" stroke-width="2" stroke-dasharray="7 4.2"/>
<clipPath id="cb"><rect x="437.3" y="46.8" width="264.5" height="444.4"/></clipPath>
<g clip-path="url(#cb)">
<line x1="437.3" y1="305.00" x2="701.8" y2="305.00" stroke="#555" stroke-width="1.6"/>
<path d="M437.0,48.1 C438.3,48.1 442.3,48.1 445.0,48.1 C447.7,48.0 450.4,48.0 453.0,47.9 C455.7,47.9 458.4,47.8 461.1,47.8 C463.7,47.7 466.4,47.6 469.1,47.6 C471.8,47.5 474.4,47.4 477.1,47.3 C479.8,47.2 482.5,47.1 485.1,47.0 C487.8,46.9 490.5,46.7 493.2,46.6 C495.8,46.4 498.5,46.1 501.2,45.9 C503.9,45.6 506.5,45.4 509.2,45.1 C511.9,44.8 514.6,44.4 517.2,44.0 C519.9,43.5 522.6,43.0 525.3,42.5 C527.9,42.0 530.6,41.4 533.3,41.0 C536.0,40.5 538.6,40.2 541.3,39.8 C544.0,39.5 546.7,39.2 549.3,38.9 C552.0,38.6 554.7,38.3 557.4,38.0 C560.0,37.8 562.7,37.5 565.4,37.3 C568.1,37.2 570.7,37.0 573.4,37.0 C576.1,37.0 578.8,37.1 581.4,37.5 C584.1,37.8 586.8,38.5 589.5,39.1 C592.1,39.7 594.8,40.5 597.5,41.2 C600.2,41.9 602.8,42.6 605.5,43.2 C608.2,43.7 610.9,44.1 613.5,44.5 C616.2,44.9 618.9,45.2 621.6,45.6 C624.2,45.9 626.9,46.2 629.6,46.5 C632.3,46.8 634.9,47.0 637.6,47.3 C640.3,47.5 643.0,47.8 645.6,48.0 C648.3,48.2 651.0,48.4 653.7,48.6 C656.3,48.8 659.0,49.0 661.7,49.1 C664.4,49.3 667.0,49.4 669.7,49.5 C672.4,49.6 675.1,49.7 677.7,49.8 C680.4,49.8 683.1,49.9 685.8,50.0 C688.4,50.0 691.1,50.1 693.8,50.1 C696.5,50.2 700.5,50.2 701.8,50.2" class="r"/>
<path d="M437.0,58.4 C438.3,58.3 442.3,57.9 445.0,57.6 C447.7,57.4 450.4,57.1 453.0,56.8 C455.7,56.6 458.4,56.3 461.1,56.1 C463.7,55.8 466.4,55.6 469.1,55.3 C471.8,55.0 474.4,54.8 477.1,54.5 C479.8,54.3 482.5,54.0 485.1,53.8 C487.8,53.5 490.5,53.3 493.2,53.0 C495.8,52.8 498.5,52.5 501.2,52.3 C503.9,52.1 506.5,51.8 509.2,51.6 C511.9,51.3 514.6,51.1 517.2,50.9 C519.9,50.7 522.6,50.5 525.3,50.2 C527.9,49.9 530.6,49.7 533.3,49.2 C536.0,48.8 538.6,48.1 541.3,47.5 C544.0,47.0 546.7,46.5 549.3,46.1 C552.0,45.7 554.7,45.4 557.4,45.2 C560.0,44.9 562.7,44.6 565.4,44.4 C568.1,44.2 570.7,44.0 573.4,44.0 C576.1,44.0 578.8,44.1 581.4,44.4 C584.1,44.7 586.8,45.3 589.5,45.8 C592.1,46.3 594.8,47.0 597.5,47.6 C600.2,48.2 602.8,48.8 605.5,49.3 C608.2,49.8 610.9,50.1 613.5,50.4 C616.2,50.8 618.9,51.0 621.6,51.3 C624.2,51.6 626.9,51.9 629.6,52.1 C632.3,52.4 634.9,52.6 637.6,52.8 C640.3,53.0 643.0,53.2 645.6,53.5 C648.3,53.7 651.0,53.9 653.7,54.1 C656.3,54.3 659.0,54.5 661.7,54.7 C664.4,54.8 667.0,54.9 669.7,55.0 C672.4,55.1 675.1,55.1 677.7,55.1 C680.4,55.2 683.1,55.2 685.8,55.2 C688.4,55.2 691.1,55.3 693.8,55.3 C696.5,55.3 700.5,55.3 701.8,55.3" class="r"/>
<path d="M437.0,66.5 C438.3,66.5 442.3,66.4 445.0,66.3 C447.7,66.3 450.4,66.1 453.0,65.9 C455.7,65.8 458.4,65.6 461.1,65.3 C463.7,65.1 466.4,64.8 469.1,64.6 C471.8,64.3 474.4,64.0 477.1,63.7 C479.8,63.4 482.5,63.1 485.1,62.8 C487.8,62.4 490.5,62.0 493.2,61.6 C495.8,61.1 498.5,60.5 501.2,59.9 C503.9,59.4 506.5,58.8 509.2,58.2 C511.9,57.5 514.6,56.9 517.2,56.2 C519.9,55.5 522.6,54.7 525.3,54.0 C527.9,53.4 530.6,52.9 533.3,52.4 C536.0,51.9 538.6,51.5 541.3,51.1 C544.0,50.7 546.7,50.4 549.3,50.1 C552.0,49.8 554.7,49.5 557.4,49.2 C560.0,48.9 562.7,48.6 565.4,48.4 C568.1,48.2 570.7,48.0 573.4,48.0 C576.1,48.1 578.8,48.2 581.4,48.6 C584.1,49.1 586.8,50.0 589.5,50.8 C592.1,51.6 594.8,52.7 597.5,53.5 C600.2,54.4 602.8,55.4 605.5,56.1 C608.2,56.7 610.9,57.1 613.5,57.5 C616.2,58.0 618.9,58.3 621.6,58.6 C624.2,59.0 626.9,59.2 629.6,59.5 C632.3,59.8 634.9,60.1 637.6,60.3 C640.3,60.5 643.0,60.8 645.6,61.0 C648.3,61.2 651.0,61.4 653.7,61.6 C656.3,61.8 659.0,61.9 661.7,62.1 C664.4,62.2 667.0,62.4 669.7,62.5 C672.4,62.6 675.1,62.7 677.7,62.8 C680.4,62.9 683.1,63.0 685.8,63.1 C688.4,63.2 691.1,63.3 693.8,63.3 C696.5,63.4 700.5,63.5 701.8,63.5" class="r"/>
<path d="M437.0,70.5 C438.3,70.4 442.3,70.3 445.0,70.2 C447.7,70.0 450.4,69.8 453.0,69.6 C455.7,69.4 458.4,69.2 461.1,68.9 C463.7,68.6 466.4,68.3 469.1,68.0 C471.8,67.7 474.4,67.4 477.1,67.0 C479.8,66.7 482.5,66.4 485.1,66.0 C487.8,65.6 490.5,65.2 493.2,64.7 C495.8,64.2 498.5,63.6 501.2,63.0 C503.9,62.4 506.5,61.9 509.2,61.2 C511.9,60.5 514.6,59.8 517.2,59.0 C519.9,58.2 522.6,57.3 525.3,56.6 C527.9,55.9 530.6,55.3 533.3,54.7 C536.0,54.2 538.6,53.7 541.3,53.2 C544.0,52.8 546.7,52.4 549.3,52.1 C552.0,51.7 554.7,51.5 557.4,51.2 C560.0,50.9 562.7,50.6 565.4,50.4 C568.1,50.2 570.7,50.0 573.4,50.0 C576.1,50.1 578.8,50.2 581.4,50.7 C584.1,51.2 586.8,52.1 589.5,53.0 C592.1,53.9 594.8,55.0 597.5,56.0 C600.2,57.0 602.8,58.0 605.5,58.8 C608.2,59.6 610.9,60.2 613.5,60.7 C616.2,61.3 618.9,61.7 621.6,62.2 C624.2,62.6 626.9,63.0 629.6,63.4 C632.3,63.9 634.9,64.2 637.6,64.6 C640.3,65.0 643.0,65.4 645.6,65.9 C648.3,66.3 651.0,66.7 653.7,67.1 C656.3,67.4 659.0,67.8 661.7,68.1 C664.4,68.5 667.0,68.7 669.7,69.0 C672.4,69.2 675.1,69.4 677.7,69.6 C680.4,69.8 683.1,70.0 685.8,70.1 C688.4,70.3 691.1,70.4 693.8,70.6 C696.5,70.7 700.5,70.8 701.8,70.8" class="r"/>
<path d="M437.0,79.6 C438.3,79.6 442.3,79.6 445.0,79.5 C447.7,79.5 450.4,79.4 453.0,79.3 C455.7,79.2 458.4,79.1 461.1,79.0 C463.7,78.9 466.4,78.8 469.1,78.6 C471.8,78.4 474.4,78.3 477.1,78.1 C479.8,77.9 482.5,77.8 485.1,77.5 C487.8,77.2 490.5,76.9 493.2,76.4 C495.8,75.9 498.5,75.3 501.2,74.6 C503.9,73.9 506.5,73.3 509.2,72.3 C511.9,71.2 514.6,69.7 517.2,68.1 C519.9,66.5 522.6,64.1 525.3,62.5 C527.9,60.9 530.6,59.8 533.3,58.7 C536.0,57.6 538.6,56.6 541.3,55.8 C544.0,55.1 546.7,54.5 549.3,54.1 C552.0,53.7 554.7,53.5 557.4,53.3 C560.0,53.1 562.7,52.9 565.4,52.8 C568.1,52.6 570.7,52.4 573.4,52.5 C576.1,52.6 578.8,52.7 581.4,53.1 C584.1,53.6 586.8,54.5 589.5,55.3 C592.1,56.2 594.8,57.4 597.5,58.4 C600.2,59.4 602.8,60.6 605.5,61.5 C608.2,62.5 610.9,63.2 613.5,64.1 C616.2,64.9 618.9,65.7 621.6,66.6 C624.2,67.4 626.9,68.2 629.6,69.0 C632.3,69.8 634.9,70.6 637.6,71.4 C640.3,72.1 643.0,72.8 645.6,73.5 C648.3,74.2 651.0,74.9 653.7,75.5 C656.3,76.2 659.0,76.8 661.7,77.4 C664.4,77.9 667.0,78.5 669.7,78.9 C672.4,79.4 675.1,79.9 677.7,80.3 C680.4,80.7 683.1,81.1 685.8,81.5 C688.4,81.8 691.1,82.2 693.8,82.5 C696.5,82.8 700.5,83.2 701.8,83.3" class="r"/>
<path d="M437.0,85.2 C438.3,85.2 442.3,85.2 445.0,85.1 C447.7,85.1 450.4,85.0 453.0,84.9 C455.7,84.7 458.4,84.6 461.1,84.4 C463.7,84.3 466.4,84.1 469.1,83.9 C471.8,83.7 474.4,83.5 477.1,83.2 C479.8,83.0 482.5,82.8 485.1,82.5 C487.8,82.1 490.5,81.7 493.2,81.2 C495.8,80.6 498.5,79.8 501.2,79.0 C503.9,78.2 506.5,77.4 509.2,76.3 C511.9,75.1 514.6,73.7 517.2,72.1 C519.9,70.5 522.6,68.3 525.3,66.7 C527.9,65.1 530.6,63.7 533.3,62.4 C536.0,61.0 538.6,59.6 541.3,58.6 C544.0,57.5 546.7,56.7 549.3,56.1 C552.0,55.5 554.7,55.4 557.4,55.1 C560.0,54.8 562.7,54.5 565.4,54.3 C568.1,54.2 570.7,54.0 573.4,54.0 C576.1,54.1 578.8,54.2 581.4,54.7 C584.1,55.1 586.8,56.0 589.5,56.9 C592.1,57.8 594.8,59.0 597.5,60.0 C600.2,61.1 602.8,62.3 605.5,63.3 C608.2,64.4 610.9,65.3 613.5,66.2 C616.2,67.2 618.9,68.3 621.6,69.3 C624.2,70.3 626.9,71.4 629.6,72.4 C632.3,73.4 634.9,74.3 637.6,75.2 C640.3,76.1 643.0,76.9 645.6,77.7 C648.3,78.6 651.0,79.4 653.7,80.2 C656.3,80.9 659.0,81.7 661.7,82.3 C664.4,82.9 667.0,83.5 669.7,84.0 C672.4,84.4 675.1,84.8 677.7,85.2 C680.4,85.6 683.1,86.0 685.8,86.4 C688.4,86.7 691.1,87.0 693.8,87.3 C696.5,87.5 700.5,87.7 701.8,87.8" class="r"/>
<path d="M437.0,86.8 C438.3,86.8 442.3,86.8 445.0,86.7 C447.7,86.7 450.4,86.6 453.0,86.5 C455.7,86.4 458.4,86.2 461.1,86.1 C463.7,85.9 466.4,85.7 469.1,85.5 C471.8,85.4 474.4,85.1 477.1,84.9 C479.8,84.7 482.5,84.5 485.1,84.2 C487.8,83.9 490.5,83.5 493.2,82.9 C495.8,82.4 498.5,81.7 501.2,80.9 C503.9,80.1 506.5,79.4 509.2,78.3 C511.9,77.2 514.6,75.8 517.2,74.2 C519.9,72.6 522.6,70.4 525.3,68.8 C527.9,67.1 530.6,65.7 533.3,64.3 C536.0,62.9 538.6,61.4 541.3,60.2 C544.0,59.1 546.7,58.2 549.3,57.6 C552.0,57.0 554.7,56.9 557.4,56.6 C560.0,56.3 562.7,56.0 565.4,55.8 C568.1,55.7 570.7,55.5 573.4,55.5 C576.1,55.6 578.8,55.7 581.4,56.2 C584.1,56.6 586.8,57.5 589.5,58.4 C592.1,59.3 594.8,60.5 597.5,61.5 C600.2,62.6 602.8,63.8 605.5,64.8 C608.2,65.9 610.9,66.8 613.5,67.7 C616.2,68.7 618.9,69.8 621.6,70.8 C624.2,71.8 626.9,72.9 629.6,73.9 C632.3,74.9 634.9,75.8 637.6,76.7 C640.3,77.6 643.0,78.4 645.6,79.2 C648.3,80.1 651.0,80.9 653.7,81.7 C656.3,82.4 659.0,83.2 661.7,83.8 C664.4,84.4 667.0,85.0 669.7,85.5 C672.4,85.9 675.1,86.3 677.7,86.7 C680.4,87.1 683.1,87.5 685.8,87.8 C688.4,88.2 691.1,88.5 693.8,88.7 C696.5,88.9 700.5,89.1 701.8,89.2" class="r"/>
<path d="M437.0,93.8 C438.3,93.8 442.3,93.8 445.0,93.7 C447.7,93.6 450.4,93.5 453.0,93.4 C455.7,93.2 458.4,93.1 461.1,92.9 C463.7,92.7 466.4,92.5 469.1,92.2 C471.8,92.0 474.4,91.7 477.1,91.5 C479.8,91.2 482.5,91.0 485.1,90.6 C487.8,90.2 490.5,89.8 493.2,89.2 C495.8,88.6 498.5,87.8 501.2,87.0 C503.9,86.2 506.5,85.4 509.2,84.3 C511.9,83.2 514.6,81.9 517.2,80.4 C519.9,79.0 522.6,77.0 525.3,75.4 C527.9,73.8 530.6,72.3 533.3,70.7 C536.0,69.1 538.6,67.2 541.3,65.8 C544.0,64.4 546.7,63.1 549.3,62.2 C552.0,61.3 554.7,60.8 557.4,60.2 C560.0,59.7 562.7,59.1 565.4,58.7 C568.1,58.4 570.7,58.0 573.4,58.0 C576.1,58.0 578.8,58.2 581.4,58.7 C584.1,59.1 586.8,60.0 589.5,60.9 C592.1,61.8 594.8,63.0 597.5,64.0 C600.2,65.1 602.8,66.3 605.5,67.3 C608.2,68.4 610.9,69.3 613.5,70.2 C616.2,71.2 618.9,72.3 621.6,73.3 C624.2,74.3 626.9,75.4 629.6,76.4 C632.3,77.4 634.9,78.4 637.6,79.3 C640.3,80.1 643.0,80.9 645.6,81.7 C648.3,82.4 651.0,83.2 653.7,83.9 C656.3,84.6 659.0,85.3 661.7,85.9 C664.4,86.5 667.0,87.0 669.7,87.5 C672.4,87.9 675.1,88.3 677.7,88.6 C680.4,89.0 683.1,89.4 685.8,89.7 C688.4,90.0 691.1,90.3 693.8,90.5 C696.5,90.7 700.5,90.9 701.8,91.0" class="r"/>
<path d="M437.0,98.2 C438.3,98.2 442.3,98.1 445.0,98.0 C447.7,97.9 450.4,97.8 453.0,97.6 C455.7,97.4 458.4,97.2 461.1,96.9 C463.7,96.6 466.4,96.3 469.1,96.0 C471.8,95.7 474.4,95.3 477.1,94.9 C479.8,94.6 482.5,94.3 485.1,93.8 C487.8,93.3 490.5,92.7 493.2,92.0 C495.8,91.2 498.5,90.3 501.2,89.4 C503.9,88.4 506.5,87.4 509.2,86.3 C511.9,85.2 514.6,84.0 517.2,82.7 C519.9,81.4 522.6,79.9 525.3,78.5 C527.9,77.1 530.6,75.7 533.3,74.3 C536.0,72.8 538.6,71.1 541.3,69.8 C544.0,68.4 546.7,67.2 549.3,66.2 C552.0,65.2 554.7,64.6 557.4,63.9 C560.0,63.2 562.7,62.5 565.4,62.0 C568.1,61.5 570.7,61.1 573.4,61.0 C576.1,61.0 578.8,61.2 581.4,61.6 C584.1,62.0 586.8,62.8 589.5,63.6 C592.1,64.4 594.8,65.5 597.5,66.5 C600.2,67.5 602.8,68.6 605.5,69.6 C608.2,70.7 610.9,71.5 613.5,72.6 C616.2,73.7 618.9,74.9 621.6,76.1 C624.2,77.3 626.9,78.7 629.6,79.8 C632.3,81.0 634.9,82.2 637.6,83.2 C640.3,84.2 643.0,85.0 645.6,85.8 C648.3,86.6 651.0,87.4 653.7,88.2 C656.3,88.9 659.0,89.6 661.7,90.3 C664.4,90.9 667.0,91.4 669.7,91.9 C672.4,92.5 675.1,92.9 677.7,93.3 C680.4,93.8 683.1,94.2 685.8,94.5 C688.4,94.9 691.1,95.2 693.8,95.5 C696.5,95.8 700.5,96.1 701.8,96.2" class="r"/>
<path d="M437.0,120.8 C438.3,120.7 442.3,120.5 445.0,120.3 C447.7,120.1 450.4,119.9 453.0,119.6 C455.7,119.3 458.4,119.0 461.1,118.6 C463.7,118.2 466.4,117.8 469.1,117.2 C471.8,116.6 474.4,116.0 477.1,115.1 C479.8,114.3 482.5,113.4 485.1,112.2 C487.8,111.1 490.5,109.7 493.2,108.2 C495.8,106.6 498.5,105.0 501.2,102.9 C503.9,100.9 506.5,98.4 509.2,96.1 C511.9,93.7 514.6,91.1 517.2,88.9 C519.9,86.6 522.6,84.7 525.3,82.8 C527.9,81.0 530.6,79.3 533.3,77.9 C536.0,76.4 538.6,75.3 541.3,74.3 C544.0,73.3 546.7,72.5 549.3,71.7 C552.0,71.0 554.7,70.3 557.4,69.9 C560.0,69.4 562.7,69.2 565.4,69.0 C568.1,68.9 570.7,68.8 573.4,68.8 C576.1,68.9 578.8,69.2 581.4,69.5 C584.1,69.8 586.8,70.3 589.5,70.7 C592.1,71.2 594.8,71.7 597.5,72.4 C600.2,73.2 602.8,74.3 605.5,75.3 C608.2,76.3 610.9,77.3 613.5,78.3 C616.2,79.4 618.9,80.5 621.6,81.5 C624.2,82.6 626.9,83.8 629.6,84.9 C632.3,86.0 634.9,87.3 637.6,88.3 C640.3,89.4 643.0,90.3 645.6,91.3 C648.3,92.2 651.0,93.0 653.7,93.8 C656.3,94.6 659.0,95.3 661.7,96.0 C664.4,96.7 667.0,97.3 669.7,97.8 C672.4,98.4 675.1,98.9 677.7,99.2 C680.4,99.6 683.1,99.8 685.8,100.1 C688.4,100.3 691.1,100.6 693.8,100.7 C696.5,100.9 700.5,101.0 701.8,101.0" class="r"/>
<path d="M437.0,135.1 C438.3,135.1 442.3,135.0 445.0,135.0 C447.7,134.9 450.3,134.9 453.0,134.8 C455.6,134.7 458.3,134.7 461.0,134.6 C463.6,134.5 466.3,134.3 469.0,134.2 C471.6,134.1 474.3,133.9 476.9,133.8 C479.6,133.7 482.3,133.6 484.9,133.8 C487.6,133.9 490.3,134.4 492.9,134.8 C495.6,135.2 498.3,135.7 500.9,136.2 C503.6,136.8 506.2,137.5 508.9,138.2 C511.6,138.9 514.2,139.6 516.9,140.3 C519.6,141.1 522.2,141.9 524.9,142.8 C527.5,143.7 530.2,144.6 532.9,145.5 C535.5,146.5 538.2,147.5 540.9,148.6 C543.5,149.6 546.2,150.7 548.9,151.8 C551.5,153.0 554.2,154.1 556.8,155.3 C559.5,156.5 562.2,157.8 564.8,159.1 C567.5,160.3 570.2,161.5 572.8,162.6 C575.5,163.8 578.1,164.9 580.8,166.0 C583.5,167.1 587.5,168.8 588.8,169.3" class="r"/>
<path d="M437.0,446.2 C438.3,446.2 442.3,446.1 445.0,446.1 C447.7,446.0 450.4,445.9 453.0,445.9 C455.7,445.8 458.4,445.8 461.1,445.7 C463.7,445.6 466.4,445.6 469.1,445.5 C471.8,445.5 474.4,445.4 477.1,445.3 C479.8,445.2 482.5,445.2 485.1,445.1 C487.8,445.0 490.5,445.0 493.2,444.9 C495.8,444.8 498.5,444.7 501.2,444.7 C503.9,444.6 506.5,444.5 509.2,444.4 C511.9,444.4 514.6,444.3 517.2,444.2 C519.9,444.1 522.6,444.0 525.3,443.9 C527.9,443.8 530.6,443.8 533.3,443.6 C536.0,443.4 538.6,443.2 541.3,443.0 C544.0,442.7 546.7,442.3 549.3,441.9 C552.0,441.5 554.7,441.1 557.4,440.7 C560.0,440.3 562.7,439.9 565.4,439.7 C568.1,439.4 570.7,439.2 573.4,439.0 C576.1,438.8 578.8,438.6 581.4,438.4 C584.1,438.2 586.8,438.0 589.5,437.8 C592.1,437.5 594.8,437.3 597.5,437.0 C600.2,436.8 602.8,436.5 605.5,436.3 C608.2,436.1 610.9,435.9 613.5,435.7 C616.2,435.5 618.9,435.3 621.6,435.1 C624.2,435.0 626.9,434.9 629.6,434.7 C632.3,434.6 634.9,434.5 637.6,434.4 C640.3,434.3 643.0,434.2 645.6,434.1 C648.3,434.1 651.0,434.0 653.7,433.9 C656.3,433.9 659.0,433.8 661.7,433.7 C664.4,433.7 667.0,433.6 669.7,433.6 C672.4,433.5 675.1,433.5 677.7,433.4 C680.4,433.4 683.1,433.4 685.8,433.3 C688.4,433.3 691.1,433.3 693.8,433.2 C696.5,433.2 700.5,433.2 701.8,433.2" class="r"/>
<path d="M437.3,294.7 C438.6,294.7 442.6,294.6 445.3,294.5 C448.0,294.3 450.6,294.1 453.3,293.8 C456.0,293.6 458.6,293.3 461.3,293.0 C464.0,292.7 466.6,292.4 469.3,291.9 C472.0,291.5 474.6,290.9 477.3,290.3 C480.0,289.6 482.6,289.0 485.3,288.1 C488.0,287.2 490.6,286.1 493.3,285.0 C496.0,283.9 498.6,282.7 501.3,281.5 C504.0,280.3 506.6,279.2 509.3,278.0 C512.0,276.9 514.6,275.6 517.3,274.5 C520.0,273.3 522.6,272.1 525.3,270.9 C528.0,269.7 530.6,268.6 533.3,267.3 C536.0,266.0 538.6,264.7 541.3,263.2 C544.0,261.8 546.6,260.1 549.3,258.5 C552.0,256.8 554.6,255.1 557.3,253.3 C560.0,251.5 562.6,249.4 565.3,247.6 C568.0,245.7 570.6,243.9 573.3,242.3 C576.0,240.6 578.6,239.1 581.3,237.5 C584.0,235.9 586.6,234.4 589.3,232.8 C592.0,231.1 594.6,229.3 597.3,227.7 C600.0,226.1 602.6,224.4 605.3,223.0 C608.0,221.6 610.6,220.4 613.3,219.2 C616.0,218.1 618.6,217.0 621.3,216.1 C624.0,215.2 626.6,214.5 629.3,213.7 C632.0,213.0 634.6,212.3 637.3,211.8 C640.0,211.3 642.6,211.1 645.3,210.9 C648.0,210.7 650.6,210.7 653.3,210.7 C656.0,210.6 658.6,210.6 661.3,210.5 C664.0,210.5 666.6,210.5 669.3,210.5 C672.0,210.5 674.6,210.5 677.3,210.5 C680.0,210.5 682.6,210.6 685.3,210.6 C688.0,210.6 690.6,210.7 693.3,210.7 C696.0,210.8 700.0,210.9 701.3,210.9" class="r"/>
<path d="M437.3,244.4 C438.6,244.3 442.6,244.1 445.3,243.9 C448.0,243.7 450.6,243.4 453.3,243.2 C456.0,242.9 458.6,242.6 461.3,242.2 C464.0,241.9 466.6,241.5 469.3,241.1 C472.0,240.6 474.6,240.0 477.3,239.4 C480.0,238.8 482.6,238.2 485.3,237.6 C488.0,237.1 490.6,236.6 493.3,236.2 C496.0,235.7 498.6,235.2 501.3,234.8 C504.0,234.4 506.6,233.9 509.3,233.6 C512.0,233.2 514.6,232.9 517.3,232.7 C520.0,232.5 522.6,232.5 525.3,232.4 C528.0,232.3 530.6,232.3 533.3,232.2 C536.0,232.1 538.6,232.1 541.3,232.0 C544.0,232.0 546.6,231.9 549.3,232.0 C552.0,232.1 554.6,232.2 557.3,232.4 C560.0,232.6 562.6,232.9 565.3,233.1 C568.0,233.4 570.6,233.6 573.3,233.9 C576.0,234.1 578.6,234.4 581.3,234.7 C584.0,235.1 586.6,235.4 589.3,235.7 C592.0,236.1 594.6,236.5 597.3,236.8 C600.0,237.2 602.6,237.6 605.3,238.0 C608.0,238.4 610.6,238.8 613.3,239.2 C616.0,239.7 618.6,240.3 621.3,240.8 C624.0,241.3 626.6,241.8 629.3,242.3 C632.0,242.8 634.6,243.4 637.3,243.8 C640.0,244.2 642.6,244.5 645.3,244.9 C648.0,245.2 650.6,245.5 653.3,245.8 C656.0,246.1 658.6,246.4 661.3,246.6 C664.0,246.9 666.6,247.2 669.3,247.4 C672.0,247.6 674.6,247.7 677.3,247.8 C680.0,248.0 682.6,248.0 685.3,248.1 C688.0,248.1 690.6,248.1 693.3,248.2 C696.0,248.2 700.0,248.2 701.3,248.2" class="r"/>
<path d="M437.3,249.5 C438.6,249.6 442.6,249.8 445.3,250.1 C448.0,250.3 450.6,250.6 453.3,251.0 C456.0,251.4 458.6,251.9 461.3,252.4 C464.0,252.9 466.6,253.4 469.3,254.1 C472.0,254.7 474.6,255.4 477.3,256.3 C480.0,257.3 482.6,258.5 485.3,259.7 C488.0,260.9 490.6,262.3 493.3,263.4 C496.0,264.5 498.6,265.5 501.3,266.6 C504.0,267.7 506.6,268.7 509.3,269.7 C512.0,270.8 514.6,272.0 517.3,273.0 C520.0,274.1 522.6,275.2 525.3,276.2 C528.0,277.3 530.6,278.2 533.3,279.2 C536.0,280.2 538.6,281.2 541.3,282.3 C544.0,283.3 546.6,284.5 549.3,285.5 C552.0,286.6 554.6,287.6 557.3,288.6 C560.0,289.6 562.6,290.5 565.3,291.4 C568.0,292.3 570.6,293.3 573.3,294.2 C576.0,295.2 578.6,296.3 581.3,297.3 C584.0,298.3 586.6,299.3 589.3,300.2 C592.0,301.2 594.6,302.1 597.3,302.9 C600.0,303.8 602.6,304.5 605.3,305.2 C608.0,305.9 610.6,306.5 613.3,307.1 C616.0,307.7 618.6,308.3 621.3,308.9 C624.0,309.4 626.6,310.0 629.3,310.5 C632.0,311.0 634.6,311.5 637.3,312.0 C640.0,312.5 642.6,313.0 645.3,313.5 C648.0,313.9 650.6,314.4 653.3,314.8 C656.0,315.2 658.6,315.6 661.3,315.8 C664.0,316.1 666.6,316.3 669.3,316.5 C672.0,316.7 674.6,316.8 677.3,317.0 C680.0,317.2 682.6,317.3 685.3,317.5 C688.0,317.6 690.6,317.7 693.3,317.8 C696.0,317.9 700.0,317.9 701.3,317.9" class="r"/>
<path d="M437.3,264.6 C438.6,264.6 442.6,264.6 445.3,264.7 C448.0,264.7 450.6,264.7 453.3,264.7 C456.0,264.8 458.6,264.8 461.3,264.8 C464.0,264.8 466.6,264.9 469.3,264.9 C472.0,264.9 474.6,264.9 477.3,265.0 C480.0,265.0 482.6,265.0 485.3,265.1 C488.0,265.1 490.6,265.1 493.3,265.1 C496.0,265.2 498.6,265.2 501.3,265.2 C504.0,265.2 506.6,265.3 509.3,265.3 C512.0,265.3 514.6,265.3 517.3,265.4 C520.0,265.4 522.6,265.4 525.3,265.4 C528.0,265.5 530.6,265.5 533.3,265.5 C536.0,265.6 538.6,265.6 541.3,265.6 C544.0,265.6 546.6,265.7 549.3,265.7 C552.0,265.7 554.6,265.7 557.3,265.8 C560.0,265.8 562.6,265.8 565.3,265.9 C568.0,265.9 570.6,265.9 573.3,265.9 C576.0,266.0 578.6,266.0 581.3,266.0 C584.0,266.1 586.6,266.1 589.3,266.1 C592.0,266.1 594.6,266.2 597.3,266.2 C600.0,266.2 602.6,266.3 605.3,266.3 C608.0,266.3 610.6,266.3 613.3,266.4 C616.0,266.4 618.6,266.4 621.3,266.5 C624.0,266.5 626.6,266.5 629.3,266.6 C632.0,266.6 634.6,266.6 637.3,266.6 C640.0,266.7 642.6,266.7 645.3,266.7 C648.0,266.8 650.6,266.8 653.3,266.8 C656.0,266.9 658.6,266.9 661.3,266.9 C664.0,267.0 666.6,267.0 669.3,267.0 C672.0,267.0 674.6,267.1 677.3,267.1 C680.0,267.1 682.6,267.2 685.3,267.2 C688.0,267.2 690.6,267.3 693.3,267.3 C696.0,267.3 700.0,267.4 701.3,267.4" class="r"/>
<path d="M437.3,282.5 C438.6,282.6 442.6,282.8 445.3,283.0 C448.0,283.3 450.7,283.6 453.3,283.9 C456.0,284.3 458.7,284.6 461.3,285.0 C464.0,285.4 466.7,285.8 469.4,286.4 C472.0,286.9 474.7,287.6 477.4,288.2 C480.0,288.9 482.7,289.6 485.4,290.3 C488.1,291.0 490.7,291.8 493.4,292.6 C496.1,293.5 498.7,294.4 501.4,295.2 C504.1,296.1 506.8,297.0 509.4,297.8 C512.1,298.5 514.8,299.3 517.5,299.9 C520.1,300.6 522.8,301.1 525.5,301.7 C528.1,302.3 530.8,302.8 533.5,303.4 C536.2,304.1 538.8,304.8 541.5,305.6 C544.2,306.4 546.8,307.3 549.5,308.2 C552.2,309.1 554.9,310.0 557.5,311.0 C560.2,311.9 562.9,312.9 565.5,313.9 C568.2,315.0 570.9,316.0 573.6,317.2 C576.2,318.4 578.9,319.6 581.6,320.9 C584.2,322.1 586.9,323.4 589.6,324.6 C592.3,325.8 594.9,327.0 597.6,328.3 C600.3,329.5 602.9,330.8 605.6,332.0 C608.3,333.2 611.0,334.4 613.6,335.7 C616.3,336.9 619.0,338.1 621.6,339.4 C624.3,340.6 627.0,341.8 629.7,343.1 C632.3,344.3 635.0,345.6 637.7,346.8 C640.4,348.0 643.0,349.2 645.7,350.4 C648.4,351.5 651.0,352.7 653.7,353.7 C656.4,354.7 659.1,355.7 661.7,356.6 C664.4,357.6 667.1,358.4 669.7,359.2 C672.4,360.0 675.1,360.6 677.8,361.2 C680.4,361.8 683.1,362.4 685.8,362.8 C688.4,363.2 691.1,363.5 693.8,363.7 C696.5,363.9 700.5,364.1 701.8,364.2" class="r"/>
<path d="M437.3,318.5 C438.6,318.5 442.6,318.6 445.3,318.6 C448.0,318.7 450.6,318.8 453.3,318.8 C456.0,318.9 458.6,319.0 461.3,319.1 C464.0,319.2 466.6,319.4 469.3,319.4 C472.0,319.5 474.6,319.5 477.3,319.4 C480.0,319.2 482.6,318.8 485.3,318.5 C488.0,318.1 490.6,317.6 493.3,317.1 C496.0,316.7 498.6,316.1 501.3,315.7 C504.0,315.3 506.6,314.9 509.3,314.6 C512.0,314.3 514.6,314.1 517.3,313.9 C520.0,313.6 522.6,313.4 525.3,313.2 C528.0,313.0 530.6,312.8 533.3,312.7 C536.0,312.6 538.6,312.6 541.3,312.6 C544.0,312.6 546.6,312.7 549.3,312.7 C552.0,312.8 554.6,312.9 557.3,313.0 C560.0,313.1 562.6,313.2 565.3,313.3 C568.0,313.4 570.6,313.5 573.3,313.7 C576.0,313.9 578.6,314.1 581.3,314.3 C584.0,314.6 586.6,314.8 589.3,315.1 C592.0,315.4 594.6,315.7 597.3,316.1 C600.0,316.4 602.6,316.8 605.3,317.1 C608.0,317.5 610.6,317.9 613.3,318.2 C616.0,318.6 618.6,319.0 621.3,319.3 C624.0,319.7 626.6,320.0 629.3,320.3 C632.0,320.6 634.6,320.9 637.3,321.2 C640.0,321.5 642.6,321.8 645.3,322.1 C648.0,322.3 650.6,322.6 653.3,322.9 C656.0,323.2 658.6,323.4 661.3,323.7 C664.0,324.0 666.6,324.2 669.3,324.5 C672.0,324.8 674.6,325.0 677.3,325.3 C680.0,325.6 682.6,325.8 685.3,326.1 C688.0,326.3 690.6,326.6 693.3,326.8 C696.0,327.1 700.0,327.5 701.3,327.6" class="r"/>
<path d="M437.3,320.5 C438.6,320.5 442.6,320.5 445.3,320.5 C448.0,320.5 450.6,320.5 453.3,320.5 C456.0,320.5 458.6,320.5 461.3,320.5 C464.0,320.4 466.6,320.1 469.3,320.1 C472.0,320.0 474.6,320.0 477.3,320.1 C480.0,320.3 482.6,320.6 485.3,321.0 C488.0,321.3 490.6,321.8 493.3,322.3 C496.0,322.7 498.6,323.2 501.3,323.7 C504.0,324.1 506.6,324.5 509.3,324.9 C512.0,325.2 514.6,325.4 517.3,325.7 C520.0,325.9 522.6,326.2 525.3,326.4 C528.0,326.7 530.6,326.9 533.3,327.1 C536.0,327.3 538.6,327.6 541.3,327.8 C544.0,328.1 546.6,328.3 549.3,328.6 C552.0,328.8 554.6,329.1 557.3,329.3 C560.0,329.6 562.6,329.8 565.3,330.0 C568.0,330.2 570.6,330.4 573.3,330.6 C576.0,330.8 578.6,330.9 581.3,331.1 C584.0,331.3 586.6,331.5 589.3,331.6 C592.0,331.8 594.6,332.0 597.3,332.2 C600.0,332.3 602.6,332.5 605.3,332.6 C608.0,332.8 610.6,332.9 613.3,333.0 C616.0,333.1 618.6,333.3 621.3,333.3 C624.0,333.4 626.6,333.5 629.3,333.6 C632.0,333.7 634.6,333.7 637.3,333.7 C640.0,333.8 642.6,333.8 645.3,333.8 C648.0,333.9 650.6,333.9 653.3,333.9 C656.0,333.9 658.6,334.0 661.3,334.0 C664.0,334.0 666.6,334.0 669.3,334.1 C672.0,334.1 674.6,334.1 677.3,334.1 C680.0,334.1 682.6,334.2 685.3,334.2 C688.0,334.2 690.6,334.2 693.3,334.2 C696.0,334.2 700.0,334.2 701.3,334.2" class="r"/>
<path d="M437.3,367.2 C438.6,367.2 442.6,367.3 445.3,367.3 C448.0,367.4 450.6,367.5 453.3,367.6 C456.0,367.6 458.6,367.8 461.3,367.9 C464.0,368.0 466.6,368.1 469.3,368.3 C472.0,368.4 474.6,368.6 477.3,368.7 C480.0,368.9 482.6,369.0 485.3,369.2 C488.0,369.4 490.6,369.6 493.3,369.9 C496.0,370.1 498.6,370.4 501.3,370.7 C504.0,371.0 506.6,371.3 509.3,371.6 C512.0,371.9 514.6,372.2 517.3,372.5 C520.0,372.8 522.6,373.1 525.3,373.4 C528.0,373.7 530.6,374.0 533.3,374.3 C536.0,374.6 538.6,374.9 541.3,375.3 C544.0,375.6 546.6,375.9 549.3,376.2 C552.0,376.5 554.6,376.8 557.3,377.1 C560.0,377.3 562.6,377.6 565.3,377.8 C568.0,378.0 570.6,378.2 573.3,378.4 C576.0,378.6 578.6,378.7 581.3,378.9 C584.0,379.0 586.6,379.2 589.3,379.3 C592.0,379.5 594.6,379.6 597.3,379.7 C600.0,379.9 602.6,380.0 605.3,380.1 C608.0,380.3 610.6,380.4 613.3,380.5 C616.0,380.6 618.6,380.7 621.3,380.9 C624.0,381.0 626.6,381.1 629.3,381.2 C632.0,381.3 634.6,381.5 637.3,381.6 C640.0,381.7 642.6,381.9 645.3,382.0 C648.0,382.1 650.6,382.2 653.3,382.4 C656.0,382.5 658.6,382.6 661.3,382.7 C664.0,382.9 666.6,383.0 669.3,383.1 C672.0,383.2 674.6,383.3 677.3,383.5 C680.0,383.6 682.6,383.7 685.3,383.8 C688.0,383.9 690.6,384.0 693.3,384.2 C696.0,384.3 700.0,384.4 701.3,384.5" class="r"/>
<path d="M437.3,413.1 C438.6,413.1 442.6,413.1 445.2,413.2 C447.8,413.2 450.4,413.2 453.1,413.3 C455.7,413.4 458.3,413.5 461.0,413.7 C463.6,413.8 466.2,414.0 468.9,414.1 C471.5,414.3 474.1,414.5 476.7,414.8 C479.4,415.0 482.0,415.3 484.6,415.6 C487.3,415.9 489.9,416.3 492.5,416.7 C495.2,417.0 497.8,417.4 500.4,417.9 C503.0,418.3 505.7,418.8 508.3,419.3 C510.9,419.8 513.6,420.3 516.2,420.9 C518.8,421.5 521.5,422.1 524.1,422.7 C526.7,423.4 529.3,424.0 532.0,424.8 C534.6,425.5 537.2,426.2 539.9,427.0 C542.5,427.8 545.1,428.6 547.8,429.5 C550.4,430.3 553.0,431.2 555.6,432.1 C558.3,433.1 560.9,434.0 563.5,435.1 C566.2,436.1 568.8,437.1 571.4,438.2 C574.1,439.3 576.7,440.4 579.3,441.5 C581.9,442.7 584.6,443.9 587.2,445.1 C589.8,446.4 592.5,447.6 595.1,449.0 C597.7,450.3 600.4,451.6 603.0,453.0 C605.6,454.4 608.2,455.9 610.9,457.3 C613.5,458.8 616.1,460.3 618.8,461.9 C621.4,463.4 624.0,465.0 626.7,466.7 C629.3,468.3 631.9,470.0 634.5,471.7 C637.2,473.4 639.8,475.2 642.4,477.0 C645.1,478.8 647.7,480.6 650.3,482.5 C653.0,484.4 655.6,486.3 658.2,488.3 C660.8,490.3 663.5,492.3 666.1,494.3 C668.7,496.4 671.4,498.5 674.0,500.6 C676.6,502.8 679.3,504.9 681.9,507.2 C684.5,509.4 688.5,512.8 689.8,514.0" class="r"/>
<path d="M437.3,425.7 C438.6,425.7 442.6,425.8 445.3,425.9 C448.0,426.0 450.7,426.1 453.3,426.3 C456.0,426.5 458.7,426.8 461.3,427.1 C464.0,427.3 466.7,427.7 469.4,428.0 C472.0,428.3 474.7,428.7 477.4,429.1 C480.0,429.5 482.7,430.0 485.4,430.5 C488.1,430.9 490.7,431.4 493.4,432.0 C496.1,432.5 498.7,433.1 501.4,433.7 C504.1,434.3 506.8,434.9 509.4,435.6 C512.1,436.2 514.8,436.9 517.5,437.6 C520.1,438.4 522.8,439.1 525.5,439.9 C528.1,440.6 530.8,441.4 533.5,442.3 C536.2,443.1 538.8,444.0 541.5,444.8 C544.2,445.7 546.8,446.6 549.5,447.6 C552.2,448.5 554.9,449.5 557.5,450.5 C560.2,451.5 562.9,452.5 565.5,453.5 C568.2,454.6 570.9,455.6 573.6,456.7 C576.2,457.8 578.9,458.9 581.6,460.1 C584.2,461.2 586.9,462.4 589.6,463.6 C592.3,464.8 594.9,466.0 597.6,467.3 C600.3,468.5 602.9,469.8 605.6,471.1 C608.3,472.4 611.0,473.7 613.6,475.1 C616.3,476.4 619.0,477.8 621.6,479.2 C624.3,480.6 627.0,482.0 629.7,483.4 C632.3,484.9 635.0,486.3 637.7,487.8 C640.4,489.3 643.0,490.8 645.7,492.4 C648.4,493.9 651.0,495.5 653.7,497.1 C656.4,498.6 659.1,500.3 661.7,501.9 C664.4,503.5 667.1,505.2 669.7,506.9 C672.4,508.5 676.4,511.1 677.8,512.0" class="r"/>
<path d="M437.3,429.7 C438.6,429.8 442.6,429.9 445.2,430.1 C447.8,430.3 450.4,430.5 453.1,430.7 C455.7,431.0 458.3,431.4 460.9,431.7 C463.6,432.1 466.2,432.5 468.8,432.9 C471.4,433.4 474.1,433.8 476.7,434.3 C479.3,434.8 481.9,435.3 484.6,435.9 C487.2,436.4 489.8,437.0 492.4,437.6 C495.1,438.2 497.7,438.9 500.3,439.5 C502.9,440.2 505.6,440.8 508.2,441.6 C510.8,442.3 513.4,443.0 516.1,443.7 C518.7,444.5 521.3,445.2 523.9,446.0 C526.6,446.8 529.2,447.6 531.8,448.5 C534.4,449.3 537.1,450.2 539.7,451.0 C542.3,451.9 545.0,452.8 547.6,453.7 C550.2,454.6 552.8,455.6 555.5,456.5 C558.1,457.5 560.7,458.5 563.3,459.5 C566.0,460.4 568.6,461.5 571.2,462.5 C573.8,463.5 576.5,464.6 579.1,465.6 C581.7,466.7 584.3,467.8 587.0,468.9 C589.6,470.0 592.2,471.1 594.8,472.2 C597.5,473.4 600.1,474.5 602.7,475.7 C605.3,476.8 608.0,478.0 610.6,479.2 C613.2,480.4 615.8,481.6 618.5,482.9 C621.1,484.1 623.7,485.4 626.3,486.6 C629.0,487.9 631.6,489.2 634.2,490.5 C636.8,491.8 639.5,493.1 642.1,494.4 C644.7,495.7 647.4,497.1 650.0,498.4 C652.6,499.8 655.2,501.2 657.9,502.5 C660.5,503.9 664.4,506.1 665.7,506.8" class="r"/>
<path d="M437.3,431.4 C438.6,431.5 442.6,431.6 445.3,431.8 C448.0,432.0 450.7,432.2 453.3,432.5 C456.0,432.8 458.7,433.2 461.3,433.6 C464.0,434.0 466.7,434.5 469.4,434.9 C472.0,435.4 474.7,435.9 477.4,436.4 C480.0,437.0 482.7,437.5 485.4,438.1 C488.1,438.7 490.7,439.4 493.4,440.0 C496.1,440.7 498.7,441.3 501.4,442.1 C504.1,442.8 506.8,443.5 509.4,444.3 C512.1,445.0 514.8,445.8 517.5,446.6 C520.1,447.4 522.8,448.3 525.5,449.1 C528.1,450.0 530.8,450.9 533.5,451.8 C536.2,452.7 538.8,453.6 541.5,454.6 C544.2,455.5 546.8,456.5 549.5,457.5 C552.2,458.5 554.9,459.5 557.5,460.5 C560.2,461.6 562.9,462.6 565.5,463.7 C568.2,464.8 570.9,465.9 573.6,467.0 C576.2,468.1 578.9,469.3 581.6,470.4 C584.2,471.6 586.9,472.8 589.6,473.9 C592.3,475.1 594.9,476.4 597.6,477.6 C600.3,478.8 602.9,480.1 605.6,481.3 C608.3,482.6 611.0,483.9 613.6,485.2 C616.3,486.5 619.0,487.8 621.6,489.2 C624.3,490.5 627.0,491.9 629.7,493.2 C632.3,494.6 635.0,496.0 637.7,497.4 C640.4,498.8 643.0,500.2 645.7,501.7 C648.4,503.1 652.4,505.3 653.7,506.1" class="r"/>
<path d="M437.3,442.8 C438.6,442.9 442.5,443.0 445.2,443.2 C447.8,443.4 450.4,443.6 453.0,443.9 C455.6,444.1 458.3,444.5 460.9,444.9 C463.5,445.3 466.1,445.7 468.7,446.1 C471.4,446.5 474.0,447.0 476.6,447.5 C479.2,448.0 481.8,448.6 484.5,449.1 C487.1,449.7 489.7,450.3 492.3,450.9 C494.9,451.5 497.6,452.1 500.2,452.8 C502.8,453.5 505.4,454.2 508.0,454.9 C510.7,455.6 513.3,456.3 515.9,457.1 C518.5,457.9 521.2,458.6 523.8,459.5 C526.4,460.3 529.0,461.1 531.6,461.9 C534.3,462.8 536.9,463.7 539.5,464.6 C542.1,465.5 544.7,466.4 547.4,467.3 C550.0,468.2 552.6,469.2 555.2,470.2 C557.8,471.1 560.5,472.1 563.1,473.1 C565.7,474.1 568.3,475.2 570.9,476.2 C573.6,477.3 576.2,478.3 578.8,479.4 C581.4,480.5 584.0,481.6 586.7,482.7 C589.3,483.9 591.9,485.0 594.5,486.1 C597.1,487.3 599.8,488.5 602.4,489.7 C605.0,490.9 607.6,492.1 610.2,493.3 C612.9,494.5 615.5,495.8 618.1,497.0 C620.7,498.3 623.3,499.5 626.0,500.8 C628.6,502.1 631.2,503.4 633.8,504.7 C636.4,506.1 640.4,508.1 641.7,508.8" class="r"/>
<path d="M437.3,465.8 C438.6,465.8 442.5,465.9 445.1,466.0 C447.8,466.1 450.4,466.2 453.0,466.3 C455.6,466.5 458.2,466.7 460.8,466.9 C463.4,467.2 466.1,467.4 468.7,467.7 C471.3,468.0 473.9,468.3 476.5,468.6 C479.1,469.0 481.7,469.3 484.3,469.7 C487.0,470.1 489.6,470.5 492.2,471.0 C494.8,471.4 497.4,471.9 500.0,472.4 C502.6,472.9 505.3,473.4 507.9,474.0 C510.5,474.5 513.1,475.1 515.7,475.7 C518.3,476.3 520.9,476.9 523.5,477.5 C526.2,478.2 528.8,478.8 531.4,479.5 C534.0,480.2 536.6,480.9 539.2,481.6 C541.8,482.4 544.5,483.1 547.1,483.9 C549.7,484.7 552.3,485.5 554.9,486.3 C557.5,487.1 560.1,487.9 562.8,488.8 C565.4,489.7 568.0,490.5 570.6,491.4 C573.2,492.4 575.8,493.3 578.4,494.2 C581.1,495.2 583.7,496.1 586.3,497.1 C588.9,498.1 591.5,499.1 594.1,500.2 C596.7,501.2 599.3,502.2 602.0,503.3 C604.6,504.4 607.2,505.5 609.8,506.6 C612.4,507.7 616.3,509.4 617.6,510.0" class="r"/>
<path d="M437.3,467.0 C438.6,467.0 442.6,467.1 445.3,467.2 C448.0,467.3 450.7,467.4 453.3,467.6 C456.0,467.7 458.7,467.9 461.3,468.2 C464.0,468.4 466.7,468.7 469.4,469.0 C472.0,469.3 474.7,469.6 477.4,470.0 C480.0,470.3 482.7,470.7 485.4,471.1 C488.1,471.5 490.7,472.0 493.4,472.4 C496.1,472.9 498.7,473.4 501.4,473.9 C504.1,474.4 506.8,475.0 509.4,475.5 C512.1,476.1 514.8,476.7 517.5,477.3 C520.1,478.0 522.8,478.6 525.5,479.3 C528.1,479.9 530.8,480.6 533.5,481.3 C536.2,482.1 538.8,482.8 541.5,483.6 C544.2,484.3 546.8,485.1 549.5,485.9 C552.2,486.7 554.9,487.6 557.5,488.4 C560.2,489.3 562.9,490.2 565.5,491.1 C568.2,492.0 570.9,492.9 573.6,493.9 C576.2,494.8 578.9,495.8 581.6,496.8 C584.2,497.8 586.9,498.8 589.6,499.8 C592.3,500.8 594.9,501.9 597.6,503.0 C600.3,504.1 604.3,505.7 605.6,506.3" class="r"/>
<path d="M437.3,470.3 C438.6,470.3 442.5,470.4 445.1,470.5 C447.7,470.6 450.3,470.7 452.9,470.9 C455.5,471.1 458.1,471.3 460.7,471.6 C463.3,471.9 466.0,472.2 468.6,472.5 C471.2,472.8 473.8,473.2 476.4,473.6 C479.0,474.0 481.6,474.4 484.2,474.8 C486.8,475.3 489.4,475.8 492.0,476.3 C494.6,476.8 497.2,477.3 499.8,477.9 C502.4,478.5 505.0,479.1 507.6,479.7 C510.2,480.3 512.8,481.0 515.4,481.7 C518.1,482.4 520.7,483.1 523.3,483.8 C525.9,484.5 528.5,485.3 531.1,486.1 C533.7,486.9 536.3,487.7 538.9,488.5 C541.5,489.4 544.1,490.2 546.7,491.1 C549.3,492.0 551.9,493.0 554.5,493.9 C557.1,494.8 559.7,495.8 562.3,496.8 C564.9,497.8 567.5,498.8 570.2,499.9 C572.8,500.9 575.4,502.0 578.0,503.1 C580.6,504.2 583.2,505.3 585.8,506.4 C588.4,507.5 592.3,509.3 593.6,509.9" class="r"/>
<path d="M437.3,474.8 C438.6,474.8 442.6,474.9 445.3,475.0 C448.0,475.1 450.7,475.2 453.3,475.4 C456.0,475.6 458.7,475.8 461.3,476.0 C464.0,476.3 466.7,476.6 469.4,476.9 C472.0,477.2 474.7,477.5 477.4,477.9 C480.0,478.3 482.7,478.7 485.4,479.1 C488.1,479.6 490.7,480.0 493.4,480.5 C496.1,481.0 498.7,481.5 501.4,482.1 C504.1,482.6 506.8,483.2 509.4,483.8 C512.1,484.4 514.8,485.0 517.5,485.7 C520.1,486.3 522.8,487.0 525.5,487.7 C528.1,488.4 530.8,489.1 533.5,489.9 C536.2,490.7 538.8,491.4 541.5,492.2 C544.2,493.0 546.8,493.9 549.5,494.7 C552.2,495.6 554.9,496.5 557.5,497.4 C560.2,498.3 562.9,499.2 565.5,500.2 C568.2,501.1 570.9,502.1 573.6,503.1 C576.2,504.1 580.2,505.6 581.6,506.1" class="r"/>
<path d="M437.3,484.9 C438.6,484.9 442.5,485.0 445.0,485.1 C447.6,485.2 450.2,485.4 452.8,485.6 C455.3,485.8 457.9,486.0 460.5,486.3 C463.1,486.6 465.6,486.9 468.2,487.3 C470.8,487.6 473.4,488.0 475.9,488.5 C478.5,488.9 481.1,489.4 483.7,489.9 C486.2,490.4 488.8,490.9 491.4,491.5 C494.0,492.0 496.6,492.6 499.1,493.2 C501.7,493.9 504.3,494.5 506.9,495.2 C509.4,495.9 512.0,496.6 514.6,497.3 C517.2,498.1 519.7,498.9 522.3,499.7 C524.9,500.5 527.5,501.3 530.0,502.2 C532.6,503.0 535.2,503.9 537.8,504.9 C540.4,505.8 544.2,507.2 545.5,507.7" class="r"/>
<path d="M437.0,46.6 C438.3,46.6 442.3,46.6 445.0,46.6 C447.7,46.5 450.4,46.5 453.0,46.4 C455.7,46.4 458.4,46.3 461.1,46.3 C463.7,46.2 466.4,46.1 469.1,46.1 C471.8,46.0 474.4,45.9 477.1,45.8 C479.8,45.7 482.5,45.6 485.1,45.5 C487.8,45.4 490.5,45.2 493.2,45.1 C495.8,44.9 498.5,44.6 501.2,44.4 C503.9,44.1 506.5,43.9 509.2,43.6 C511.9,43.3 514.6,42.9 517.2,42.5 C519.9,42.0 522.6,41.5 525.3,41.0 C527.9,40.5 530.6,39.9 533.3,39.5 C536.0,39.0 538.6,38.7 541.3,38.3 C544.0,38.0 546.7,37.7 549.3,37.4 C552.0,37.1 554.7,36.8 557.4,36.5 C560.0,36.3 562.7,36.0 565.4,35.8 C568.1,35.7 570.7,35.5 573.4,35.5 C576.1,35.5 578.8,35.6 581.4,36.0 C584.1,36.3 586.8,37.0 589.5,37.6 C592.1,38.2 594.8,39.0 597.5,39.7 C600.2,40.4 602.8,41.1 605.5,41.7 C608.2,42.2 610.9,42.6 613.5,43.0 C616.2,43.4 618.9,43.7 621.6,44.1 C624.2,44.4 626.9,44.7 629.6,45.0 C632.3,45.3 634.9,45.5 637.6,45.8 C640.3,46.0 643.0,46.3 645.6,46.5 C648.3,46.7 651.0,46.9 653.7,47.1 C656.3,47.3 659.0,47.5 661.7,47.6 C664.4,47.8 667.0,47.9 669.7,48.0 C672.4,48.1 675.1,48.2 677.7,48.3 C680.4,48.3 683.1,48.4 685.8,48.5 C688.4,48.5 691.1,48.6 693.8,48.6 C696.5,48.7 700.5,48.7 701.8,48.7" class="b"/>
<path d="M437.0,56.9 C438.3,56.8 442.3,56.4 445.0,56.1 C447.7,55.9 450.4,55.6 453.0,55.3 C455.7,55.1 458.4,54.8 461.1,54.6 C463.7,54.3 466.4,54.1 469.1,53.8 C471.8,53.5 474.4,53.3 477.1,53.0 C479.8,52.8 482.5,52.5 485.1,52.3 C487.8,52.0 490.5,51.8 493.2,51.5 C495.8,51.3 498.5,51.0 501.2,50.8 C503.9,50.6 506.5,50.3 509.2,50.1 C511.9,49.8 514.6,49.6 517.2,49.4 C519.9,49.2 522.6,49.0 525.3,48.7 C527.9,48.4 530.6,48.2 533.3,47.7 C536.0,47.3 538.6,46.6 541.3,46.0 C544.0,45.5 546.7,45.0 549.3,44.6 C552.0,44.2 554.7,43.9 557.4,43.7 C560.0,43.4 562.7,43.1 565.4,42.9 C568.1,42.7 570.7,42.5 573.4,42.5 C576.1,42.5 578.8,42.6 581.4,42.9 C584.1,43.2 586.8,43.8 589.5,44.3 C592.1,44.8 594.8,45.5 597.5,46.1 C600.2,46.7 602.8,47.3 605.5,47.8 C608.2,48.3 610.9,48.6 613.5,48.9 C616.2,49.3 618.9,49.5 621.6,49.8 C624.2,50.1 626.9,50.4 629.6,50.6 C632.3,50.9 634.9,51.1 637.6,51.3 C640.3,51.5 643.0,51.7 645.6,52.0 C648.3,52.2 651.0,52.4 653.7,52.6 C656.3,52.8 659.0,53.0 661.7,53.2 C664.4,53.3 667.0,53.4 669.7,53.5 C672.4,53.6 675.1,53.6 677.7,53.6 C680.4,53.7 683.1,53.7 685.8,53.7 C688.4,53.7 691.1,53.8 693.8,53.8 C696.5,53.8 700.5,53.8 701.8,53.8" class="b"/>
<path d="M437.0,65.0 C438.3,65.0 442.3,64.9 445.0,64.8 C447.7,64.8 450.4,64.6 453.0,64.4 C455.7,64.3 458.4,64.1 461.1,63.8 C463.7,63.6 466.4,63.3 469.1,63.1 C471.8,62.8 474.4,62.5 477.1,62.2 C479.8,61.9 482.5,61.6 485.1,61.3 C487.8,60.9 490.5,60.5 493.2,60.1 C495.8,59.6 498.5,59.0 501.2,58.4 C503.9,57.9 506.5,57.3 509.2,56.7 C511.9,56.0 514.6,55.4 517.2,54.7 C519.9,54.0 522.6,53.2 525.3,52.5 C527.9,51.9 530.6,51.4 533.3,50.9 C536.0,50.4 538.6,50.0 541.3,49.6 C544.0,49.2 546.7,48.9 549.3,48.6 C552.0,48.3 554.7,48.0 557.4,47.7 C560.0,47.4 562.7,47.1 565.4,46.9 C568.1,46.7 570.7,46.5 573.4,46.5 C576.1,46.6 578.8,46.7 581.4,47.1 C584.1,47.6 586.8,48.5 589.5,49.3 C592.1,50.1 594.8,51.2 597.5,52.0 C600.2,52.9 602.8,53.9 605.5,54.6 C608.2,55.2 610.9,55.6 613.5,56.0 C616.2,56.5 618.9,56.8 621.6,57.1 C624.2,57.5 626.9,57.7 629.6,58.0 C632.3,58.3 634.9,58.6 637.6,58.8 C640.3,59.0 643.0,59.3 645.6,59.5 C648.3,59.7 651.0,59.9 653.7,60.1 C656.3,60.3 659.0,60.4 661.7,60.6 C664.4,60.7 667.0,60.9 669.7,61.0 C672.4,61.1 675.1,61.2 677.7,61.3 C680.4,61.4 683.1,61.5 685.8,61.6 C688.4,61.7 691.1,61.8 693.8,61.8 C696.5,61.9 700.5,62.0 701.8,62.0" class="b"/>
<path d="M437.0,69.0 C438.3,68.9 442.3,68.8 445.0,68.7 C447.7,68.5 450.4,68.3 453.0,68.1 C455.7,67.9 458.4,67.7 461.1,67.4 C463.7,67.1 466.4,66.8 469.1,66.5 C471.8,66.2 474.4,65.9 477.1,65.5 C479.8,65.2 482.5,64.9 485.1,64.5 C487.8,64.1 490.5,63.7 493.2,63.2 C495.8,62.7 498.5,62.1 501.2,61.5 C503.9,60.9 506.5,60.4 509.2,59.7 C511.9,59.0 514.6,58.3 517.2,57.5 C519.9,56.7 522.6,55.8 525.3,55.1 C527.9,54.4 530.6,53.8 533.3,53.2 C536.0,52.7 538.6,52.2 541.3,51.7 C544.0,51.3 546.7,50.9 549.3,50.6 C552.0,50.2 554.7,50.0 557.4,49.7 C560.0,49.4 562.7,49.1 565.4,48.9 C568.1,48.7 570.7,48.5 573.4,48.5 C576.1,48.6 578.8,48.7 581.4,49.2 C584.1,49.7 586.8,50.6 589.5,51.5 C592.1,52.4 594.8,53.5 597.5,54.5 C600.2,55.5 602.8,56.5 605.5,57.3 C608.2,58.1 610.9,58.7 613.5,59.2 C616.2,59.8 618.9,60.2 621.6,60.7 C624.2,61.1 626.9,61.5 629.6,61.9 C632.3,62.4 634.9,62.7 637.6,63.1 C640.3,63.5 643.0,63.9 645.6,64.4 C648.3,64.8 651.0,65.2 653.7,65.6 C656.3,65.9 659.0,66.3 661.7,66.6 C664.4,67.0 667.0,67.2 669.7,67.5 C672.4,67.7 675.1,67.9 677.7,68.1 C680.4,68.3 683.1,68.5 685.8,68.6 C688.4,68.8 691.1,68.9 693.8,69.1 C696.5,69.2 700.5,69.3 701.8,69.3" class="b"/>
<path d="M437.0,78.1 C438.3,78.1 442.3,78.1 445.0,78.0 C447.7,78.0 450.4,77.9 453.0,77.8 C455.7,77.7 458.4,77.6 461.1,77.5 C463.7,77.4 466.4,77.3 469.1,77.1 C471.8,76.9 474.4,76.8 477.1,76.6 C479.8,76.4 482.5,76.3 485.1,76.0 C487.8,75.7 490.5,75.4 493.2,74.9 C495.8,74.4 498.5,73.8 501.2,73.1 C503.9,72.4 506.5,71.8 509.2,70.8 C511.9,69.7 514.6,68.2 517.2,66.6 C519.9,65.0 522.6,62.6 525.3,61.0 C527.9,59.4 530.6,58.3 533.3,57.2 C536.0,56.1 538.6,55.1 541.3,54.3 C544.0,53.6 546.7,53.0 549.3,52.6 C552.0,52.2 554.7,52.0 557.4,51.8 C560.0,51.6 562.7,51.4 565.4,51.3 C568.1,51.1 570.7,50.9 573.4,51.0 C576.1,51.1 578.8,51.2 581.4,51.6 C584.1,52.1 586.8,53.0 589.5,53.8 C592.1,54.7 594.8,55.9 597.5,56.9 C600.2,57.9 602.8,59.1 605.5,60.0 C608.2,61.0 610.9,61.7 613.5,62.6 C616.2,63.4 618.9,64.2 621.6,65.1 C624.2,65.9 626.9,66.7 629.6,67.5 C632.3,68.3 634.9,69.1 637.6,69.9 C640.3,70.6 643.0,71.3 645.6,72.0 C648.3,72.7 651.0,73.4 653.7,74.0 C656.3,74.7 659.0,75.3 661.7,75.9 C664.4,76.4 667.0,77.0 669.7,77.4 C672.4,77.9 675.1,78.4 677.7,78.8 C680.4,79.2 683.1,79.6 685.8,80.0 C688.4,80.3 691.1,80.7 693.8,81.0 C696.5,81.3 700.5,81.7 701.8,81.8" class="b"/>
<path d="M437.0,83.7 C438.3,83.7 442.3,83.7 445.0,83.6 C447.7,83.6 450.4,83.5 453.0,83.4 C455.7,83.2 458.4,83.1 461.1,82.9 C463.7,82.8 466.4,82.6 469.1,82.4 C471.8,82.2 474.4,82.0 477.1,81.7 C479.8,81.5 482.5,81.3 485.1,81.0 C487.8,80.6 490.5,80.2 493.2,79.7 C495.8,79.1 498.5,78.3 501.2,77.5 C503.9,76.7 506.5,75.9 509.2,74.8 C511.9,73.6 514.6,72.2 517.2,70.6 C519.9,69.0 522.6,66.8 525.3,65.2 C527.9,63.6 530.6,62.2 533.3,60.9 C536.0,59.5 538.6,58.1 541.3,57.1 C544.0,56.0 546.7,55.2 549.3,54.6 C552.0,54.0 554.7,53.9 557.4,53.6 C560.0,53.3 562.7,53.0 565.4,52.8 C568.1,52.7 570.7,52.5 573.4,52.5 C576.1,52.6 578.8,52.7 581.4,53.2 C584.1,53.6 586.8,54.5 589.5,55.4 C592.1,56.3 594.8,57.5 597.5,58.5 C600.2,59.6 602.8,60.8 605.5,61.8 C608.2,62.9 610.9,63.8 613.5,64.7 C616.2,65.7 618.9,66.8 621.6,67.8 C624.2,68.8 626.9,69.9 629.6,70.9 C632.3,71.9 634.9,72.8 637.6,73.7 C640.3,74.6 643.0,75.4 645.6,76.2 C648.3,77.1 651.0,77.9 653.7,78.7 C656.3,79.4 659.0,80.2 661.7,80.8 C664.4,81.4 667.0,82.0 669.7,82.5 C672.4,82.9 675.1,83.3 677.7,83.7 C680.4,84.1 683.1,84.5 685.8,84.9 C688.4,85.2 691.1,85.5 693.8,85.8 C696.5,86.0 700.5,86.2 701.8,86.3" class="b"/>
<path d="M437.0,85.3 C438.3,85.3 442.3,85.3 445.0,85.2 C447.7,85.2 450.4,85.1 453.0,85.0 C455.7,84.9 458.4,84.7 461.1,84.6 C463.7,84.4 466.4,84.2 469.1,84.0 C471.8,83.9 474.4,83.6 477.1,83.4 C479.8,83.2 482.5,83.0 485.1,82.7 C487.8,82.4 490.5,82.0 493.2,81.4 C495.8,80.9 498.5,80.2 501.2,79.4 C503.9,78.6 506.5,77.9 509.2,76.8 C511.9,75.7 514.6,74.3 517.2,72.7 C519.9,71.1 522.6,68.9 525.3,67.3 C527.9,65.6 530.6,64.2 533.3,62.8 C536.0,61.4 538.6,59.9 541.3,58.7 C544.0,57.6 546.7,56.7 549.3,56.1 C552.0,55.5 554.7,55.4 557.4,55.1 C560.0,54.8 562.7,54.5 565.4,54.3 C568.1,54.2 570.7,54.0 573.4,54.0 C576.1,54.1 578.8,54.2 581.4,54.7 C584.1,55.1 586.8,56.0 589.5,56.9 C592.1,57.8 594.8,59.0 597.5,60.0 C600.2,61.1 602.8,62.3 605.5,63.3 C608.2,64.4 610.9,65.3 613.5,66.2 C616.2,67.2 618.9,68.3 621.6,69.3 C624.2,70.3 626.9,71.4 629.6,72.4 C632.3,73.4 634.9,74.3 637.6,75.2 C640.3,76.1 643.0,76.9 645.6,77.7 C648.3,78.6 651.0,79.4 653.7,80.2 C656.3,80.9 659.0,81.7 661.7,82.3 C664.4,82.9 667.0,83.5 669.7,84.0 C672.4,84.4 675.1,84.8 677.7,85.2 C680.4,85.6 683.1,86.0 685.8,86.3 C688.4,86.7 691.1,87.0 693.8,87.2 C696.5,87.4 700.5,87.6 701.8,87.7" class="b"/>
<path d="M437.0,92.3 C438.3,92.3 442.3,92.3 445.0,92.2 C447.7,92.1 450.4,92.0 453.0,91.9 C455.7,91.7 458.4,91.6 461.1,91.4 C463.7,91.2 466.4,91.0 469.1,90.7 C471.8,90.5 474.4,90.2 477.1,90.0 C479.8,89.7 482.5,89.5 485.1,89.1 C487.8,88.7 490.5,88.3 493.2,87.7 C495.8,87.1 498.5,86.3 501.2,85.5 C503.9,84.7 506.5,83.9 509.2,82.8 C511.9,81.7 514.6,80.4 517.2,78.9 C519.9,77.5 522.6,75.5 525.3,73.9 C527.9,72.3 530.6,70.8 533.3,69.2 C536.0,67.6 538.6,65.7 541.3,64.3 C544.0,62.9 546.7,61.6 549.3,60.7 C552.0,59.8 554.7,59.3 557.4,58.7 C560.0,58.2 562.7,57.6 565.4,57.2 C568.1,56.9 570.7,56.5 573.4,56.5 C576.1,56.5 578.8,56.7 581.4,57.2 C584.1,57.6 586.8,58.5 589.5,59.4 C592.1,60.3 594.8,61.5 597.5,62.5 C600.2,63.6 602.8,64.8 605.5,65.8 C608.2,66.9 610.9,67.8 613.5,68.7 C616.2,69.7 618.9,70.8 621.6,71.8 C624.2,72.8 626.9,73.9 629.6,74.9 C632.3,75.9 634.9,76.9 637.6,77.8 C640.3,78.6 643.0,79.4 645.6,80.2 C648.3,80.9 651.0,81.7 653.7,82.4 C656.3,83.1 659.0,83.8 661.7,84.4 C664.4,85.0 667.0,85.5 669.7,86.0 C672.4,86.4 675.1,86.8 677.7,87.1 C680.4,87.5 683.1,87.9 685.8,88.2 C688.4,88.5 691.1,88.8 693.8,89.0 C696.5,89.2 700.5,89.4 701.8,89.5" class="b"/>
<path d="M437.0,96.7 C438.3,96.7 442.3,96.6 445.0,96.5 C447.7,96.4 450.4,96.3 453.0,96.1 C455.7,95.9 458.4,95.7 461.1,95.4 C463.7,95.1 466.4,94.8 469.1,94.5 C471.8,94.2 474.4,93.8 477.1,93.4 C479.8,93.1 482.5,92.8 485.1,92.3 C487.8,91.8 490.5,91.2 493.2,90.5 C495.8,89.7 498.5,88.8 501.2,87.9 C503.9,86.9 506.5,85.9 509.2,84.8 C511.9,83.7 514.6,82.5 517.2,81.2 C519.9,79.9 522.6,78.4 525.3,77.0 C527.9,75.6 530.6,74.2 533.3,72.8 C536.0,71.3 538.6,69.6 541.3,68.3 C544.0,66.9 546.7,65.7 549.3,64.7 C552.0,63.7 554.7,63.1 557.4,62.4 C560.0,61.7 562.7,61.0 565.4,60.5 C568.1,60.0 570.7,59.6 573.4,59.5 C576.1,59.5 578.8,59.7 581.4,60.1 C584.1,60.5 586.8,61.3 589.5,62.1 C592.1,62.9 594.8,64.0 597.5,65.0 C600.2,66.0 602.8,67.1 605.5,68.1 C608.2,69.2 610.9,70.0 613.5,71.1 C616.2,72.2 618.9,73.4 621.6,74.6 C624.2,75.8 626.9,77.2 629.6,78.3 C632.3,79.5 634.9,80.7 637.6,81.7 C640.3,82.7 643.0,83.5 645.6,84.3 C648.3,85.1 651.0,85.9 653.7,86.7 C656.3,87.4 659.0,88.1 661.7,88.8 C664.4,89.4 667.0,89.9 669.7,90.4 C672.4,91.0 675.1,91.4 677.7,91.8 C680.4,92.3 683.1,92.7 685.8,93.0 C688.4,93.4 691.1,93.7 693.8,94.0 C696.5,94.3 700.5,94.6 701.8,94.7" class="b"/>
<path d="M437.0,119.3 C438.3,119.2 442.3,119.0 445.0,118.8 C447.7,118.6 450.4,118.4 453.0,118.1 C455.7,117.8 458.4,117.5 461.1,117.1 C463.7,116.7 466.4,116.3 469.1,115.7 C471.8,115.1 474.4,114.5 477.1,113.6 C479.8,112.8 482.5,111.9 485.1,110.7 C487.8,109.6 490.5,108.2 493.2,106.7 C495.8,105.1 498.5,103.5 501.2,101.4 C503.9,99.4 506.5,96.9 509.2,94.6 C511.9,92.2 514.6,89.6 517.2,87.4 C519.9,85.1 522.6,83.2 525.3,81.3 C527.9,79.5 530.6,77.8 533.3,76.4 C536.0,74.9 538.6,73.8 541.3,72.8 C544.0,71.8 546.7,71.0 549.3,70.2 C552.0,69.5 554.7,68.8 557.4,68.4 C560.0,67.9 562.7,67.7 565.4,67.5 C568.1,67.4 570.7,67.3 573.4,67.3 C576.1,67.4 578.8,67.7 581.4,68.0 C584.1,68.3 586.8,68.8 589.5,69.2 C592.1,69.7 594.8,70.2 597.5,70.9 C600.2,71.7 602.8,72.8 605.5,73.8 C608.2,74.8 610.9,75.8 613.5,76.8 C616.2,77.9 618.9,79.0 621.6,80.0 C624.2,81.1 626.9,82.3 629.6,83.4 C632.3,84.5 634.9,85.8 637.6,86.8 C640.3,87.9 643.0,88.8 645.6,89.8 C648.3,90.7 651.0,91.5 653.7,92.3 C656.3,93.1 659.0,93.8 661.7,94.5 C664.4,95.2 667.0,95.8 669.7,96.3 C672.4,96.9 675.1,97.4 677.7,97.7 C680.4,98.1 683.1,98.3 685.8,98.6 C688.4,98.8 691.1,99.1 693.8,99.2 C696.5,99.4 700.5,99.5 701.8,99.5" class="b"/>
<path d="M437.0,135.1 C438.3,135.1 442.3,135.0 445.0,135.0 C447.7,134.9 450.3,134.9 453.0,134.8 C455.6,134.7 458.3,134.7 461.0,134.6 C463.6,134.5 466.3,134.3 469.0,134.2 C471.6,134.1 474.3,133.9 476.9,133.8 C479.6,133.7 482.3,133.6 484.9,133.8 C487.6,133.9 490.3,134.4 492.9,134.8 C495.6,135.2 498.3,135.7 500.9,136.2 C503.6,136.8 506.2,137.5 508.9,138.2 C511.6,138.9 514.2,139.6 516.9,140.3 C519.6,141.1 522.2,141.9 524.9,142.8 C527.5,143.7 530.2,144.6 532.9,145.5 C535.5,146.5 538.2,147.5 540.9,148.6 C543.5,149.6 546.2,150.7 548.9,151.8 C551.5,153.0 554.2,154.1 556.8,155.3 C559.5,156.5 562.2,157.8 564.8,159.1 C567.5,160.3 570.2,161.5 572.8,162.6 C575.5,163.8 578.1,164.9 580.8,166.0 C583.5,167.1 587.5,168.8 588.8,169.3" class="p"/>
<path d="M570.0,161.4 C571.4,162.0 575.5,163.7 578.2,164.8 C581.0,166.0 583.7,167.1 586.5,168.3 C589.2,169.5 592.0,170.7 594.7,171.9 C597.5,173.0 600.2,174.3 603.0,175.4 C605.7,176.6 608.4,177.8 611.2,178.9 C613.9,180.1 616.7,181.3 619.4,182.4 C622.2,183.5 624.9,184.4 627.7,185.2 C630.4,186.1 633.2,187.0 635.9,187.6 C638.6,188.3 641.4,188.9 644.1,189.2 C646.9,189.5 649.6,189.6 652.4,189.7 C655.1,189.8 657.9,189.9 660.6,190.0 C663.4,190.0 666.1,190.0 668.8,190.0 C671.6,189.9 674.3,189.8 677.1,189.8 C679.8,189.7 682.6,189.6 685.3,189.5 C688.1,189.5 690.8,189.4 693.6,189.3 C696.3,189.3 700.4,189.1 701.8,189.1" class="v"/>
<path d="M437.0,446.2 C438.3,446.2 442.3,446.1 445.0,446.1 C447.7,446.0 450.4,445.9 453.0,445.9 C455.7,445.8 458.4,445.8 461.1,445.7 C463.7,445.6 466.4,445.6 469.1,445.5 C471.8,445.5 474.4,445.4 477.1,445.3 C479.8,445.2 482.5,445.2 485.1,445.1 C487.8,445.0 490.5,445.0 493.2,444.9 C495.8,444.8 498.5,444.7 501.2,444.7 C503.9,444.6 506.5,444.5 509.2,444.4 C511.9,444.4 514.6,444.3 517.2,444.2 C519.9,444.1 522.6,444.0 525.3,443.9 C527.9,443.8 530.6,443.8 533.3,443.6 C536.0,443.4 538.6,443.2 541.3,443.0 C544.0,442.7 546.7,442.3 549.3,441.9 C552.0,441.5 554.7,441.1 557.4,440.7 C560.0,440.3 562.7,439.9 565.4,439.7 C568.1,439.4 570.7,439.2 573.4,439.0 C576.1,438.8 578.8,438.6 581.4,438.4 C584.1,438.2 586.8,438.0 589.5,437.8 C592.1,437.5 594.8,437.3 597.5,437.0 C600.2,436.8 602.8,436.5 605.5,436.3 C608.2,436.1 610.9,435.9 613.5,435.7 C616.2,435.5 618.9,435.3 621.6,435.1 C624.2,435.0 626.9,434.9 629.6,434.7 C632.3,434.6 634.9,434.5 637.6,434.4 C640.3,434.3 643.0,434.2 645.6,434.1 C648.3,434.1 651.0,434.0 653.7,433.9 C656.3,433.9 659.0,433.8 661.7,433.7 C664.4,433.7 667.0,433.6 669.7,433.6 C672.4,433.5 675.1,433.5 677.7,433.4 C680.4,433.4 683.1,433.4 685.8,433.3 C688.4,433.3 691.1,433.3 693.8,433.2 C696.5,433.2 700.5,433.2 701.8,433.2" class="p"/>
<path d="M437.3,153.9 C438.6,153.9 442.6,153.9 445.3,154.0 C448.0,154.0 450.6,154.1 453.3,154.1 C456.0,154.1 458.6,154.2 461.3,154.2 C464.0,154.3 466.6,154.4 469.3,154.5 C472.0,154.6 474.6,154.7 477.3,154.7 C480.0,154.8 482.6,154.9 485.3,154.7 C488.0,154.5 490.6,154.1 493.3,153.6 C496.0,153.2 498.6,152.5 501.3,151.9 C504.0,151.4 506.6,150.8 509.3,150.3 C512.0,149.8 514.6,149.4 517.3,148.9 C520.0,148.4 522.6,147.9 525.3,147.5 C528.0,147.1 530.6,146.7 533.3,146.4 C536.0,146.1 538.6,145.9 541.3,145.6 C544.0,145.4 546.6,145.2 549.3,145.0 C552.0,144.8 554.6,144.6 557.3,144.4 C560.0,144.3 562.6,144.2 565.3,144.1 C568.0,144.1 570.6,144.1 573.3,144.1 C576.0,144.1 578.6,144.1 581.3,144.2 C584.0,144.2 586.6,144.2 589.3,144.3 C592.0,144.3 594.6,144.4 597.3,144.5 C600.0,144.5 602.6,144.6 605.3,144.7 C608.0,144.7 610.6,144.8 613.3,144.9 C616.0,144.9 618.6,145.0 621.3,145.1 C624.0,145.1 626.6,145.2 629.3,145.3 C632.0,145.3 634.6,145.4 637.3,145.4 C640.0,145.5 642.6,145.6 645.3,145.6 C648.0,145.7 650.6,145.7 653.3,145.8 C656.0,145.8 658.6,145.9 661.3,146.0 C664.0,146.0 666.6,146.1 669.3,146.1 C672.0,146.2 674.6,146.3 677.3,146.3 C680.0,146.4 682.6,146.5 685.3,146.5 C688.0,146.6 690.6,146.6 693.3,146.7 C696.0,146.8 700.0,146.9 701.3,146.9" class="b"/>
<path d="M437.3,159.0 C438.6,158.9 442.6,158.5 445.3,158.3 C448.0,158.1 450.6,157.9 453.3,157.7 C456.0,157.5 458.6,157.3 461.3,157.0 C464.0,156.8 466.6,156.5 469.3,156.3 C472.0,156.0 474.6,155.8 477.3,155.6 C480.0,155.5 482.6,155.5 485.3,155.5 C488.0,155.5 490.6,155.7 493.3,155.8 C496.0,155.9 498.6,156.0 501.3,156.2 C504.0,156.3 506.6,156.5 509.3,156.6 C512.0,156.8 514.6,157.0 517.3,157.1 C520.0,157.3 522.6,157.5 525.3,157.7 C528.0,157.9 530.6,158.2 533.3,158.4 C536.0,158.5 538.6,158.7 541.3,158.9 C544.0,159.0 546.6,159.2 549.3,159.4 C552.0,159.5 554.6,159.7 557.3,159.8 C560.0,160.0 562.6,160.1 565.3,160.3 C568.0,160.4 570.6,160.6 573.3,160.7 C576.0,160.9 578.6,161.0 581.3,161.2 C584.0,161.3 586.6,161.5 589.3,161.6 C592.0,161.8 594.6,161.9 597.3,162.1 C600.0,162.2 602.6,162.4 605.3,162.5 C608.0,162.6 610.6,162.8 613.3,162.9 C616.0,163.0 618.6,163.1 621.3,163.2 C624.0,163.3 626.6,163.4 629.3,163.5 C632.0,163.6 634.6,163.7 637.3,163.7 C640.0,163.8 642.6,163.9 645.3,163.9 C648.0,164.0 650.6,164.1 653.3,164.1 C656.0,164.2 658.6,164.3 661.3,164.3 C664.0,164.4 666.6,164.4 669.3,164.5 C672.0,164.5 674.6,164.6 677.3,164.6 C680.0,164.6 682.6,164.7 685.3,164.7 C688.0,164.7 690.6,164.8 693.3,164.8 C696.0,164.8 700.0,164.8 701.3,164.8" class="b"/>
<path d="M437.3,182.5 C438.6,182.4 442.6,182.3 445.3,182.2 C448.0,182.1 450.6,182.0 453.3,181.8 C456.0,181.7 458.6,181.6 461.3,181.5 C464.0,181.4 466.6,181.3 469.3,181.2 C472.0,181.1 474.6,180.9 477.3,180.8 C480.0,180.7 482.6,180.6 485.3,180.5 C488.0,180.3 490.6,180.1 493.3,180.0 C496.0,179.8 498.6,179.6 501.3,179.5 C504.0,179.4 506.6,179.3 509.3,179.3 C512.0,179.3 514.6,179.3 517.3,179.3 C520.0,179.3 522.6,179.3 525.3,179.3 C528.0,179.3 530.6,179.3 533.3,179.3 C536.0,179.3 538.6,179.3 541.3,179.4 C544.0,179.4 546.6,179.6 549.3,179.8 C552.0,179.9 554.6,180.2 557.3,180.4 C560.0,180.6 562.6,180.9 565.3,181.1 C568.0,181.4 570.6,181.6 573.3,181.9 C576.0,182.1 578.6,182.4 581.3,182.7 C584.0,183.0 586.6,183.3 589.3,183.6 C592.0,183.9 594.6,184.3 597.3,184.6 C600.0,185.0 602.6,185.3 605.3,185.7 C608.0,186.1 610.6,186.5 613.3,186.9 C616.0,187.4 618.6,187.9 621.3,188.4 C624.0,188.9 626.6,189.5 629.3,190.0 C632.0,190.5 634.6,190.9 637.3,191.3 C640.0,191.7 642.6,191.9 645.3,192.2 C648.0,192.4 650.6,192.6 653.3,192.8 C656.0,193.0 658.6,193.2 661.3,193.4 C664.0,193.5 666.6,193.7 669.3,193.9 C672.0,194.0 674.6,194.2 677.3,194.3 C680.0,194.4 682.6,194.5 685.3,194.6 C688.0,194.7 690.6,194.8 693.3,194.8 C696.0,194.9 700.0,194.9 701.3,194.9" class="b"/>
<path d="M437.3,190.0 C438.6,190.1 442.6,190.4 445.3,190.6 C448.0,190.9 450.6,191.1 453.3,191.4 C456.0,191.7 458.6,192.0 461.3,192.3 C464.0,192.7 466.6,193.0 469.3,193.4 C472.0,193.8 474.6,194.2 477.3,194.5 C480.0,194.9 482.6,195.3 485.3,195.8 C488.0,196.2 490.6,196.8 493.3,197.3 C496.0,197.8 498.6,198.4 501.3,199.0 C504.0,199.6 506.6,200.2 509.3,200.8 C512.0,201.4 514.6,201.9 517.3,202.5 C520.0,203.1 522.6,203.7 525.3,204.3 C528.0,204.9 530.6,205.6 533.3,206.2 C536.0,206.8 538.6,207.4 541.3,208.0 C544.0,208.6 546.6,209.3 549.3,209.9 C552.0,210.5 554.6,211.2 557.3,211.8 C560.0,212.4 562.6,213.0 565.3,213.6 C568.0,214.2 570.6,214.8 573.3,215.4 C576.0,216.0 578.6,216.5 581.3,217.1 C584.0,217.7 586.6,218.3 589.3,218.8 C592.0,219.4 594.6,219.9 597.3,220.4 C600.0,220.9 602.6,221.4 605.3,221.9 C608.0,222.4 610.6,222.9 613.3,223.4 C616.0,223.8 618.6,224.4 621.3,224.8 C624.0,225.3 626.6,225.8 629.3,226.2 C632.0,226.6 634.6,227.0 637.3,227.3 C640.0,227.6 642.6,227.8 645.3,227.9 C648.0,228.1 650.6,228.2 653.3,228.4 C656.0,228.5 658.6,228.7 661.3,228.8 C664.0,228.9 666.6,229.0 669.3,229.1 C672.0,229.2 674.6,229.3 677.3,229.4 C680.0,229.5 682.6,229.6 685.3,229.6 C688.0,229.7 690.6,229.7 693.3,229.8 C696.0,229.8 700.0,229.8 701.3,229.8" class="b"/>
<path d="M437.3,294.7 C438.6,294.7 442.6,294.6 445.3,294.5 C448.0,294.3 450.6,294.1 453.3,293.8 C456.0,293.6 458.6,293.3 461.3,293.0 C464.0,292.7 466.6,292.4 469.3,291.9 C472.0,291.5 474.6,290.9 477.3,290.3 C480.0,289.6 482.6,289.0 485.3,288.1 C488.0,287.2 490.6,286.1 493.3,285.0 C496.0,283.9 498.6,282.7 501.3,281.5 C504.0,280.3 506.6,279.2 509.3,278.0 C512.0,276.9 514.6,275.6 517.3,274.5 C520.0,273.3 522.6,272.1 525.3,270.9 C528.0,269.7 530.6,268.6 533.3,267.3 C536.0,266.0 538.6,264.7 541.3,263.2 C544.0,261.8 546.6,260.1 549.3,258.5 C552.0,256.8 554.6,255.1 557.3,253.3 C560.0,251.5 562.6,249.4 565.3,247.6 C568.0,245.7 570.6,243.9 573.3,242.3 C576.0,240.6 578.6,239.1 581.3,237.5 C584.0,235.9 586.6,234.4 589.3,232.8 C592.0,231.1 594.6,229.3 597.3,227.7 C600.0,226.1 602.6,224.4 605.3,223.0 C608.0,221.6 610.6,220.4 613.3,219.2 C616.0,218.1 618.6,217.0 621.3,216.1 C624.0,215.2 626.6,214.5 629.3,213.7 C632.0,213.0 634.6,212.3 637.3,211.8 C640.0,211.3 642.6,211.1 645.3,210.9 C648.0,210.7 650.6,210.7 653.3,210.7 C656.0,210.6 658.6,210.6 661.3,210.5 C664.0,210.5 666.6,210.5 669.3,210.5 C672.0,210.5 674.6,210.5 677.3,210.5 C680.0,210.5 682.6,210.6 685.3,210.6 C688.0,210.6 690.6,210.7 693.3,210.7 C696.0,210.8 700.0,210.9 701.3,210.9" class="p"/>
<path d="M437.3,244.4 C438.6,244.3 442.6,244.0 445.3,243.9 C448.0,243.7 450.6,243.5 453.3,243.3 C456.0,243.1 458.6,242.9 461.3,242.7 C464.0,242.4 466.6,242.2 469.3,242.0 C472.0,241.7 474.6,241.4 477.3,241.1 C480.0,240.9 482.6,240.6 485.3,240.4 C488.0,240.2 490.6,240.1 493.3,239.9 C496.0,239.8 498.6,239.7 501.3,239.7 C504.0,239.6 506.6,239.5 509.3,239.5 C512.0,239.4 514.6,239.3 517.3,239.3 C520.0,239.2 522.6,239.1 525.3,239.1 C528.0,239.0 530.6,238.9 533.3,238.8 C536.0,238.8 538.6,238.7 541.3,238.7 C544.0,238.6 546.6,238.6 549.3,238.6 C552.0,238.7 554.6,238.8 557.3,239.0 C560.0,239.2 562.6,239.4 565.3,239.7 C568.0,240.0 570.6,240.2 573.3,240.5 C576.0,240.9 578.6,241.3 581.3,241.7 C584.0,242.1 586.6,242.6 589.3,243.1 C592.0,243.6 594.6,244.2 597.3,244.7 C600.0,245.3 602.6,245.8 605.3,246.4 C608.0,246.9 610.6,247.5 613.3,248.2 C616.0,248.8 618.6,249.5 621.3,250.3 C624.0,251.0 626.6,251.7 629.3,252.5 C632.0,253.2 634.6,253.9 637.3,254.5 C640.0,255.1 642.6,255.7 645.3,256.2 C648.0,256.8 650.6,257.2 653.3,257.7 C656.0,258.2 658.6,258.7 661.3,259.2 C664.0,259.6 666.6,260.0 669.3,260.4 C672.0,260.8 674.6,261.1 677.3,261.4 C680.0,261.6 682.6,261.8 685.3,262.0 C688.0,262.2 690.6,262.3 693.3,262.5 C696.0,262.6 700.0,262.7 701.3,262.7" class="b"/>
<path d="M437.3,264.6 C438.6,264.6 442.6,264.6 445.3,264.7 C448.0,264.7 450.6,264.7 453.3,264.7 C456.0,264.8 458.6,264.8 461.3,264.8 C464.0,264.8 466.6,264.9 469.3,264.9 C472.0,264.9 474.6,264.9 477.3,265.0 C480.0,265.0 482.6,265.0 485.3,265.1 C488.0,265.1 490.6,265.1 493.3,265.1 C496.0,265.2 498.6,265.2 501.3,265.2 C504.0,265.2 506.6,265.3 509.3,265.3 C512.0,265.3 514.6,265.3 517.3,265.4 C520.0,265.4 522.6,265.4 525.3,265.4 C528.0,265.5 530.6,265.5 533.3,265.5 C536.0,265.6 538.6,265.6 541.3,265.6 C544.0,265.6 546.6,265.7 549.3,265.7 C552.0,265.7 554.6,265.7 557.3,265.8 C560.0,265.8 562.6,265.8 565.3,265.9 C568.0,265.9 570.6,265.9 573.3,265.9 C576.0,266.0 578.6,266.0 581.3,266.0 C584.0,266.1 586.6,266.1 589.3,266.1 C592.0,266.1 594.6,266.2 597.3,266.2 C600.0,266.2 602.6,266.3 605.3,266.3 C608.0,266.3 610.6,266.3 613.3,266.4 C616.0,266.4 618.6,266.4 621.3,266.5 C624.0,266.5 626.6,266.5 629.3,266.6 C632.0,266.6 634.6,266.6 637.3,266.6 C640.0,266.7 642.6,266.7 645.3,266.7 C648.0,266.8 650.6,266.8 653.3,266.8 C656.0,266.9 658.6,266.9 661.3,266.9 C664.0,267.0 666.6,267.0 669.3,267.0 C672.0,267.0 674.6,267.1 677.3,267.1 C680.0,267.1 682.6,267.2 685.3,267.2 C688.0,267.2 690.6,267.3 693.3,267.3 C696.0,267.3 700.0,267.4 701.3,267.4" class="p"/>
<path d="M437.3,367.2 C438.6,367.2 442.6,367.3 445.3,367.3 C448.0,367.4 450.6,367.5 453.3,367.6 C456.0,367.6 458.6,367.8 461.3,367.9 C464.0,368.0 466.6,368.1 469.3,368.3 C472.0,368.4 474.6,368.6 477.3,368.7 C480.0,368.9 482.6,369.0 485.3,369.2 C488.0,369.4 490.6,369.6 493.3,369.9 C496.0,370.1 498.6,370.4 501.3,370.7 C504.0,371.0 506.6,371.3 509.3,371.6 C512.0,371.9 514.6,372.2 517.3,372.5 C520.0,372.8 522.6,373.1 525.3,373.4 C528.0,373.7 530.6,374.0 533.3,374.3 C536.0,374.6 538.6,374.9 541.3,375.3 C544.0,375.6 546.6,375.9 549.3,376.2 C552.0,376.5 554.6,376.8 557.3,377.1 C560.0,377.3 562.6,377.6 565.3,377.8 C568.0,378.0 570.6,378.2 573.3,378.4 C576.0,378.6 578.6,378.7 581.3,378.9 C584.0,379.0 586.6,379.2 589.3,379.3 C592.0,379.5 594.6,379.6 597.3,379.7 C600.0,379.9 602.6,380.0 605.3,380.1 C608.0,380.3 610.6,380.4 613.3,380.5 C616.0,380.6 618.6,380.7 621.3,380.9 C624.0,381.0 626.6,381.1 629.3,381.2 C632.0,381.3 634.6,381.5 637.3,381.6 C640.0,381.7 642.6,381.9 645.3,382.0 C648.0,382.1 650.6,382.2 653.3,382.4 C656.0,382.5 658.6,382.6 661.3,382.7 C664.0,382.9 666.6,383.0 669.3,383.1 C672.0,383.2 674.6,383.3 677.3,383.5 C680.0,383.6 682.6,383.7 685.3,383.8 C688.0,383.9 690.6,384.0 693.3,384.2 C696.0,384.3 700.0,384.4 701.3,384.5" class="p"/>
<path d="M437.3,411.2 C438.6,411.2 442.6,411.2 445.3,411.2 C448.0,411.3 450.7,411.3 453.3,411.4 C456.0,411.4 458.7,411.5 461.3,411.6 C464.0,411.8 466.7,411.9 469.4,412.1 C472.0,412.2 474.7,412.4 477.4,412.6 C480.0,412.8 482.7,413.0 485.4,413.3 C488.1,413.6 490.7,413.9 493.4,414.2 C496.1,414.5 498.7,414.9 501.4,415.2 C504.1,415.6 506.8,416.0 509.4,416.5 C512.1,416.9 514.8,417.4 517.5,417.9 C520.1,418.4 522.8,418.9 525.5,419.5 C528.1,420.0 530.8,420.6 533.5,421.3 C536.2,421.9 538.8,422.5 541.5,423.2 C544.2,423.9 546.8,424.7 549.5,425.4 C552.2,426.2 554.9,427.0 557.5,427.8 C560.2,428.6 562.9,429.5 565.5,430.4 C568.2,431.3 570.9,432.2 573.6,433.2 C576.2,434.2 578.9,435.2 581.6,436.2 C584.2,437.3 586.9,438.4 589.6,439.5 C592.3,440.6 594.9,441.7 597.6,442.9 C600.3,444.1 602.9,445.4 605.6,446.6 C608.3,447.9 611.0,449.2 613.6,450.5 C616.3,451.9 619.0,453.2 621.6,454.7 C624.3,456.1 627.0,457.5 629.7,459.0 C632.3,460.5 635.0,462.1 637.7,463.6 C640.4,465.2 643.0,466.8 645.7,468.5 C648.4,470.1 651.0,471.8 653.7,473.5 C656.4,475.3 659.1,477.1 661.7,478.9 C664.4,480.7 667.1,482.5 669.7,484.4 C672.4,486.3 675.1,488.2 677.8,490.2 C680.4,492.2 683.1,494.2 685.8,496.3 C688.4,498.3 691.1,500.4 693.8,502.6 C696.5,504.7 700.5,508.0 701.8,509.1" class="b"/>
<path d="M437.3,412.0 C438.6,412.0 442.6,412.0 445.2,412.1 C447.8,412.1 450.4,412.1 453.1,412.2 C455.7,412.3 458.3,412.4 461.0,412.6 C463.6,412.7 466.2,412.9 468.9,413.1 C471.5,413.2 474.1,413.5 476.7,413.7 C479.4,414.0 482.0,414.2 484.6,414.6 C487.3,414.9 489.9,415.2 492.5,415.6 C495.2,416.0 497.8,416.4 500.4,416.8 C503.0,417.3 505.7,417.7 508.3,418.2 C510.9,418.8 513.6,419.3 516.2,419.9 C518.8,420.5 521.5,421.1 524.1,421.7 C526.7,422.4 529.3,423.0 532.0,423.8 C534.6,424.5 537.2,425.2 539.9,426.0 C542.5,426.8 545.1,427.6 547.8,428.5 C550.4,429.4 553.0,430.3 555.6,431.2 C558.3,432.2 560.9,433.1 563.5,434.2 C566.2,435.2 568.8,436.2 571.4,437.3 C574.1,438.4 576.7,439.5 579.3,440.7 C581.9,441.9 584.6,443.1 587.2,444.3 C589.8,445.6 592.5,446.9 595.1,448.2 C597.7,449.5 600.4,450.9 603.0,452.3 C605.6,453.7 608.2,455.2 610.9,456.6 C613.5,458.1 616.1,459.7 618.8,461.2 C621.4,462.8 624.0,464.4 626.7,466.1 C629.3,467.7 631.9,469.4 634.5,471.1 C637.2,472.9 639.8,474.6 642.4,476.5 C645.1,478.3 647.7,480.1 650.3,482.0 C653.0,483.9 655.6,485.9 658.2,487.9 C660.8,489.9 663.5,491.9 666.1,494.0 C668.7,496.0 671.4,498.2 674.0,500.3 C676.6,502.5 679.3,504.7 681.9,506.9 C684.5,509.2 688.5,512.6 689.8,513.8" class="b"/>
<path d="M437.3,414.8 C438.6,414.8 442.6,414.8 445.2,414.9 C447.8,414.9 450.4,415.0 453.1,415.1 C455.7,415.2 458.3,415.3 461.0,415.5 C463.6,415.6 466.2,415.8 468.9,416.0 C471.5,416.2 474.1,416.5 476.7,416.7 C479.4,417.0 482.0,417.3 484.6,417.6 C487.3,418.0 489.9,418.3 492.5,418.7 C495.2,419.1 497.8,419.5 500.4,420.0 C503.0,420.4 505.7,420.9 508.3,421.4 C510.9,422.0 513.6,422.5 516.2,423.1 C518.8,423.7 521.5,424.3 524.1,424.9 C526.7,425.6 529.3,426.2 532.0,426.9 C534.6,427.7 537.2,428.4 539.9,429.2 C542.5,429.9 545.1,430.7 547.8,431.6 C550.4,432.4 553.0,433.3 555.6,434.2 C558.3,435.1 560.9,436.1 563.5,437.0 C566.2,438.0 568.8,439.0 571.4,440.0 C574.1,441.1 576.7,442.2 579.3,443.3 C581.9,444.4 584.6,445.5 587.2,446.7 C589.8,447.9 592.5,449.1 595.1,450.3 C597.7,451.5 600.4,452.8 603.0,454.1 C605.6,455.5 608.2,456.8 610.9,458.2 C613.5,459.6 616.1,461.0 618.8,462.4 C621.4,463.9 624.0,465.4 626.7,466.9 C629.3,468.4 631.9,469.9 634.5,471.5 C637.2,473.1 639.8,474.7 642.4,476.4 C645.1,478.1 647.7,479.8 650.3,481.5 C653.0,483.2 655.6,485.0 658.2,486.8 C660.8,488.6 663.5,490.4 666.1,492.3 C668.7,494.1 671.4,496.1 674.0,498.0 C676.6,499.9 679.3,501.9 681.9,503.9 C684.5,505.9 688.5,509.0 689.8,510.1" class="b"/>
<path d="M437.3,423.4 C438.6,423.4 442.6,423.5 445.3,423.6 C448.0,423.6 450.7,423.7 453.3,423.9 C456.0,424.1 458.7,424.3 461.3,424.5 C464.0,424.7 466.7,425.0 469.4,425.3 C472.0,425.6 474.7,425.9 477.4,426.3 C480.0,426.7 482.7,427.1 485.4,427.5 C488.1,427.9 490.7,428.4 493.4,428.9 C496.1,429.4 498.7,429.9 501.4,430.5 C504.1,431.1 506.8,431.7 509.4,432.3 C512.1,432.9 514.8,433.6 517.5,434.2 C520.1,434.9 522.8,435.6 525.5,436.4 C528.1,437.1 530.8,437.9 533.5,438.7 C536.2,439.5 538.8,440.4 541.5,441.3 C544.2,442.1 546.8,443.0 549.5,443.9 C552.2,444.9 554.9,445.8 557.5,446.8 C560.2,447.8 562.9,448.8 565.5,449.9 C568.2,450.9 570.9,452.0 573.6,453.1 C576.2,454.2 578.9,455.4 581.6,456.5 C584.2,457.7 586.9,458.9 589.6,460.1 C592.3,461.3 594.9,462.6 597.6,463.9 C600.3,465.1 602.9,466.5 605.6,467.8 C608.3,469.1 611.0,470.5 613.6,471.9 C616.3,473.3 619.0,474.7 621.6,476.2 C624.3,477.6 627.0,479.1 629.7,480.6 C632.3,482.1 635.0,483.7 637.7,485.2 C640.4,486.8 643.0,488.4 645.7,490.0 C648.4,491.6 651.0,493.3 653.7,495.0 C656.4,496.7 659.1,498.4 661.7,500.1 C664.4,501.8 667.1,503.6 669.7,505.4 C672.4,507.2 676.4,509.9 677.8,510.8" class="b"/>
<path d="M437.3,430.5 C438.6,430.5 442.6,430.6 445.3,430.7 C448.0,430.8 450.7,431.0 453.3,431.2 C456.0,431.4 458.7,431.7 461.3,432.0 C464.0,432.3 466.7,432.6 469.4,433.0 C472.0,433.3 474.7,433.7 477.4,434.2 C480.0,434.6 482.7,435.1 485.4,435.6 C488.1,436.1 490.7,436.7 493.4,437.2 C496.1,437.8 498.7,438.4 501.4,439.1 C504.1,439.7 506.8,440.4 509.4,441.1 C512.1,441.8 514.8,442.5 517.5,443.3 C520.1,444.1 522.8,444.9 525.5,445.7 C528.1,446.5 530.8,447.4 533.5,448.3 C536.2,449.2 538.8,450.1 541.5,451.0 C544.2,452.0 546.8,452.9 549.5,453.9 C552.2,454.9 554.9,456.0 557.5,457.0 C560.2,458.1 562.9,459.2 565.5,460.3 C568.2,461.4 570.9,462.6 573.6,463.8 C576.2,464.9 578.9,466.1 581.6,467.4 C584.2,468.6 586.9,469.8 589.6,471.1 C592.3,472.4 594.9,473.7 597.6,475.1 C600.3,476.4 602.9,477.8 605.6,479.1 C608.3,480.5 611.0,482.0 613.6,483.4 C616.3,484.8 619.0,486.3 621.6,487.8 C624.3,489.3 627.0,490.8 629.7,492.4 C632.3,493.9 635.0,495.5 637.7,497.1 C640.4,498.7 643.0,500.3 645.7,501.9 C648.4,503.6 652.4,506.1 653.7,507.0" class="b"/>
<path d="M437.3,437.1 C438.6,437.1 442.5,437.2 445.2,437.3 C447.8,437.5 450.4,437.6 453.0,437.8 C455.6,438.0 458.3,438.3 460.9,438.6 C463.5,438.9 466.1,439.3 468.7,439.6 C471.4,440.0 474.0,440.4 476.6,440.9 C479.2,441.3 481.8,441.8 484.5,442.4 C487.1,442.9 489.7,443.4 492.3,444.0 C494.9,444.6 497.6,445.2 500.2,445.9 C502.8,446.6 505.4,447.3 508.0,448.0 C510.7,448.7 513.3,449.5 515.9,450.3 C518.5,451.1 521.2,451.9 523.8,452.7 C526.4,453.6 529.0,454.5 531.6,455.4 C534.3,456.3 536.9,457.2 539.5,458.2 C542.1,459.2 544.7,460.2 547.4,461.2 C550.0,462.3 552.6,463.3 555.2,464.4 C557.8,465.5 560.5,466.6 563.1,467.8 C565.7,468.9 568.3,470.1 570.9,471.3 C573.6,472.5 576.2,473.8 578.8,475.0 C581.4,476.3 584.0,477.6 586.7,478.9 C589.3,480.2 591.9,481.6 594.5,483.0 C597.1,484.3 599.8,485.7 602.4,487.2 C605.0,488.6 607.6,490.0 610.2,491.5 C612.9,493.0 615.5,494.5 618.1,496.1 C620.7,497.6 623.3,499.2 626.0,500.8 C628.6,502.4 631.2,504.0 633.8,505.6 C636.4,507.3 640.4,509.8 641.7,510.6" class="b"/>
<path d="M437.3,446.8 C438.6,446.8 442.5,446.9 445.1,447.0 C447.8,447.1 450.4,447.2 453.0,447.4 C455.6,447.5 458.2,447.8 460.8,448.0 C463.4,448.3 466.1,448.6 468.7,448.9 C471.3,449.3 473.9,449.7 476.5,450.1 C479.1,450.5 481.7,451.0 484.3,451.4 C487.0,451.9 489.6,452.5 492.2,453.0 C494.8,453.6 497.4,454.2 500.0,454.8 C502.6,455.5 505.3,456.1 507.9,456.8 C510.5,457.5 513.1,458.3 515.7,459.1 C518.3,459.8 520.9,460.6 523.5,461.5 C526.2,462.3 528.8,463.2 531.4,464.1 C534.0,465.0 536.6,466.0 539.2,467.0 C541.8,468.0 544.5,469.0 547.1,470.0 C549.7,471.1 552.3,472.2 554.9,473.3 C557.5,474.4 560.1,475.6 562.8,476.7 C565.4,477.9 568.0,479.1 570.6,480.4 C573.2,481.6 575.8,482.9 578.4,484.3 C581.1,485.6 583.7,486.9 586.3,488.3 C588.9,489.7 591.5,491.1 594.1,492.5 C596.7,494.0 599.3,495.5 602.0,497.0 C604.6,498.5 607.2,500.1 609.8,501.6 C612.4,503.2 616.3,505.7 617.6,506.5" class="b"/>
<path d="M437.3,455.2 C438.6,455.2 442.5,455.3 445.1,455.4 C447.8,455.5 450.4,455.6 453.0,455.8 C455.6,456.0 458.2,456.3 460.8,456.5 C463.4,456.8 466.1,457.1 468.7,457.4 C471.3,457.8 473.9,458.1 476.5,458.5 C479.1,458.9 481.7,459.3 484.3,459.8 C487.0,460.3 489.6,460.8 492.2,461.3 C494.8,461.8 497.4,462.3 500.0,462.9 C502.6,463.5 505.3,464.1 507.9,464.8 C510.5,465.4 513.1,466.1 515.7,466.7 C518.3,467.4 520.9,468.2 523.5,468.9 C526.2,469.7 528.8,470.4 531.4,471.2 C534.0,472.0 536.6,472.9 539.2,473.7 C541.8,474.6 544.5,475.5 547.1,476.4 C549.7,477.3 552.3,478.2 554.9,479.2 C557.5,480.1 560.1,481.1 562.8,482.1 C565.4,483.1 568.0,484.2 570.6,485.2 C573.2,486.3 575.8,487.4 578.4,488.5 C581.1,489.6 583.7,490.7 586.3,491.9 C588.9,493.0 591.5,494.2 594.1,495.4 C596.7,496.6 599.3,497.9 602.0,499.1 C604.6,500.4 607.2,501.6 609.8,502.9 C612.4,504.2 616.3,506.3 617.6,506.9" class="b"/>
<path d="M437.3,460.2 C438.6,460.2 442.5,460.3 445.1,460.4 C447.8,460.5 450.4,460.6 453.0,460.8 C455.6,461.0 458.2,461.2 460.8,461.5 C463.4,461.7 466.1,462.0 468.7,462.3 C471.3,462.6 473.9,463.0 476.5,463.4 C479.1,463.7 481.7,464.1 484.3,464.6 C487.0,465.0 489.6,465.5 492.2,466.0 C494.8,466.5 497.4,467.0 500.0,467.6 C502.6,468.1 505.3,468.7 507.9,469.3 C510.5,469.9 513.1,470.5 515.7,471.2 C518.3,471.8 520.9,472.5 523.5,473.2 C526.2,474.0 528.8,474.7 531.4,475.5 C534.0,476.2 536.6,477.0 539.2,477.8 C541.8,478.6 544.5,479.5 547.1,480.3 C549.7,481.2 552.3,482.1 554.9,483.0 C557.5,483.9 560.1,484.8 562.8,485.8 C565.4,486.8 568.0,487.8 570.6,488.8 C573.2,489.8 575.8,490.8 578.4,491.9 C581.1,492.9 583.7,494.0 586.3,495.1 C588.9,496.2 591.5,497.3 594.1,498.5 C596.7,499.6 599.3,500.8 602.0,502.0 C604.6,503.2 607.2,504.4 609.8,505.6 C612.4,506.9 616.3,508.8 617.6,509.4" class="b"/>
<path d="M437.3,468.1 C438.6,468.1 442.5,468.2 445.1,468.3 C447.7,468.4 450.3,468.5 452.9,468.7 C455.5,468.9 458.1,469.2 460.7,469.4 C463.3,469.7 466.0,470.0 468.6,470.3 C471.2,470.7 473.8,471.0 476.4,471.4 C479.0,471.8 481.6,472.3 484.2,472.7 C486.8,473.2 489.4,473.7 492.0,474.2 C494.6,474.7 497.2,475.3 499.8,475.9 C502.4,476.4 505.0,477.1 507.6,477.7 C510.2,478.3 512.8,479.0 515.4,479.7 C518.1,480.4 520.7,481.1 523.3,481.9 C525.9,482.6 528.5,483.4 531.1,484.2 C533.7,485.0 536.3,485.9 538.9,486.7 C541.5,487.6 544.1,488.5 546.7,489.4 C549.3,490.3 551.9,491.2 554.5,492.2 C557.1,493.1 559.7,494.1 562.3,495.1 C564.9,496.2 567.5,497.2 570.2,498.3 C572.8,499.3 575.4,500.4 578.0,501.5 C580.6,502.6 583.2,503.8 585.8,504.9 C588.4,506.1 592.3,507.9 593.6,508.5" class="b"/>
<path d="M437.3,472.6 C438.6,472.6 442.6,472.7 445.3,472.8 C448.0,472.9 450.7,473.0 453.3,473.2 C456.0,473.4 458.7,473.7 461.3,473.9 C464.0,474.2 466.7,474.5 469.4,474.8 C472.0,475.1 474.7,475.5 477.4,475.9 C480.0,476.3 482.7,476.7 485.4,477.2 C488.1,477.7 490.7,478.1 493.4,478.7 C496.1,479.2 498.7,479.7 501.4,480.3 C504.1,480.9 506.8,481.5 509.4,482.1 C512.1,482.8 514.8,483.4 517.5,484.1 C520.1,484.8 522.8,485.5 525.5,486.3 C528.1,487.0 530.8,487.8 533.5,488.6 C536.2,489.4 538.8,490.2 541.5,491.1 C544.2,491.9 546.8,492.8 549.5,493.7 C552.2,494.6 554.9,495.5 557.5,496.5 C560.2,497.4 562.9,498.4 565.5,499.4 C568.2,500.4 570.9,501.5 573.6,502.5 C576.2,503.6 580.2,505.2 581.6,505.8" class="b"/>
<path d="M437.3,481.6 C438.6,481.6 442.6,481.7 445.3,481.8 C448.0,481.9 450.7,482.0 453.3,482.2 C456.0,482.4 458.7,482.6 461.3,482.9 C464.0,483.2 466.7,483.5 469.4,483.8 C472.0,484.1 474.7,484.5 477.4,484.9 C480.0,485.3 482.7,485.7 485.4,486.1 C488.1,486.6 490.7,487.1 493.4,487.6 C496.1,488.1 498.7,488.7 501.4,489.2 C504.1,489.8 506.8,490.4 509.4,491.0 C512.1,491.7 514.8,492.3 517.5,493.0 C520.1,493.7 522.8,494.4 525.5,495.1 C528.1,495.9 530.8,496.6 533.5,497.4 C536.2,498.2 538.8,499.0 541.5,499.9 C544.2,500.7 546.8,501.6 549.5,502.5 C552.2,503.4 556.2,504.8 557.5,505.3" class="b"/>
<path d="M437.3,490.0 C438.6,490.0 442.6,490.0 445.3,490.1 C448.0,490.1 450.7,490.2 453.3,490.3 C456.0,490.4 458.7,490.5 461.3,490.6 C464.0,490.7 466.7,490.9 469.4,491.0 C472.0,491.2 474.7,491.3 477.4,491.5 C480.0,491.7 482.7,491.9 485.4,492.1 C488.1,492.3 490.7,492.5 493.4,492.7 C496.1,493.0 498.7,493.2 501.4,493.5 C504.1,493.8 506.8,494.0 509.4,494.3 C512.1,494.6 514.8,494.9 517.5,495.2 C520.1,495.5 522.8,495.9 525.5,496.2 C528.1,496.5 530.8,496.9 533.5,497.2 C536.2,497.6 538.8,498.0 541.5,498.4 C544.2,498.8 546.8,499.2 549.5,499.6 C552.2,500.0 554.9,500.4 557.5,500.8 C560.2,501.3 562.9,501.7 565.5,502.2 C568.2,502.6 570.9,503.1 573.6,503.6 C576.2,504.0 580.2,504.8 581.6,505.0" class="b"/>
</g>
<rect x="437.3" y="46.8" width="264.5" height="444.4" fill="none" stroke="#2a2a2a" stroke-width="1.6"/>
<line x1="435.3" y1="491.35" x2="437.3" y2="491.35" stroke="#333" stroke-width="1"/>
<line x1="701.8" y1="491.35" x2="703.8" y2="491.35" stroke="#333" stroke-width="1"/>
<line x1="433.3" y1="477.00" x2="437.3" y2="477.00" stroke="#333" stroke-width="1"/>
<line x1="701.8" y1="477.00" x2="705.8" y2="477.00" stroke="#333" stroke-width="1"/>
<text transform="translate(429.7,484.90) scale(1,1.035)" class="tl">-1.2</text>
<line x1="435.3" y1="462.65" x2="437.3" y2="462.65" stroke="#333" stroke-width="1"/>
<line x1="701.8" y1="462.65" x2="703.8" y2="462.65" stroke="#333" stroke-width="1"/>
<line x1="435.3" y1="448.30" x2="437.3" y2="448.30" stroke="#333" stroke-width="1"/>
<line x1="701.8" y1="448.30" x2="703.8" y2="448.30" stroke="#333" stroke-width="1"/>
<line x1="435.3" y1="433.95" x2="437.3" y2="433.95" stroke="#333" stroke-width="1"/>
<line x1="701.8" y1="433.95" x2="703.8" y2="433.95" stroke="#333" stroke-width="1"/>
<line x1="433.3" y1="419.60" x2="437.3" y2="419.60" stroke="#333" stroke-width="1"/>
<line x1="701.8" y1="419.60" x2="705.8" y2="419.60" stroke="#333" stroke-width="1"/>
<text transform="translate(429.7,427.50) scale(1,1.035)" class="tl">-0.8</text>
<line x1="435.3" y1="405.25" x2="437.3" y2="405.25" stroke="#333" stroke-width="1"/>
<line x1="701.8" y1="405.25" x2="703.8" y2="405.25" stroke="#333" stroke-width="1"/>
<line x1="435.3" y1="390.90" x2="437.3" y2="390.90" stroke="#333" stroke-width="1"/>
<line x1="701.8" y1="390.90" x2="703.8" y2="390.90" stroke="#333" stroke-width="1"/>
<line x1="435.3" y1="376.55" x2="437.3" y2="376.55" stroke="#333" stroke-width="1"/>
<line x1="701.8" y1="376.55" x2="703.8" y2="376.55" stroke="#333" stroke-width="1"/>
<line x1="433.3" y1="362.20" x2="437.3" y2="362.20" stroke="#333" stroke-width="1"/>
<line x1="701.8" y1="362.20" x2="705.8" y2="362.20" stroke="#333" stroke-width="1"/>
<text transform="translate(429.7,370.10) scale(1,1.035)" class="tl">-0.4</text>
<line x1="435.3" y1="347.85" x2="437.3" y2="347.85" stroke="#333" stroke-width="1"/>
<line x1="701.8" y1="347.85" x2="703.8" y2="347.85" stroke="#333" stroke-width="1"/>
<line x1="435.3" y1="333.50" x2="437.3" y2="333.50" stroke="#333" stroke-width="1"/>
<line x1="701.8" y1="333.50" x2="703.8" y2="333.50" stroke="#333" stroke-width="1"/>
<line x1="435.3" y1="319.15" x2="437.3" y2="319.15" stroke="#333" stroke-width="1"/>
<line x1="701.8" y1="319.15" x2="703.8" y2="319.15" stroke="#333" stroke-width="1"/>
<line x1="433.3" y1="304.80" x2="437.3" y2="304.80" stroke="#333" stroke-width="1"/>
<line x1="701.8" y1="304.80" x2="705.8" y2="304.80" stroke="#333" stroke-width="1"/>
<text transform="translate(429.7,312.70) scale(1,1.035)" class="tl">0</text>
<line x1="435.3" y1="290.45" x2="437.3" y2="290.45" stroke="#333" stroke-width="1"/>
<line x1="701.8" y1="290.45" x2="703.8" y2="290.45" stroke="#333" stroke-width="1"/>
<line x1="435.3" y1="276.10" x2="437.3" y2="276.10" stroke="#333" stroke-width="1"/>
<line x1="701.8" y1="276.10" x2="703.8" y2="276.10" stroke="#333" stroke-width="1"/>
<line x1="435.3" y1="261.75" x2="437.3" y2="261.75" stroke="#333" stroke-width="1"/>
<line x1="701.8" y1="261.75" x2="703.8" y2="261.75" stroke="#333" stroke-width="1"/>
<line x1="433.3" y1="247.40" x2="437.3" y2="247.40" stroke="#333" stroke-width="1"/>
<line x1="701.8" y1="247.40" x2="705.8" y2="247.40" stroke="#333" stroke-width="1"/>
<text transform="translate(429.7,255.30) scale(1,1.035)" class="tl">0.4</text>
<line x1="435.3" y1="233.05" x2="437.3" y2="233.05" stroke="#333" stroke-width="1"/>
<line x1="701.8" y1="233.05" x2="703.8" y2="233.05" stroke="#333" stroke-width="1"/>
<line x1="435.3" y1="218.70" x2="437.3" y2="218.70" stroke="#333" stroke-width="1"/>
<line x1="701.8" y1="218.70" x2="703.8" y2="218.70" stroke="#333" stroke-width="1"/>
<line x1="435.3" y1="204.35" x2="437.3" y2="204.35" stroke="#333" stroke-width="1"/>
<line x1="701.8" y1="204.35" x2="703.8" y2="204.35" stroke="#333" stroke-width="1"/>
<line x1="433.3" y1="190.00" x2="437.3" y2="190.00" stroke="#333" stroke-width="1"/>
<line x1="701.8" y1="190.00" x2="705.8" y2="190.00" stroke="#333" stroke-width="1"/>
<text transform="translate(429.7,197.90) scale(1,1.035)" class="tl">0.8</text>
<line x1="435.3" y1="175.65" x2="437.3" y2="175.65" stroke="#333" stroke-width="1"/>
<line x1="701.8" y1="175.65" x2="703.8" y2="175.65" stroke="#333" stroke-width="1"/>
<line x1="435.3" y1="161.30" x2="437.3" y2="161.30" stroke="#333" stroke-width="1"/>
<line x1="701.8" y1="161.30" x2="703.8" y2="161.30" stroke="#333" stroke-width="1"/>
<line x1="435.3" y1="146.95" x2="437.3" y2="146.95" stroke="#333" stroke-width="1"/>
<line x1="701.8" y1="146.95" x2="703.8" y2="146.95" stroke="#333" stroke-width="1"/>
<line x1="433.3" y1="132.60" x2="437.3" y2="132.60" stroke="#333" stroke-width="1"/>
<line x1="701.8" y1="132.60" x2="705.8" y2="132.60" stroke="#333" stroke-width="1"/>
<text transform="translate(429.7,140.50) scale(1,1.035)" class="tl">1.2</text>
<line x1="435.3" y1="118.25" x2="437.3" y2="118.25" stroke="#333" stroke-width="1"/>
<line x1="701.8" y1="118.25" x2="703.8" y2="118.25" stroke="#333" stroke-width="1"/>
<line x1="435.3" y1="103.90" x2="437.3" y2="103.90" stroke="#333" stroke-width="1"/>
<line x1="701.8" y1="103.90" x2="703.8" y2="103.90" stroke="#333" stroke-width="1"/>
<line x1="435.3" y1="89.55" x2="437.3" y2="89.55" stroke="#333" stroke-width="1"/>
<line x1="701.8" y1="89.55" x2="703.8" y2="89.55" stroke="#333" stroke-width="1"/>
<line x1="433.3" y1="75.20" x2="437.3" y2="75.20" stroke="#333" stroke-width="1"/>
<line x1="701.8" y1="75.20" x2="705.8" y2="75.20" stroke="#333" stroke-width="1"/>
<text transform="translate(429.7,83.10) scale(1,1.035)" class="tl">1.6</text>
<line x1="435.3" y1="60.85" x2="437.3" y2="60.85" stroke="#333" stroke-width="1"/>
<line x1="701.8" y1="60.85" x2="703.8" y2="60.85" stroke="#333" stroke-width="1"/>
<line x1="435.3" y1="46.50" x2="437.3" y2="46.50" stroke="#333" stroke-width="1"/>
<line x1="701.8" y1="46.50" x2="703.8" y2="46.50" stroke="#333" stroke-width="1"/>
<text x="430.3" y="520" class="gam">&#915;</text>
<text x="690.8" y="518.3" class="sym">Y</text>
<text transform="translate(382.3,347) rotate(-90)" class="yl">Energy (eV)</text>
<text x="390.3" y="27" class="pl">(b)</text>
<text x="490.8" y="36" class="tt">Co - 25 - WS<tspan dx="0.5" dy="6" font-size="16">2</tspan></text>
<text x="557.8" y="108" class="lg">majority</text>
<text x="557.8" y="126" class="lg">minority</text>
<line x1="615.3" y1="102.7" x2="655.6" y2="102.7" stroke="#ff2a2a" stroke-width="2"/>
<line x1="615.3" y1="120.1" x2="655.6" y2="120.1" stroke="#2222ff" stroke-width="2" stroke-dasharray="7 4.2"/>
</svg></body></html>
